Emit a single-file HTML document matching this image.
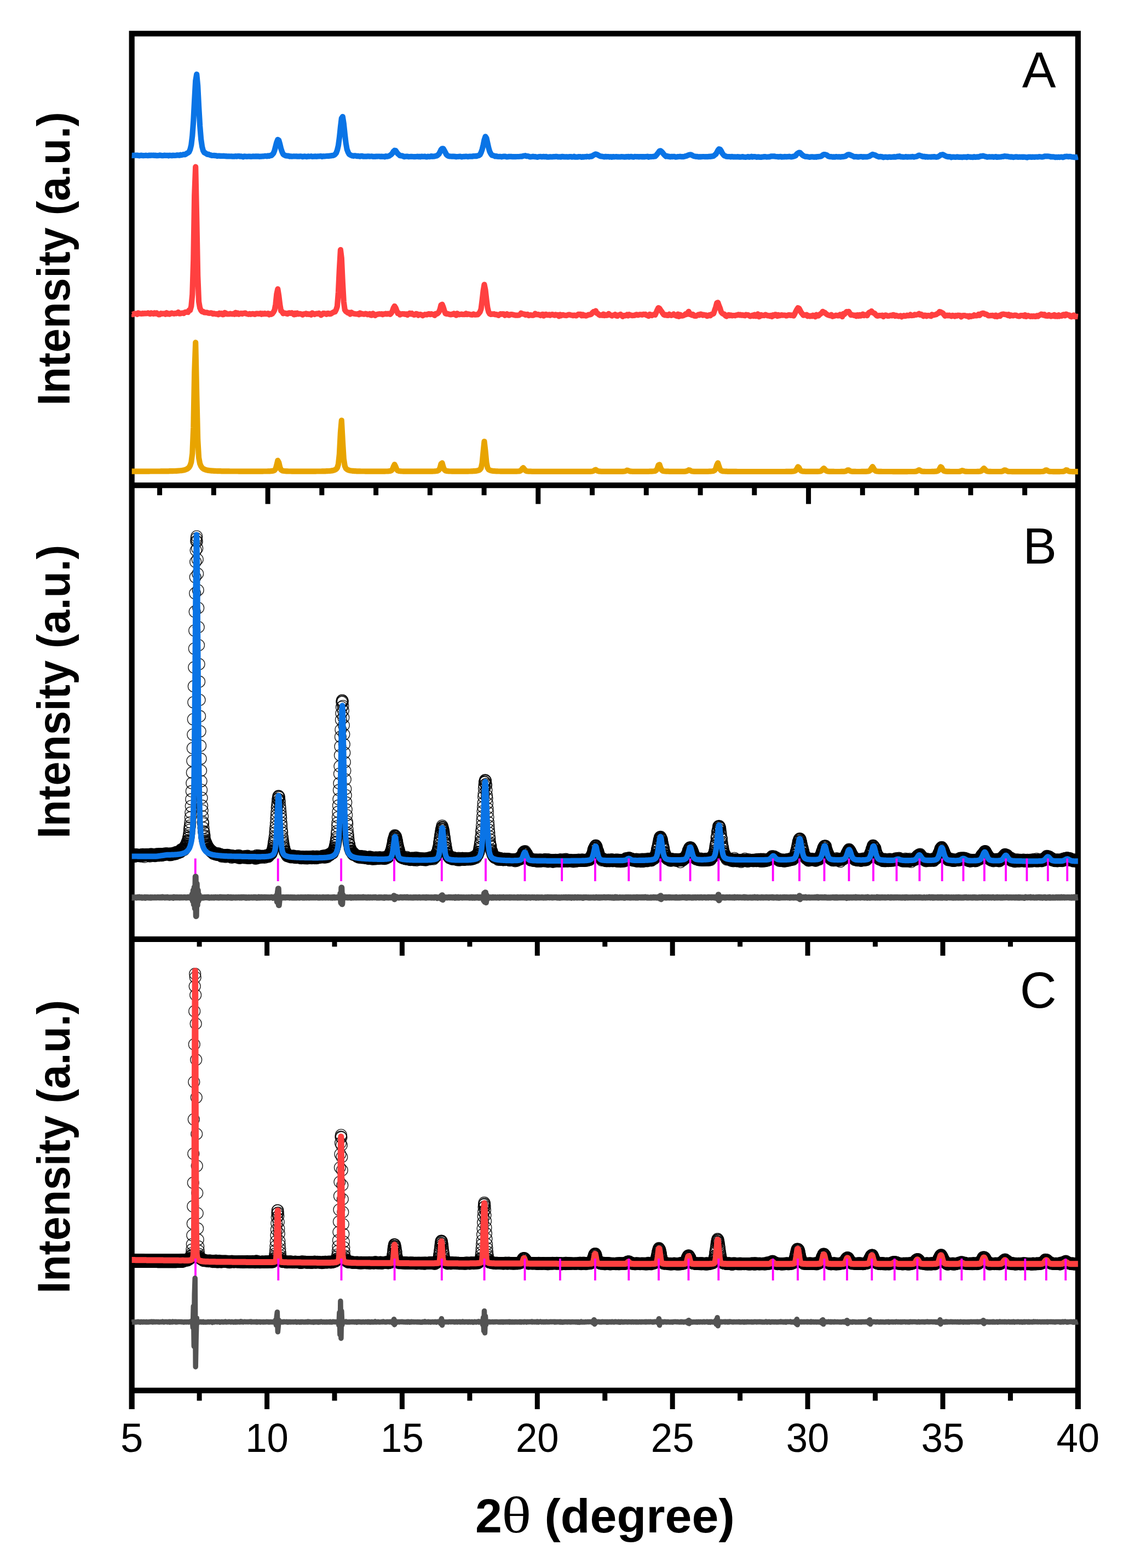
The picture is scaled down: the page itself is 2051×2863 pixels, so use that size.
<!DOCTYPE html>
<html lang="en"><head><meta charset="utf-8"><title>XRD patterns</title>
<style>html,body{margin:0;padding:0;background:#fff;width:2051px;height:2863px;overflow:hidden}svg{display:block}</style></head>
<body>
<svg width="2051" height="2863" viewBox="0 0 2051 2863">
<defs><marker id="mk" viewBox="-14 -14 28 28" markerWidth="28" markerHeight="28" refX="0" refY="0" markerUnits="userSpaceOnUse" overflow="visible"><circle r="10.4" fill="none" stroke="#000" stroke-width="1.4" stroke-opacity="0.85"/></marker>
<clipPath id="cpA"><rect x="240.1" y="61.4" width="1729.3" height="824.7"/></clipPath>
<clipPath id="cpB"><rect x="240.1" y="886.1" width="1729.3" height="828.6999999999999"/></clipPath>
<clipPath id="cpC"><rect x="240.1" y="1714.8" width="1729.3" height="824.0000000000002"/></clipPath>
</defs>
<rect width="2051" height="2863" fill="#fff"/>
<g stroke="#000" stroke-width="10.2" fill="none" stroke-linecap="butt">
<path d="M240.7 56.3V2572.9M1968.8 56.3V2572.9M235.6 61.4H1973.8999999999999M240.7 886.1H1968.8M240.7 1714.8H1968.8M240.7 2538.8H1968.8"/>
</g>
<path d="M291.6 886.1V904.2M390.3 886.1V904.2M489.1 886.1V920.2M587.8 886.1V904.2M686.6 886.1V904.2M785.3 886.1V904.2M884.1 886.1V904.2M982.8 886.1V920.2M1081.6 886.1V904.2M1180.3 886.1V904.2M1279.1 886.1V904.2M1377.8 886.1V904.2M1476.6 886.1V920.2M1575.3 886.1V904.2M1674.1 886.1V904.2M1772.8 886.1V904.2M1871.6 886.1V904.2M364.1 1714.8V1728.3999999999999M487.6 1714.8V1744.8999999999999M611.0 1714.8V1728.3999999999999M734.4 1714.8V1744.8999999999999M857.9 1714.8V1728.3999999999999M981.3 1714.8V1744.8999999999999M1104.8 1714.8V1728.3999999999999M1228.2 1714.8V1744.8999999999999M1351.6 1714.8V1728.3999999999999M1475.1 1714.8V1744.8999999999999M1598.5 1714.8V1728.3999999999999M1721.9 1714.8V1744.8999999999999M1845.4 1714.8V1728.3999999999999M364.1 2538.8V2557.4M487.6 2538.8V2572.9M611.0 2538.8V2557.4M734.4 2538.8V2572.9M857.9 2538.8V2557.4M981.3 2538.8V2572.9M1104.8 2538.8V2557.4M1228.2 2538.8V2572.9M1351.6 2538.8V2557.4M1475.1 2538.8V2572.9M1598.5 2538.8V2557.4M1721.9 2538.8V2572.9M1845.4 2538.8V2557.4" stroke="#000" stroke-width="9" fill="none"/>
<g clip-path="url(#cpA)">
<polyline fill="none" stroke="#0a74e6" stroke-width="10.2" stroke-linejoin="round" stroke-linecap="butt" points="240.7,283.8 242.7,283.9 244.6,283.7 246.6,283.6 248.6,283.7 250.6,283.6 252.5,283.9 254.5,284.3 256.5,283.8 258.5,283.7 260.4,284.1 262.4,284.1 264.4,284.0 266.4,283.7 268.3,284.0 270.3,284.2 272.3,283.6 274.3,283.9 276.2,283.5 278.2,283.7 280.2,283.5 282.2,284.0 284.1,283.7 286.1,284.2 288.1,284.1 290.1,284.0 292.0,283.3 294.0,283.9 296.0,284.1 298.0,284.1 299.9,283.6 301.9,283.9 303.9,283.8 305.9,283.8 307.8,284.3 309.8,283.7 311.8,283.9 313.8,284.2 315.7,283.7 317.7,283.8 319.7,283.8 321.7,283.7 323.6,283.2 325.6,283.4 327.6,283.7 329.6,282.6 331.5,283.1 333.5,282.6 335.5,282.0 337.5,282.3 339.4,281.4 341.4,279.9 343.4,279.1 345.4,277.2 347.3,272.9 349.3,264.6 351.3,247.8 353.3,220.3 355.2,183.4 357.2,147.6 359.2,135.7 361.2,156.9 363.1,194.8 365.1,229.4 367.1,253.9 369.1,267.8 371.0,275.0 373.0,278.4 375.0,279.4 377.0,280.7 378.9,281.9 380.9,281.7 382.9,282.7 384.9,283.2 386.8,283.9 388.8,284.0 390.8,283.9 392.8,284.1 394.7,284.2 396.7,284.9 398.7,284.5 400.7,284.6 402.6,284.9 404.6,284.8 406.6,284.9 408.6,284.7 410.5,285.1 412.5,285.0 414.5,285.5 416.5,285.4 418.4,285.3 420.4,285.5 422.4,285.3 424.4,285.7 426.3,285.5 428.3,285.7 430.3,285.1 432.3,285.7 434.2,285.1 436.2,285.0 438.2,285.6 440.2,285.4 442.1,285.7 444.1,286.4 446.1,285.4 448.1,285.5 450.0,285.8 452.0,285.8 454.0,285.6 456.0,285.6 457.9,285.9 459.9,285.8 461.9,285.4 463.9,285.7 465.8,285.7 467.8,285.3 469.8,285.7 471.8,285.4 473.7,285.9 475.7,285.6 477.7,285.6 479.7,285.3 481.6,285.4 483.6,284.8 485.6,284.9 487.6,285.3 489.5,284.3 491.5,285.0 493.5,283.9 495.5,284.0 497.4,282.2 499.4,279.9 501.4,274.8 503.4,267.1 505.3,259.9 507.3,254.9 509.3,256.3 511.3,263.4 513.2,271.4 515.2,277.3 517.2,281.6 519.2,283.1 521.1,284.1 523.1,284.4 525.1,284.7 527.1,284.7 529.0,285.6 531.0,285.3 533.0,285.7 535.0,285.5 536.9,285.3 538.9,285.5 540.9,285.4 542.9,285.6 544.8,285.6 546.8,285.6 548.8,285.3 550.8,285.5 552.7,286.2 554.7,285.5 556.7,285.4 558.7,285.8 560.6,286.2 562.6,285.3 564.6,285.7 566.6,285.5 568.5,285.2 570.5,285.9 572.5,285.7 574.5,285.7 576.4,285.4 578.4,285.8 580.4,285.4 582.4,285.5 584.3,285.2 586.3,285.1 588.3,285.9 590.3,285.2 592.2,285.4 594.2,285.2 596.2,285.0 598.2,284.9 600.1,285.0 602.1,284.6 604.1,284.4 606.1,284.1 608.0,284.0 610.0,283.2 612.0,281.9 614.0,279.4 615.9,274.3 617.9,265.9 619.9,251.2 621.9,232.1 623.8,216.1 625.8,213.1 627.8,225.9 629.8,244.9 631.7,261.0 633.7,272.6 635.7,277.9 637.7,281.5 639.6,282.8 641.6,283.7 643.6,284.5 645.6,284.8 647.5,284.3 649.5,284.3 651.5,285.2 653.5,284.8 655.4,285.3 657.4,285.6 659.4,284.9 661.4,284.9 663.3,285.6 665.3,285.6 667.3,285.6 669.3,285.7 671.2,285.4 673.2,285.3 675.2,285.7 677.2,285.5 679.1,285.3 681.1,285.9 683.1,285.8 685.1,285.9 687.0,285.5 689.0,285.6 691.0,285.5 693.0,285.5 694.9,285.9 696.9,285.5 698.9,285.9 700.9,285.8 702.8,286.3 704.8,285.2 706.8,285.7 708.8,285.2 710.7,284.8 712.7,283.4 714.7,282.0 716.7,279.7 718.6,276.5 720.6,274.7 722.6,275.1 724.6,278.1 726.5,280.6 728.5,282.3 730.5,284.1 732.5,284.5 734.4,284.4 736.4,285.4 738.4,286.1 740.4,285.8 742.3,285.5 744.3,285.6 746.3,286.2 748.3,286.0 750.2,285.9 752.2,285.9 754.2,286.0 756.2,286.2 758.1,286.1 760.1,286.0 762.1,285.7 764.1,286.1 766.0,285.8 768.0,286.3 770.0,285.6 772.0,285.9 773.9,286.0 775.9,285.5 777.9,286.4 779.9,286.3 781.8,285.7 783.8,286.1 785.8,285.9 787.8,285.0 789.7,285.8 791.7,285.6 793.7,285.4 795.7,284.8 797.6,284.4 799.6,283.1 801.6,281.2 803.6,277.5 805.5,273.5 807.5,271.3 809.5,271.4 811.5,274.9 813.4,278.4 815.4,282.4 817.4,284.1 819.4,285.0 821.3,285.4 823.3,285.5 825.3,285.7 827.3,285.6 829.2,285.7 831.2,285.8 833.2,286.3 835.2,286.0 837.1,285.9 839.1,285.7 841.1,285.7 843.1,286.4 845.0,286.0 847.0,285.9 849.0,285.8 851.0,285.5 852.9,285.8 854.9,286.1 856.9,285.6 858.9,285.6 860.8,285.6 862.8,285.6 864.8,285.0 866.8,285.2 868.7,284.9 870.7,285.1 872.7,284.2 874.7,283.9 876.6,282.5 878.6,278.7 880.6,272.8 882.6,264.6 884.5,255.3 886.5,249.4 888.5,252.4 890.5,261.4 892.4,269.8 894.4,276.8 896.4,280.7 898.4,283.3 900.3,283.9 902.3,284.4 904.3,285.5 906.3,285.0 908.2,285.8 910.2,286.0 912.2,285.8 914.2,285.9 916.1,286.4 918.1,285.8 920.1,285.7 922.1,285.6 924.0,286.0 926.0,286.5 928.0,286.3 930.0,285.8 931.9,285.8 933.9,285.9 935.9,286.2 937.9,286.0 939.8,286.2 941.8,286.2 943.8,286.0 945.8,286.0 947.7,286.0 949.7,285.8 951.7,285.6 953.7,285.6 955.6,284.8 957.6,284.5 959.6,284.2 961.6,285.2 963.5,285.0 965.5,285.4 967.5,286.3 969.5,286.3 971.4,286.1 973.4,285.7 975.4,286.1 977.4,286.0 979.3,286.4 981.3,286.9 983.3,286.3 985.3,286.0 987.2,285.9 989.2,286.3 991.2,286.2 993.2,285.9 995.1,286.3 997.1,285.9 999.1,286.6 1001.1,286.6 1003.0,286.6 1005.0,286.2 1007.0,286.5 1009.0,286.3 1010.9,286.2 1012.9,286.2 1014.9,285.9 1016.9,285.9 1018.8,286.5 1020.8,286.3 1022.8,286.4 1024.8,286.6 1026.7,285.8 1028.7,286.1 1030.7,286.4 1032.7,286.4 1034.6,286.2 1036.6,286.6 1038.6,286.4 1040.6,286.0 1042.5,286.0 1044.5,286.6 1046.5,286.5 1048.5,285.7 1050.4,286.7 1052.4,286.5 1054.4,286.7 1056.4,286.2 1058.3,286.2 1060.3,286.0 1062.3,287.0 1064.3,286.2 1066.2,286.7 1068.2,286.1 1070.2,286.3 1072.2,285.7 1074.1,286.0 1076.1,286.3 1078.1,285.4 1080.1,285.7 1082.0,284.7 1084.0,283.2 1086.0,282.1 1088.0,281.4 1089.9,281.9 1091.9,282.9 1093.9,284.0 1095.9,285.1 1097.8,285.4 1099.8,285.6 1101.8,286.1 1103.8,286.5 1105.7,285.8 1107.7,286.3 1109.7,286.1 1111.7,286.0 1113.6,286.6 1115.6,286.2 1117.6,286.8 1119.6,286.1 1121.5,286.5 1123.5,286.3 1125.5,286.1 1127.5,286.5 1129.4,286.3 1131.4,286.5 1133.4,286.4 1135.4,286.0 1137.3,286.3 1139.3,286.4 1141.3,286.7 1143.3,286.1 1145.2,286.4 1147.2,285.9 1149.2,286.6 1151.2,286.1 1153.1,285.8 1155.1,286.4 1157.1,286.7 1159.1,285.9 1161.0,286.0 1163.0,286.1 1165.0,286.0 1167.0,286.5 1168.9,286.1 1170.9,286.1 1172.9,286.5 1174.9,286.1 1176.8,286.4 1178.8,286.0 1180.8,285.9 1182.8,285.7 1184.7,286.8 1186.7,286.1 1188.7,286.2 1190.7,286.0 1192.6,285.9 1194.6,285.6 1196.6,285.5 1198.6,283.4 1200.5,281.1 1202.5,278.5 1204.5,275.7 1206.5,275.3 1208.4,276.9 1210.4,279.2 1212.4,281.8 1214.4,283.9 1216.3,285.5 1218.3,284.8 1220.3,286.0 1222.3,285.7 1224.2,286.4 1226.2,285.8 1228.2,286.1 1230.2,285.8 1232.1,285.9 1234.1,286.7 1236.1,286.5 1238.1,286.1 1240.0,286.0 1242.0,285.7 1244.0,286.1 1246.0,286.2 1247.9,286.1 1249.9,285.8 1251.9,285.1 1253.9,284.7 1255.8,283.7 1257.8,283.0 1259.8,282.6 1261.8,282.4 1263.7,283.2 1265.7,284.5 1267.7,285.2 1269.7,285.6 1271.6,286.0 1273.6,285.8 1275.6,286.4 1277.6,286.2 1279.5,286.3 1281.5,286.2 1283.5,286.0 1285.5,286.0 1287.4,286.2 1289.4,286.0 1291.4,286.2 1293.4,286.1 1295.3,285.7 1297.3,286.0 1299.3,285.4 1301.3,285.4 1303.2,284.9 1305.2,283.2 1307.2,281.7 1309.2,278.5 1311.1,274.7 1313.1,272.1 1315.1,272.6 1317.1,275.6 1319.0,279.5 1321.0,282.3 1323.0,284.3 1325.0,284.9 1326.9,285.8 1328.9,286.0 1330.9,286.0 1332.9,286.0 1334.8,286.4 1336.8,285.8 1338.8,286.4 1340.8,286.4 1342.7,286.4 1344.7,286.5 1346.7,286.2 1348.7,286.3 1350.6,286.6 1352.6,286.6 1354.6,286.5 1356.6,286.0 1358.5,286.6 1360.5,286.8 1362.5,286.8 1364.5,286.5 1366.4,286.0 1368.4,286.8 1370.4,286.4 1372.4,285.7 1374.3,286.6 1376.3,286.1 1378.3,286.1 1380.3,286.3 1382.2,286.9 1384.2,286.4 1386.2,286.6 1388.2,287.0 1390.1,287.0 1392.1,286.5 1394.1,286.4 1396.1,286.1 1398.0,286.2 1400.0,286.6 1402.0,286.5 1404.0,286.3 1405.9,286.3 1407.9,285.4 1409.9,285.3 1411.9,285.3 1413.8,285.3 1415.8,285.8 1417.8,286.0 1419.8,286.0 1421.7,286.4 1423.7,286.1 1425.7,285.9 1427.7,286.6 1429.6,286.4 1431.6,286.5 1433.6,285.9 1435.6,286.3 1437.5,286.2 1439.5,286.1 1441.5,285.7 1443.5,286.2 1445.4,286.5 1447.4,286.1 1449.4,285.5 1451.4,285.0 1453.3,284.1 1455.3,281.2 1457.3,279.8 1459.3,278.5 1461.2,278.8 1463.2,280.9 1465.2,282.8 1467.2,284.3 1469.1,285.3 1471.1,286.0 1473.1,285.9 1475.1,286.2 1477.0,286.5 1479.0,286.9 1481.0,286.3 1483.0,286.4 1484.9,286.4 1486.9,286.8 1488.9,286.4 1490.9,286.8 1492.8,286.0 1494.8,286.1 1496.8,285.8 1498.8,285.6 1500.7,284.8 1502.7,282.9 1504.7,282.1 1506.7,282.1 1508.6,282.6 1510.6,283.5 1512.6,285.3 1514.6,285.8 1516.5,286.2 1518.5,286.1 1520.5,286.7 1522.5,286.3 1524.4,286.7 1526.4,286.2 1528.4,286.2 1530.4,286.5 1532.3,286.2 1534.3,286.6 1536.3,286.4 1538.3,286.0 1540.2,286.1 1542.2,285.6 1544.2,285.3 1546.2,283.7 1548.1,282.5 1550.1,282.2 1552.1,282.6 1554.1,283.6 1556.0,284.3 1558.0,285.3 1560.0,286.3 1562.0,286.1 1563.9,286.0 1565.9,286.4 1567.9,286.6 1569.9,286.2 1571.8,286.0 1573.8,286.0 1575.8,286.7 1577.8,286.2 1579.7,286.4 1581.7,286.4 1583.7,286.4 1585.7,285.8 1587.6,285.5 1589.6,284.1 1591.6,283.1 1593.6,281.9 1595.5,282.5 1597.5,282.9 1599.5,283.9 1601.5,285.0 1603.4,285.7 1605.4,286.4 1607.4,285.9 1609.4,286.1 1611.3,286.4 1613.3,287.3 1615.3,286.8 1617.3,286.5 1619.2,286.8 1621.2,287.2 1623.2,286.5 1625.2,286.5 1627.1,286.9 1629.1,286.7 1631.1,286.7 1633.1,286.2 1635.0,286.7 1637.0,286.3 1639.0,285.7 1641.0,285.8 1642.9,285.2 1644.9,286.3 1646.9,286.3 1648.9,286.6 1650.8,286.7 1652.8,286.5 1654.8,286.1 1656.8,286.7 1658.7,286.4 1660.7,286.5 1662.7,286.4 1664.7,286.4 1666.6,285.8 1668.6,286.7 1670.6,286.2 1672.6,286.0 1674.5,285.6 1676.5,284.4 1678.5,283.5 1680.5,284.1 1682.4,284.6 1684.4,285.5 1686.4,286.1 1688.4,285.7 1690.3,286.6 1692.3,286.1 1694.3,286.7 1696.3,286.5 1698.2,286.5 1700.2,286.6 1702.2,286.4 1704.2,286.4 1706.1,286.0 1708.1,286.4 1710.1,286.8 1712.1,286.5 1714.0,285.7 1716.0,284.5 1718.0,282.9 1720.0,282.6 1721.9,282.2 1723.9,283.1 1725.9,284.3 1727.9,285.4 1729.8,285.8 1731.8,286.3 1733.8,286.1 1735.8,286.4 1737.7,287.3 1739.7,286.6 1741.7,286.6 1743.7,286.8 1745.6,286.9 1747.6,286.4 1749.6,286.6 1751.6,287.0 1753.5,286.8 1755.5,286.8 1757.5,287.2 1759.5,286.5 1761.4,286.8 1763.4,286.6 1765.4,287.2 1767.4,286.1 1769.3,286.5 1771.3,286.6 1773.3,286.9 1775.3,286.9 1777.2,287.1 1779.2,286.2 1781.2,286.9 1783.2,286.6 1785.1,286.4 1787.1,286.6 1789.1,285.9 1791.1,285.1 1793.0,285.2 1795.0,284.6 1797.0,285.0 1799.0,285.7 1800.9,286.1 1802.9,286.8 1804.9,286.5 1806.9,286.2 1808.8,286.5 1810.8,286.4 1812.8,286.3 1814.8,286.8 1816.7,286.5 1818.7,286.1 1820.7,286.9 1822.7,286.6 1824.6,286.7 1826.6,286.5 1828.6,286.4 1830.6,285.9 1832.5,285.8 1834.5,285.2 1836.5,285.3 1838.5,285.6 1840.4,285.5 1842.4,286.2 1844.4,286.4 1846.4,286.7 1848.3,286.3 1850.3,287.2 1852.3,286.8 1854.3,286.4 1856.2,286.3 1858.2,286.7 1860.2,286.8 1862.2,286.6 1864.1,286.8 1866.1,286.6 1868.1,287.0 1870.1,286.6 1872.0,286.8 1874.0,287.1 1876.0,287.6 1878.0,286.5 1879.9,286.7 1881.9,286.6 1883.9,287.0 1885.9,286.5 1887.8,286.7 1889.8,286.8 1891.8,286.5 1893.8,286.5 1895.7,286.6 1897.7,286.1 1899.7,286.3 1901.7,286.5 1903.6,286.6 1905.6,286.2 1907.6,285.4 1909.6,285.3 1911.5,285.4 1913.5,285.3 1915.5,285.5 1917.5,285.7 1919.4,286.5 1921.4,286.4 1923.4,286.3 1925.4,286.5 1927.3,287.2 1929.3,286.8 1931.3,287.1 1933.3,286.6 1935.2,287.1 1937.2,286.6 1939.2,286.6 1941.2,287.3 1943.1,286.6 1945.1,285.9 1947.1,285.7 1949.1,285.7 1951.0,286.1 1953.0,285.9 1955.0,285.8 1957.0,286.5 1958.9,286.7 1960.9,286.8 1962.9,287.2 1964.9,286.9 1966.8,287.1 1968.8,286.5"/>
<polyline fill="none" stroke="#ff4040" stroke-width="10.2" stroke-linejoin="round" stroke-linecap="butt" points="240.7,573.1 242.7,574.2 244.6,573.0 246.6,572.6 248.6,572.5 250.6,574.0 252.5,571.5 254.5,572.3 256.5,572.8 258.5,573.0 260.4,572.0 262.4,572.7 264.4,572.1 266.4,572.5 268.3,572.3 270.3,571.4 272.3,572.4 274.3,573.2 276.2,571.5 278.2,572.2 280.2,573.0 282.2,571.4 284.1,572.6 286.1,571.4 288.1,573.4 290.1,574.5 292.0,574.2 294.0,572.2 296.0,573.0 298.0,572.5 299.9,572.5 301.9,573.7 303.9,571.2 305.9,573.3 307.8,572.3 309.8,573.6 311.8,572.4 313.8,571.6 315.7,572.5 317.7,572.8 319.7,572.2 321.7,572.5 323.6,571.5 325.6,570.0 327.6,572.7 329.6,572.4 331.5,571.7 333.5,571.5 335.5,572.1 337.5,570.4 339.4,569.8 341.4,569.7 343.4,570.1 345.4,566.4 347.3,566.5 349.3,559.3 351.3,537.8 353.3,473.6 355.2,357.4 357.2,304.7 359.2,398.9 361.2,503.5 363.1,550.6 365.1,562.3 367.1,566.8 369.1,568.9 371.0,568.8 373.0,570.5 375.0,570.7 377.0,570.6 378.9,570.9 380.9,571.7 382.9,571.8 384.9,571.4 386.8,571.7 388.8,573.2 390.8,572.4 392.8,573.1 394.7,573.5 396.7,573.0 398.7,574.5 400.7,571.8 402.6,573.3 404.6,572.3 406.6,574.3 408.6,574.2 410.5,570.9 412.5,571.8 414.5,573.3 416.5,573.4 418.4,573.4 420.4,572.7 422.4,573.2 424.4,573.4 426.3,572.7 428.3,573.7 430.3,570.8 432.3,573.4 434.2,571.9 436.2,573.7 438.2,572.7 440.2,572.1 442.1,573.2 444.1,572.1 446.1,572.1 448.1,571.5 450.0,572.9 452.0,573.4 454.0,573.9 456.0,572.8 457.9,573.9 459.9,573.0 461.9,572.9 463.9,573.5 465.8,573.9 467.8,572.6 469.8,572.7 471.8,572.8 473.7,573.0 475.7,572.1 477.7,573.8 479.7,572.5 481.6,573.3 483.6,572.1 485.6,573.1 487.6,573.1 489.5,572.3 491.5,574.4 493.5,572.8 495.5,573.8 497.4,572.6 499.4,570.0 501.4,566.2 503.4,555.6 505.3,537.0 507.3,527.7 509.3,540.4 511.3,556.6 513.2,567.6 515.2,569.0 517.2,572.3 519.2,571.7 521.1,571.9 523.1,572.5 525.1,573.1 527.1,571.6 529.0,571.4 531.0,572.0 533.0,571.2 535.0,572.2 536.9,574.5 538.9,572.2 540.9,573.7 542.9,571.9 544.8,573.4 546.8,572.9 548.8,573.1 550.8,573.7 552.7,574.8 554.7,573.4 556.7,573.3 558.7,572.4 560.6,573.8 562.6,573.0 564.6,574.0 566.6,573.2 568.5,574.8 570.5,571.5 572.5,573.0 574.5,574.0 576.4,572.9 578.4,572.5 580.4,573.0 582.4,571.9 584.3,573.3 586.3,575.3 588.3,574.1 590.3,572.1 592.2,572.2 594.2,572.6 596.2,573.8 598.2,572.1 600.1,572.1 602.1,573.3 604.1,573.1 606.1,571.7 608.0,570.6 610.0,569.6 612.0,569.3 614.0,565.3 615.9,559.4 617.9,533.8 619.9,491.2 621.9,456.2 623.8,471.5 625.8,515.5 627.8,551.1 629.8,565.8 631.7,568.5 633.7,569.9 635.7,571.4 637.7,570.6 639.6,573.7 641.6,570.4 643.6,571.8 645.6,572.7 647.5,572.9 649.5,573.3 651.5,573.5 653.5,573.1 655.4,574.4 657.4,571.5 659.4,573.4 661.4,572.8 663.3,573.6 665.3,573.7 667.3,572.7 669.3,573.0 671.2,574.3 673.2,573.9 675.2,573.0 677.2,575.5 679.1,575.7 681.1,572.4 683.1,574.0 685.1,576.0 687.0,574.4 689.0,573.9 691.0,573.5 693.0,573.2 694.9,573.5 696.9,573.2 698.9,574.4 700.9,573.3 702.8,573.3 704.8,572.6 706.8,573.5 708.8,572.7 710.7,573.2 712.7,573.8 714.7,571.6 716.7,568.0 718.6,562.4 720.6,559.0 722.6,562.0 724.6,567.3 726.5,572.0 728.5,571.9 730.5,574.6 732.5,573.6 734.4,573.0 736.4,573.3 738.4,573.2 740.4,574.0 742.3,573.3 744.3,575.0 746.3,573.2 748.3,571.9 750.2,573.3 752.2,572.2 754.2,574.0 756.2,575.0 758.1,574.6 760.1,572.8 762.1,573.4 764.1,575.6 766.0,574.3 768.0,574.1 770.0,575.0 772.0,576.3 773.9,575.2 775.9,574.2 777.9,574.4 779.9,574.6 781.8,573.5 783.8,573.1 785.8,574.1 787.8,573.1 789.7,573.9 791.7,574.0 793.7,575.9 795.7,572.9 797.6,573.2 799.6,572.1 801.6,569.7 803.6,564.7 805.5,557.1 807.5,555.8 809.5,560.6 811.5,567.3 813.4,572.3 815.4,573.2 817.4,572.8 819.4,573.5 821.3,574.0 823.3,574.5 825.3,573.6 827.3,573.9 829.2,572.5 831.2,573.2 833.2,575.7 835.2,572.3 837.1,573.9 839.1,574.4 841.1,573.9 843.1,573.5 845.0,574.2 847.0,574.2 849.0,574.2 851.0,572.5 852.9,574.1 854.9,573.4 856.9,573.7 858.9,574.3 860.8,574.7 862.8,574.8 864.8,573.5 866.8,574.6 868.7,574.7 870.7,574.4 872.7,574.3 874.7,572.1 876.6,569.7 878.6,564.1 880.6,548.3 882.6,530.9 884.5,519.6 886.5,529.5 888.5,547.1 890.5,562.1 892.4,569.7 894.4,573.0 896.4,574.0 898.4,573.4 900.3,573.6 902.3,573.2 904.3,574.4 906.3,574.0 908.2,574.8 910.2,575.9 912.2,574.3 914.2,573.1 916.1,573.7 918.1,573.2 920.1,573.4 922.1,575.7 924.0,574.8 926.0,573.2 928.0,575.2 930.0,575.7 931.9,574.3 933.9,574.0 935.9,574.3 937.9,574.9 939.8,575.2 941.8,575.7 943.8,575.7 945.8,575.6 947.7,575.5 949.7,574.4 951.7,571.8 953.7,572.7 955.6,573.4 957.6,573.5 959.6,575.1 961.6,574.3 963.5,573.9 965.5,576.1 967.5,575.4 969.5,575.0 971.4,575.6 973.4,575.8 975.4,575.1 977.4,572.6 979.3,574.2 981.3,574.5 983.3,574.0 985.3,575.1 987.2,576.0 989.2,574.5 991.2,573.9 993.2,576.7 995.1,574.5 997.1,573.8 999.1,575.1 1001.1,575.3 1003.0,574.3 1005.0,575.7 1007.0,574.5 1009.0,574.1 1010.9,575.1 1012.9,575.7 1014.9,574.4 1016.9,575.3 1018.8,574.9 1020.8,577.5 1022.8,574.4 1024.8,576.3 1026.7,575.0 1028.7,574.9 1030.7,575.7 1032.7,575.8 1034.6,576.2 1036.6,575.3 1038.6,574.5 1040.6,574.6 1042.5,575.5 1044.5,575.6 1046.5,576.3 1048.5,575.5 1050.4,576.0 1052.4,576.5 1054.4,575.2 1056.4,573.8 1058.3,574.0 1060.3,573.8 1062.3,576.5 1064.3,574.3 1066.2,576.2 1068.2,575.6 1070.2,576.6 1072.2,575.9 1074.1,574.9 1076.1,574.6 1078.1,574.5 1080.1,573.5 1082.0,571.0 1084.0,569.2 1086.0,569.5 1088.0,567.7 1089.9,571.8 1091.9,572.6 1093.9,574.6 1095.9,575.6 1097.8,575.0 1099.8,575.8 1101.8,573.7 1103.8,576.2 1105.7,574.7 1107.7,575.8 1109.7,575.4 1111.7,572.9 1113.6,574.6 1115.6,575.5 1117.6,576.7 1119.6,575.6 1121.5,575.5 1123.5,574.0 1125.5,576.6 1127.5,577.0 1129.4,575.4 1131.4,575.1 1133.4,573.9 1135.4,576.2 1137.3,577.8 1139.3,576.0 1141.3,576.5 1143.3,575.9 1145.2,574.5 1147.2,576.6 1149.2,574.3 1151.2,575.2 1153.1,575.7 1155.1,576.2 1157.1,575.8 1159.1,575.8 1161.0,574.7 1163.0,574.3 1165.0,575.5 1167.0,574.8 1168.9,574.3 1170.9,574.3 1172.9,575.0 1174.9,573.8 1176.8,574.2 1178.8,573.9 1180.8,575.6 1182.8,575.7 1184.7,577.2 1186.7,574.0 1188.7,574.6 1190.7,576.0 1192.6,574.8 1194.6,574.2 1196.6,574.8 1198.6,570.4 1200.5,565.8 1202.5,562.0 1204.5,563.1 1206.5,566.3 1208.4,568.8 1210.4,572.0 1212.4,574.8 1214.4,575.5 1216.3,574.6 1218.3,575.9 1220.3,575.9 1222.3,573.8 1224.2,575.2 1226.2,575.9 1228.2,575.0 1230.2,573.6 1232.1,575.3 1234.1,576.2 1236.1,577.0 1238.1,573.6 1240.0,577.9 1242.0,574.5 1244.0,576.4 1246.0,576.6 1247.9,576.3 1249.9,575.3 1251.9,573.5 1253.9,574.1 1255.8,571.5 1257.8,568.8 1259.8,573.8 1261.8,573.2 1263.7,575.5 1265.7,574.0 1267.7,576.6 1269.7,576.9 1271.6,576.9 1273.6,575.5 1275.6,574.5 1277.6,575.4 1279.5,573.6 1281.5,574.0 1283.5,575.6 1285.5,574.7 1287.4,575.4 1289.4,575.4 1291.4,577.2 1293.4,576.5 1295.3,575.2 1297.3,576.2 1299.3,574.0 1301.3,573.6 1303.2,572.7 1305.2,566.5 1307.2,560.9 1309.2,553.3 1311.1,552.3 1313.1,558.0 1315.1,562.9 1317.1,569.6 1319.0,572.0 1321.0,573.3 1323.0,573.8 1325.0,576.5 1326.9,577.5 1328.9,575.9 1330.9,574.9 1332.9,576.2 1334.8,575.3 1336.8,576.4 1338.8,576.0 1340.8,576.0 1342.7,576.3 1344.7,575.3 1346.7,575.4 1348.7,574.3 1350.6,575.4 1352.6,574.6 1354.6,575.7 1356.6,575.0 1358.5,576.0 1360.5,576.3 1362.5,574.6 1364.5,575.2 1366.4,575.0 1368.4,576.6 1370.4,577.4 1372.4,576.7 1374.3,575.6 1376.3,577.2 1378.3,574.6 1380.3,577.3 1382.2,575.3 1384.2,573.4 1386.2,578.3 1388.2,577.4 1390.1,575.0 1392.1,576.1 1394.1,575.8 1396.1,576.1 1398.0,574.6 1400.0,575.4 1402.0,576.4 1404.0,576.2 1405.9,577.1 1407.9,576.0 1409.9,578.1 1411.9,575.3 1413.8,576.2 1415.8,574.3 1417.8,574.8 1419.8,577.2 1421.7,575.1 1423.7,576.4 1425.7,575.9 1427.7,575.0 1429.6,575.6 1431.6,575.5 1433.6,575.5 1435.6,576.6 1437.5,576.5 1439.5,575.3 1441.5,575.0 1443.5,575.9 1445.4,575.4 1447.4,576.1 1449.4,576.6 1451.4,573.1 1453.3,569.1 1455.3,565.3 1457.3,562.2 1459.3,563.1 1461.2,566.4 1463.2,570.5 1465.2,573.0 1467.2,575.5 1469.1,575.0 1471.1,575.5 1473.1,574.7 1475.1,577.3 1477.0,576.3 1479.0,577.5 1481.0,576.6 1483.0,577.3 1484.9,575.7 1486.9,576.5 1488.9,578.3 1490.9,574.7 1492.8,576.6 1494.8,576.6 1496.8,574.4 1498.8,573.0 1500.7,571.6 1502.7,568.8 1504.7,570.4 1506.7,571.0 1508.6,572.9 1510.6,574.3 1512.6,575.4 1514.6,575.9 1516.5,576.3 1518.5,574.7 1520.5,577.8 1522.5,577.1 1524.4,576.7 1526.4,575.7 1528.4,575.9 1530.4,576.5 1532.3,576.4 1534.3,574.4 1536.3,576.4 1538.3,578.1 1540.2,572.9 1542.2,574.0 1544.2,571.4 1546.2,569.1 1548.1,569.9 1550.1,568.8 1552.1,572.2 1554.1,575.2 1556.0,574.9 1558.0,575.2 1560.0,576.0 1562.0,575.6 1563.9,577.5 1565.9,575.2 1567.9,576.9 1569.9,574.9 1571.8,576.7 1573.8,576.0 1575.8,573.7 1577.8,576.0 1579.7,574.9 1581.7,575.1 1583.7,576.2 1585.7,572.4 1587.6,570.3 1589.6,570.5 1591.6,568.2 1593.6,570.4 1595.5,571.4 1597.5,572.4 1599.5,574.7 1601.5,576.7 1603.4,576.8 1605.4,576.1 1607.4,576.2 1609.4,576.1 1611.3,575.7 1613.3,578.1 1615.3,576.3 1617.3,575.3 1619.2,575.9 1621.2,577.0 1623.2,576.9 1625.2,576.2 1627.1,575.8 1629.1,576.4 1631.1,574.8 1633.1,575.2 1635.0,577.1 1637.0,576.0 1639.0,576.8 1641.0,577.5 1642.9,577.0 1644.9,576.4 1646.9,578.4 1648.9,577.0 1650.8,576.1 1652.8,577.1 1654.8,576.8 1656.8,575.6 1658.7,576.5 1660.7,576.3 1662.7,574.6 1664.7,576.2 1666.6,576.0 1668.6,575.8 1670.6,574.3 1672.6,575.0 1674.5,574.6 1676.5,574.1 1678.5,572.8 1680.5,574.9 1682.4,573.9 1684.4,575.4 1686.4,577.2 1688.4,575.6 1690.3,575.9 1692.3,577.4 1694.3,576.0 1696.3,576.1 1698.2,576.6 1700.2,577.3 1702.2,574.3 1704.2,575.5 1706.1,575.1 1708.1,574.6 1710.1,574.0 1712.1,572.6 1714.0,571.8 1716.0,569.1 1718.0,569.6 1720.0,571.0 1721.9,571.8 1723.9,574.3 1725.9,576.8 1727.9,576.3 1729.8,575.7 1731.8,576.3 1733.8,575.6 1735.8,576.7 1737.7,577.3 1739.7,575.8 1741.7,576.4 1743.7,577.6 1745.6,576.1 1747.6,576.8 1749.6,575.7 1751.6,575.9 1753.5,576.1 1755.5,578.6 1757.5,576.3 1759.5,576.2 1761.4,576.1 1763.4,576.5 1765.4,577.2 1767.4,576.8 1769.3,578.5 1771.3,576.8 1773.3,577.9 1775.3,576.9 1777.2,577.1 1779.2,575.3 1781.2,576.4 1783.2,576.4 1785.1,576.0 1787.1,573.9 1789.1,575.8 1791.1,573.6 1793.0,572.4 1795.0,571.9 1797.0,572.2 1799.0,573.8 1800.9,573.5 1802.9,574.7 1804.9,576.4 1806.9,576.5 1808.8,576.2 1810.8,576.1 1812.8,575.9 1814.8,576.6 1816.7,577.7 1818.7,575.7 1820.7,578.0 1822.7,577.4 1824.6,576.1 1826.6,577.0 1828.6,574.6 1830.6,573.8 1832.5,573.6 1834.5,574.0 1836.5,574.2 1838.5,574.6 1840.4,575.8 1842.4,574.2 1844.4,576.9 1846.4,575.4 1848.3,576.1 1850.3,576.4 1852.3,575.7 1854.3,575.6 1856.2,575.9 1858.2,576.8 1860.2,577.4 1862.2,577.3 1864.1,576.0 1866.1,576.1 1868.1,576.0 1870.1,577.3 1872.0,575.0 1874.0,578.0 1876.0,576.4 1878.0,576.2 1879.9,577.2 1881.9,577.8 1883.9,577.2 1885.9,577.8 1887.8,577.0 1889.8,577.9 1891.8,577.8 1893.8,576.4 1895.7,577.5 1897.7,575.8 1899.7,575.1 1901.7,573.7 1903.6,574.1 1905.6,575.5 1907.6,574.3 1909.6,576.6 1911.5,576.8 1913.5,576.9 1915.5,574.8 1917.5,576.8 1919.4,577.5 1921.4,576.2 1923.4,577.0 1925.4,574.8 1927.3,577.5 1929.3,576.3 1931.3,577.7 1933.3,575.2 1935.2,577.4 1937.2,576.3 1939.2,576.8 1941.2,574.7 1943.1,574.3 1945.1,576.5 1947.1,573.7 1949.1,574.3 1951.0,575.4 1953.0,575.3 1955.0,577.7 1957.0,578.4 1958.9,576.3 1960.9,575.4 1962.9,578.1 1964.9,578.0 1966.8,577.8 1968.8,578.1"/>
<polyline fill="none" stroke="#e8a400" stroke-width="10.2" stroke-linejoin="round" stroke-linecap="butt" points="240.7,860.6 242.7,860.6 244.6,860.6 246.6,860.6 248.6,860.6 250.6,860.6 252.5,860.6 254.5,860.6 256.5,860.6 258.5,860.6 260.4,860.6 262.4,860.6 264.4,860.6 266.4,860.6 268.3,860.6 270.3,860.6 272.3,860.6 274.3,860.5 276.2,860.5 278.2,860.5 280.2,860.5 282.2,860.5 284.1,860.5 286.1,860.5 288.1,860.5 290.1,860.5 292.0,860.5 294.0,860.4 296.0,860.4 298.0,860.4 299.9,860.4 301.9,860.4 303.9,860.3 305.9,860.3 307.8,860.3 309.8,860.2 311.8,860.2 313.8,860.1 315.7,860.1 317.7,860.0 319.7,860.0 321.7,859.9 323.6,859.8 325.6,859.6 327.6,859.5 329.6,859.3 331.5,859.1 333.5,858.8 335.5,858.4 337.5,858.0 339.4,857.3 341.4,856.4 343.4,855.1 345.4,853.2 347.3,849.9 349.3,843.9 351.3,828.2 353.3,780.7 355.2,681.0 357.2,625.4 359.2,720.4 361.2,803.0 363.1,835.7 365.1,846.5 367.1,851.3 369.1,854.0 371.0,855.7 373.0,856.8 375.0,857.6 377.0,858.2 378.9,858.6 380.9,858.9 382.9,859.2 384.9,859.4 386.8,859.6 388.8,859.7 390.8,859.8 392.8,859.9 394.7,860.0 396.7,860.1 398.7,860.1 400.7,860.2 402.6,860.2 404.6,860.3 406.6,860.3 408.6,860.3 410.5,860.4 412.5,860.4 414.5,860.4 416.5,860.4 418.4,860.4 420.4,860.5 422.4,860.5 424.4,860.5 426.3,860.5 428.3,860.5 430.3,860.5 432.3,860.5 434.2,860.5 436.2,860.6 438.2,860.6 440.2,860.6 442.1,860.6 444.1,860.6 446.1,860.6 448.1,860.6 450.0,860.6 452.0,860.6 454.0,860.6 456.0,860.6 457.9,860.6 459.9,860.6 461.9,860.6 463.9,860.6 465.8,860.6 467.8,860.6 469.8,860.6 471.8,860.6 473.7,860.6 475.7,860.6 477.7,860.6 479.7,860.6 481.6,860.5 483.6,860.5 485.6,860.5 487.6,860.5 489.5,860.4 491.5,860.4 493.5,860.3 495.5,860.1 497.4,859.9 499.4,859.5 501.4,858.7 503.4,856.1 505.3,849.3 507.3,840.8 509.3,844.6 511.3,853.3 513.2,857.7 515.2,859.2 517.2,859.7 519.2,860.0 521.1,860.2 523.1,860.3 525.1,860.4 527.1,860.5 529.0,860.5 531.0,860.5 533.0,860.6 535.0,860.6 536.9,860.6 538.9,860.6 540.9,860.6 542.9,860.6 544.8,860.6 546.8,860.6 548.8,860.6 550.8,860.6 552.7,860.6 554.7,860.6 556.7,860.6 558.7,860.6 560.6,860.6 562.6,860.6 564.6,860.6 566.6,860.6 568.5,860.6 570.5,860.6 572.5,860.6 574.5,860.6 576.4,860.6 578.4,860.5 580.4,860.5 582.4,860.5 584.3,860.5 586.3,860.5 588.3,860.4 590.3,860.4 592.2,860.3 594.2,860.3 596.2,860.2 598.2,860.1 600.1,860.0 602.1,859.9 604.1,859.7 606.1,859.4 608.0,859.1 610.0,858.6 612.0,857.8 614.0,856.5 615.9,854.1 617.9,847.9 619.9,829.1 621.9,789.7 623.8,767.7 625.8,805.3 627.8,837.9 629.8,850.9 631.7,855.2 633.7,857.0 635.7,858.1 637.7,858.8 639.6,859.2 641.6,859.5 643.6,859.8 645.6,859.9 647.5,860.1 649.5,860.2 651.5,860.3 653.5,860.3 655.4,860.4 657.4,860.4 659.4,860.5 661.4,860.5 663.3,860.5 665.3,860.5 667.3,860.6 669.3,860.6 671.2,860.6 673.2,860.6 675.2,860.6 677.2,860.6 679.1,860.6 681.1,860.6 683.1,860.6 685.1,860.6 687.0,860.7 689.0,860.7 691.0,860.6 693.0,860.6 694.9,860.6 696.9,860.6 698.9,860.6 700.9,860.6 702.8,860.6 704.8,860.5 706.8,860.5 708.8,860.4 710.7,860.2 712.7,859.9 714.7,859.2 716.7,857.1 718.6,852.3 720.6,848.1 722.6,852.3 724.6,857.1 726.5,859.3 728.5,860.0 730.5,860.2 732.5,860.4 734.4,860.5 736.4,860.6 738.4,860.6 740.4,860.6 742.3,860.7 744.3,860.7 746.3,860.7 748.3,860.7 750.2,860.7 752.2,860.7 754.2,860.7 756.2,860.7 758.1,860.7 760.1,860.7 762.1,860.7 764.1,860.7 766.0,860.7 768.0,860.7 770.0,860.7 772.0,860.7 773.9,860.7 775.9,860.7 777.9,860.7 779.9,860.7 781.8,860.7 783.8,860.7 785.8,860.6 787.8,860.6 789.7,860.6 791.7,860.5 793.7,860.4 795.7,860.2 797.6,860.0 799.6,859.5 801.6,858.2 803.6,854.2 805.5,847.0 807.5,845.4 809.5,852.6 811.5,857.5 813.4,859.3 815.4,859.9 817.4,860.2 819.4,860.3 821.3,860.5 823.3,860.5 825.3,860.6 827.3,860.6 829.2,860.6 831.2,860.6 833.2,860.7 835.2,860.7 837.1,860.7 839.1,860.7 841.1,860.7 843.1,860.7 845.0,860.6 847.0,860.6 849.0,860.6 851.0,860.6 852.9,860.6 854.9,860.6 856.9,860.5 858.9,860.5 860.8,860.4 862.8,860.3 864.8,860.2 866.8,860.1 868.7,859.9 870.7,859.6 872.7,859.2 874.7,858.6 876.6,857.4 878.6,854.5 880.6,845.6 882.6,824.8 884.5,806.0 886.5,823.5 888.5,844.9 890.5,854.2 892.4,857.3 894.4,858.5 896.4,859.2 898.4,859.6 900.3,859.9 902.3,860.1 904.3,860.2 906.3,860.4 908.2,860.4 910.2,860.5 912.2,860.5 914.2,860.6 916.1,860.6 918.1,860.6 920.1,860.7 922.1,860.7 924.0,860.7 926.0,860.7 928.0,860.7 930.0,860.7 931.9,860.7 933.9,860.7 935.9,860.7 937.9,860.7 939.8,860.7 941.8,860.7 943.8,860.6 945.8,860.5 947.7,860.4 949.7,860.0 951.7,858.7 953.7,855.9 955.6,854.2 957.6,856.7 959.6,859.1 961.6,860.1 963.5,860.4 965.5,860.6 967.5,860.7 969.5,860.7 971.4,860.8 973.4,860.8 975.4,860.8 977.4,860.8 979.3,860.8 981.3,860.8 983.3,860.8 985.3,860.8 987.2,860.8 989.2,860.9 991.2,860.9 993.2,860.9 995.1,860.9 997.1,860.9 999.1,860.9 1001.1,860.9 1003.0,860.9 1005.0,860.9 1007.0,860.9 1009.0,860.9 1010.9,860.9 1012.9,860.9 1014.9,860.9 1016.9,860.9 1018.8,860.9 1020.8,860.9 1022.8,860.9 1024.8,860.9 1026.7,860.9 1028.7,860.9 1030.7,860.9 1032.7,860.9 1034.6,860.9 1036.6,860.9 1038.6,860.9 1040.6,860.9 1042.5,860.9 1044.5,860.9 1046.5,860.9 1048.5,860.9 1050.4,860.9 1052.4,860.9 1054.4,860.9 1056.4,860.9 1058.3,860.9 1060.3,860.9 1062.3,860.9 1064.3,860.9 1066.2,860.9 1068.2,860.9 1070.2,860.9 1072.2,860.9 1074.1,860.8 1076.1,860.8 1078.1,860.8 1080.1,860.7 1082.0,860.5 1084.0,859.8 1086.0,858.5 1088.0,857.6 1089.9,858.9 1091.9,860.1 1093.9,860.6 1095.9,860.7 1097.8,860.8 1099.8,860.8 1101.8,860.9 1103.8,860.9 1105.7,860.9 1107.7,860.9 1109.7,860.9 1111.7,860.9 1113.6,860.9 1115.6,860.9 1117.6,860.9 1119.6,860.9 1121.5,860.9 1123.5,860.9 1125.5,860.9 1127.5,860.9 1129.4,860.9 1131.4,860.9 1133.4,860.9 1135.4,860.8 1137.3,860.8 1139.3,860.7 1141.3,860.5 1143.3,859.8 1145.2,858.7 1147.2,859.0 1149.2,860.0 1151.2,860.6 1153.1,860.7 1155.1,860.8 1157.1,860.8 1159.1,860.9 1161.0,860.9 1163.0,860.9 1165.0,860.9 1167.0,860.9 1168.9,860.9 1170.9,860.9 1172.9,860.9 1174.9,860.9 1176.8,860.9 1178.8,860.8 1180.8,860.8 1182.8,860.8 1184.7,860.8 1186.7,860.7 1188.7,860.7 1190.7,860.6 1192.6,860.5 1194.6,860.3 1196.6,859.9 1198.6,858.7 1200.5,855.4 1202.5,849.4 1204.5,848.4 1206.5,854.3 1208.4,858.3 1210.4,859.7 1212.4,860.2 1214.4,860.5 1216.3,860.6 1218.3,860.7 1220.3,860.7 1222.3,860.8 1224.2,860.8 1226.2,860.8 1228.2,860.9 1230.2,860.9 1232.1,860.9 1234.1,860.9 1236.1,860.9 1238.1,860.9 1240.0,860.9 1242.0,860.9 1244.0,860.9 1246.0,860.9 1247.9,860.8 1249.9,860.8 1251.9,860.7 1253.9,860.3 1255.8,859.5 1257.8,858.2 1259.8,858.5 1261.8,859.8 1263.7,860.5 1265.7,860.7 1267.7,860.8 1269.7,860.8 1271.6,860.9 1273.6,860.9 1275.6,860.9 1277.6,860.9 1279.5,860.9 1281.5,860.9 1283.5,860.9 1285.5,860.9 1287.4,860.8 1289.4,860.8 1291.4,860.8 1293.4,860.8 1295.3,860.7 1297.3,860.6 1299.3,860.5 1301.3,860.3 1303.2,859.9 1305.2,858.8 1307.2,855.7 1309.2,849.0 1311.1,845.3 1313.1,851.6 1315.1,857.1 1317.1,859.3 1319.0,860.1 1321.0,860.4 1323.0,860.5 1325.0,860.7 1326.9,860.7 1328.9,860.8 1330.9,860.8 1332.9,860.9 1334.8,860.9 1336.8,860.9 1338.8,860.9 1340.8,860.9 1342.7,860.9 1344.7,860.9 1346.7,861.0 1348.7,861.0 1350.6,861.0 1352.6,861.0 1354.6,861.0 1356.6,861.0 1358.5,861.0 1360.5,861.0 1362.5,861.0 1364.5,861.0 1366.4,861.0 1368.4,861.0 1370.4,861.0 1372.4,861.0 1374.3,861.0 1376.3,861.0 1378.3,861.0 1380.3,861.0 1382.2,861.0 1384.2,861.0 1386.2,861.0 1388.2,861.0 1390.1,861.0 1392.1,861.0 1394.1,861.0 1396.1,861.0 1398.0,861.0 1400.0,861.0 1402.0,861.0 1404.0,861.0 1405.9,861.0 1407.9,861.0 1409.9,861.0 1411.9,861.0 1413.8,861.0 1415.8,861.0 1417.8,861.0 1419.8,861.0 1421.7,861.0 1423.7,861.0 1425.7,861.0 1427.7,861.0 1429.6,861.0 1431.6,861.0 1433.6,861.0 1435.6,860.9 1437.5,860.9 1439.5,860.9 1441.5,860.9 1443.5,860.8 1445.4,860.8 1447.4,860.7 1449.4,860.5 1451.4,860.1 1453.3,859.0 1455.3,856.1 1457.3,852.3 1459.3,854.0 1461.2,857.8 1463.2,859.7 1465.2,860.4 1467.2,860.6 1469.1,860.7 1471.1,860.8 1473.1,860.9 1475.1,860.9 1477.0,860.9 1479.0,860.9 1481.0,860.9 1483.0,860.9 1484.9,860.9 1486.9,860.9 1488.9,860.9 1490.9,860.9 1492.8,860.8 1494.8,860.8 1496.8,860.6 1498.8,860.3 1500.7,859.2 1502.7,856.9 1504.7,855.1 1506.7,857.2 1508.6,859.4 1510.6,860.3 1512.6,860.7 1514.6,860.8 1516.5,860.9 1518.5,860.9 1520.5,860.9 1522.5,860.9 1524.4,861.0 1526.4,861.0 1528.4,861.0 1530.4,861.0 1532.3,861.0 1534.3,861.0 1536.3,860.9 1538.3,860.9 1540.2,860.9 1542.2,860.8 1544.2,860.5 1546.2,859.6 1548.1,858.3 1550.1,858.4 1552.1,859.8 1554.1,860.5 1556.0,860.8 1558.0,860.9 1560.0,860.9 1562.0,860.9 1563.9,861.0 1565.9,861.0 1567.9,861.0 1569.9,861.0 1571.8,861.0 1573.8,860.9 1575.8,860.9 1577.8,860.9 1579.7,860.9 1581.7,860.8 1583.7,860.7 1585.7,860.5 1587.6,860.0 1589.6,858.4 1591.6,854.9 1593.6,852.1 1595.5,855.2 1597.5,858.6 1599.5,860.0 1601.5,860.5 1603.4,860.7 1605.4,860.8 1607.4,860.9 1609.4,860.9 1611.3,861.0 1613.3,861.0 1615.3,861.0 1617.3,861.0 1619.2,861.0 1621.2,861.0 1623.2,861.0 1625.2,861.0 1627.1,861.0 1629.1,861.0 1631.1,861.1 1633.1,861.1 1635.0,861.1 1637.0,861.1 1639.0,861.1 1641.0,861.1 1642.9,861.1 1644.9,861.1 1646.9,861.1 1648.9,861.1 1650.8,861.1 1652.8,861.1 1654.8,861.1 1656.8,861.1 1658.7,861.0 1660.7,861.0 1662.7,861.0 1664.7,861.0 1666.6,861.0 1668.6,861.0 1670.6,860.9 1672.6,860.7 1674.5,860.2 1676.5,859.1 1678.5,858.1 1680.5,859.1 1682.4,860.2 1684.4,860.7 1686.4,860.9 1688.4,860.9 1690.3,861.0 1692.3,861.0 1694.3,861.0 1696.3,861.0 1698.2,861.0 1700.2,861.0 1702.2,860.9 1704.2,860.9 1706.1,860.8 1708.1,860.7 1710.1,860.6 1712.1,860.2 1714.0,859.1 1716.0,856.2 1718.0,852.4 1720.0,853.9 1721.9,857.8 1723.9,859.8 1725.9,860.4 1727.9,860.7 1729.8,860.8 1731.8,860.9 1733.8,860.9 1735.8,861.0 1737.7,861.0 1739.7,861.0 1741.7,861.0 1743.7,861.0 1745.6,861.0 1747.6,861.0 1749.6,861.0 1751.6,860.9 1753.5,860.6 1755.5,859.9 1757.5,859.1 1759.5,859.6 1761.4,860.4 1763.4,860.8 1765.4,860.9 1767.4,861.0 1769.3,861.0 1771.3,861.0 1773.3,861.0 1775.3,861.0 1777.2,861.0 1779.2,861.0 1781.2,861.0 1783.2,861.0 1785.1,860.9 1787.1,860.9 1789.1,860.7 1791.1,860.4 1793.0,859.4 1795.0,857.1 1797.0,855.1 1799.0,857.1 1800.9,859.4 1802.9,860.4 1804.9,860.7 1806.9,860.9 1808.8,860.9 1810.8,861.0 1812.8,861.0 1814.8,861.0 1816.7,861.0 1818.7,861.0 1820.7,861.0 1822.7,861.0 1824.6,861.0 1826.6,861.0 1828.6,860.9 1830.6,860.5 1832.5,859.7 1834.5,858.3 1836.5,858.5 1838.5,859.8 1840.4,860.6 1842.4,860.9 1844.4,861.0 1846.4,861.0 1848.3,861.1 1850.3,861.1 1852.3,861.1 1854.3,861.1 1856.2,861.1 1858.2,861.1 1860.2,861.1 1862.2,861.1 1864.1,861.1 1866.1,861.1 1868.1,861.1 1870.1,861.1 1872.0,861.1 1874.0,861.1 1876.0,861.1 1878.0,861.1 1879.9,861.1 1881.9,861.1 1883.9,861.1 1885.9,861.1 1887.8,861.1 1889.8,861.1 1891.8,861.1 1893.8,861.1 1895.7,861.1 1897.7,861.1 1899.7,861.1 1901.7,861.0 1903.6,860.9 1905.6,860.7 1907.6,859.9 1909.6,858.6 1911.5,858.3 1913.5,859.6 1915.5,860.5 1917.5,860.9 1919.4,861.0 1921.4,861.0 1923.4,861.1 1925.4,861.1 1927.3,861.1 1929.3,861.1 1931.3,861.1 1933.3,861.1 1935.2,861.1 1937.2,861.0 1939.2,861.0 1941.2,860.9 1943.1,860.5 1945.1,859.6 1947.1,858.2 1949.1,858.6 1951.0,860.0 1953.0,860.7 1955.0,860.9 1957.0,861.0 1958.9,861.1 1960.9,861.1 1962.9,861.1 1964.9,861.1 1966.8,861.2 1968.8,861.2"/>
</g>
<g clip-path="url(#cpB)">
<polyline fill="none" stroke="none" marker-start="url(#mk)" marker-mid="url(#mk)" marker-end="url(#mk)" points="240.7,1560.4 241.2,1560.1 241.7,1561.8 242.2,1562.0 242.7,1563.7 243.2,1562.2 243.7,1560.7 244.2,1562.4 244.6,1560.7 245.1,1560.1 245.6,1564.2 246.1,1561.9 246.6,1562.3 247.1,1562.1 247.6,1563.4 248.1,1561.8 248.6,1562.8 249.1,1560.5 249.6,1560.1 250.1,1563.0 250.6,1563.0 251.1,1562.0 251.6,1561.8 252.1,1561.7 252.5,1560.8 253.0,1563.1 253.5,1562.2 254.0,1562.0 254.5,1561.9 255.0,1562.6 255.5,1562.0 256.0,1562.3 256.5,1560.3 257.0,1562.0 257.5,1563.7 258.0,1561.0 258.5,1561.4 259.0,1562.4 259.5,1562.4 260.0,1562.1 260.4,1559.9 260.9,1562.0 261.4,1560.3 261.9,1560.6 262.4,1562.0 262.9,1561.2 263.4,1562.3 263.9,1564.6 264.4,1562.2 264.9,1562.2 265.4,1560.5 265.9,1560.8 266.4,1560.4 266.9,1560.9 267.4,1560.3 267.9,1560.7 268.3,1561.2 268.8,1560.4 269.3,1560.0 269.8,1560.0 270.3,1561.8 270.8,1561.4 271.3,1562.4 271.8,1562.4 272.3,1561.0 272.8,1562.0 273.3,1559.9 273.8,1563.6 274.3,1562.5 274.8,1561.1 275.3,1560.1 275.8,1561.7 276.2,1559.4 276.7,1560.5 277.2,1562.0 277.7,1561.3 278.2,1560.7 278.7,1562.2 279.2,1560.2 279.7,1561.5 280.2,1560.7 280.7,1560.3 281.2,1561.6 281.7,1560.2 282.2,1563.0 282.7,1560.5 283.2,1563.1 283.7,1560.0 284.1,1561.7 284.6,1559.9 285.1,1559.7 285.6,1561.2 286.1,1561.7 286.6,1559.7 287.1,1562.2 287.6,1560.2 288.1,1561.1 288.6,1561.3 289.1,1561.5 289.6,1559.1 290.1,1562.5 290.6,1561.4 291.1,1560.4 291.6,1559.8 292.0,1559.1 292.5,1559.4 293.0,1561.3 293.5,1560.4 294.0,1559.6 294.5,1560.2 295.0,1562.2 295.5,1560.3 296.0,1560.0 296.5,1561.9 297.0,1561.0 297.5,1560.6 298.0,1559.9 298.5,1558.9 299.0,1559.3 299.5,1559.9 299.9,1560.1 300.4,1560.7 300.9,1560.8 301.4,1560.5 301.9,1560.4 302.4,1559.2 302.9,1558.0 303.4,1559.6 303.9,1559.1 304.4,1559.4 304.9,1559.7 305.4,1558.7 305.9,1558.8 306.4,1559.8 306.9,1559.9 307.4,1559.1 307.8,1560.2 308.3,1559.5 308.8,1558.6 309.3,1559.6 309.8,1561.4 310.3,1558.8 310.8,1560.6 311.3,1560.8 311.8,1560.8 312.3,1558.4 312.8,1561.2 313.3,1559.2 313.8,1558.8 314.3,1558.8 314.8,1559.5 315.3,1558.9 315.7,1558.6 316.2,1560.0 316.7,1557.9 317.2,1557.5 317.7,1559.2 318.2,1559.0 318.7,1559.3 319.2,1557.0 319.7,1559.1 320.2,1558.4 320.7,1559.5 321.2,1556.4 321.7,1557.7 322.2,1557.1 322.7,1555.6 323.2,1556.4 323.6,1558.0 324.1,1556.3 324.6,1555.9 325.1,1557.3 325.6,1557.2 326.1,1557.0 326.6,1555.0 327.1,1555.6 327.6,1556.4 328.1,1554.5 328.6,1554.2 329.1,1555.5 329.6,1555.9 330.1,1552.9 330.6,1551.2 331.1,1552.0 331.5,1552.1 332.0,1552.7 332.5,1553.0 333.0,1551.9 333.5,1550.9 334.0,1551.3 334.5,1549.7 335.0,1550.2 335.5,1549.0 336.0,1551.8 336.5,1549.4 337.0,1547.1 337.5,1546.2 338.0,1546.1 338.5,1544.1 339.0,1544.2 339.4,1543.3 339.9,1543.9 340.4,1541.6 340.9,1540.1 341.4,1538.3 341.9,1537.0 342.4,1536.6 342.9,1534.7 343.4,1534.0 343.9,1530.0 344.4,1529.1 344.9,1525.3 345.4,1521.5 345.9,1515.4 346.4,1511.2 346.9,1507.5 347.3,1501.5 347.8,1492.4 348.3,1483.7 348.8,1471.8 349.3,1459.4 349.8,1444.7 350.3,1429.9 350.8,1410.7 351.3,1389.3 351.8,1366.0 352.3,1341.3 352.8,1313.3 353.3,1282.3 353.8,1253.2 354.3,1218.6 354.8,1184.3 355.2,1151.3 355.7,1116.9 356.2,1083.3 356.7,1053.8 357.2,1025.9 357.7,1004.9 358.2,988.0 358.7,983.2 359.2,979.3 359.7,988.7 360.2,1001.2 360.7,1021.4 361.2,1047.6 361.7,1077.5 362.2,1110.0 362.7,1145.0 363.1,1178.0 363.6,1212.7 364.1,1244.7 364.6,1278.0 365.1,1307.7 365.6,1335.3 366.1,1361.7 366.6,1385.4 367.1,1407.0 367.6,1426.3 368.1,1442.3 368.6,1456.8 369.1,1471.2 369.6,1479.8 370.1,1490.5 370.6,1500.8 371.0,1503.5 371.5,1511.5 372.0,1517.9 372.5,1519.8 373.0,1527.7 373.5,1525.7 374.0,1532.4 374.5,1534.9 375.0,1536.3 375.5,1537.0 376.0,1539.2 376.5,1539.4 377.0,1542.4 377.5,1541.7 378.0,1543.6 378.5,1545.9 378.9,1544.7 379.4,1546.4 379.9,1547.7 380.4,1547.0 380.9,1550.2 381.4,1550.0 381.9,1548.8 382.4,1550.8 382.9,1550.7 383.4,1551.3 383.9,1552.5 384.4,1552.2 384.9,1554.4 385.4,1553.1 385.9,1555.2 386.4,1554.6 386.8,1555.8 387.3,1554.8 387.8,1555.1 388.3,1554.8 388.8,1556.8 389.3,1557.5 389.8,1558.9 390.3,1558.4 390.8,1557.6 391.3,1557.4 391.8,1558.2 392.3,1558.0 392.8,1559.7 393.3,1559.4 393.8,1557.8 394.3,1558.2 394.7,1560.4 395.2,1559.5 395.7,1559.2 396.2,1560.7 396.7,1559.3 397.2,1559.6 397.7,1559.5 398.2,1558.2 398.7,1561.2 399.2,1559.2 399.7,1560.0 400.2,1559.9 400.7,1561.5 401.2,1560.8 401.7,1561.0 402.2,1559.5 402.6,1561.2 403.1,1559.9 403.6,1561.8 404.1,1561.9 404.6,1561.6 405.1,1563.8 405.6,1562.4 406.1,1562.5 406.6,1562.2 407.1,1561.9 407.6,1563.1 408.1,1563.4 408.6,1561.0 409.1,1563.5 409.6,1563.0 410.1,1563.5 410.5,1563.1 411.0,1561.4 411.5,1561.6 412.0,1564.6 412.5,1563.1 413.0,1561.5 413.5,1563.4 414.0,1562.7 414.5,1561.3 415.0,1560.9 415.5,1561.6 416.0,1563.5 416.5,1563.3 417.0,1563.1 417.5,1563.7 418.0,1564.0 418.4,1561.4 418.9,1563.2 419.4,1562.7 419.9,1562.3 420.4,1563.1 420.9,1563.5 421.4,1563.4 421.9,1562.3 422.4,1563.3 422.9,1565.8 423.4,1562.8 423.9,1562.2 424.4,1564.2 424.9,1564.5 425.4,1564.4 425.9,1562.9 426.3,1565.0 426.8,1563.2 427.3,1562.9 427.8,1563.5 428.3,1564.0 428.8,1564.8 429.3,1564.8 429.8,1564.2 430.3,1565.1 430.8,1564.3 431.3,1565.1 431.8,1562.9 432.3,1562.7 432.8,1565.1 433.3,1562.9 433.8,1564.1 434.2,1564.3 434.7,1563.9 435.2,1564.0 435.7,1565.8 436.2,1561.9 436.7,1565.3 437.2,1566.8 437.7,1564.5 438.2,1564.5 438.7,1565.3 439.2,1566.4 439.7,1563.4 440.2,1564.7 440.7,1564.4 441.2,1565.2 441.7,1564.8 442.1,1565.3 442.6,1564.2 443.1,1564.7 443.6,1564.0 444.1,1564.0 444.6,1564.6 445.1,1564.6 445.6,1563.5 446.1,1566.3 446.6,1564.6 447.1,1563.4 447.6,1565.9 448.1,1564.0 448.6,1565.3 449.1,1564.8 449.6,1565.0 450.0,1565.0 450.5,1564.2 451.0,1564.8 451.5,1566.8 452.0,1562.6 452.5,1564.9 453.0,1565.3 453.5,1563.8 454.0,1563.5 454.5,1567.0 455.0,1564.5 455.5,1566.9 456.0,1565.4 456.5,1564.9 457.0,1565.3 457.5,1565.5 457.9,1566.0 458.4,1565.3 458.9,1565.0 459.4,1565.0 459.9,1566.2 460.4,1565.7 460.9,1563.9 461.4,1564.2 461.9,1565.2 462.4,1564.2 462.9,1564.5 463.4,1563.9 463.9,1564.6 464.4,1565.3 464.9,1565.8 465.4,1564.8 465.8,1566.9 466.3,1564.7 466.8,1568.0 467.3,1565.8 467.8,1565.3 468.3,1564.3 468.8,1561.9 469.3,1564.6 469.8,1564.9 470.3,1566.6 470.8,1563.3 471.3,1566.6 471.8,1564.4 472.3,1565.4 472.8,1562.1 473.3,1564.7 473.7,1564.2 474.2,1565.2 474.7,1564.6 475.2,1563.3 475.7,1565.4 476.2,1565.1 476.7,1565.0 477.2,1565.4 477.7,1565.4 478.2,1564.2 478.7,1562.9 479.2,1562.8 479.7,1565.5 480.2,1564.8 480.7,1564.1 481.2,1563.5 481.6,1563.9 482.1,1563.9 482.6,1563.4 483.1,1563.0 483.6,1565.8 484.1,1563.8 484.6,1562.8 485.1,1562.1 485.6,1562.5 486.1,1563.9 486.6,1563.8 487.1,1562.7 487.6,1562.8 488.1,1562.3 488.6,1561.4 489.1,1563.6 489.5,1562.5 490.0,1564.4 490.5,1561.0 491.0,1561.4 491.5,1562.1 492.0,1560.7 492.5,1559.3 493.0,1559.4 493.5,1560.0 494.0,1559.8 494.5,1558.8 495.0,1559.2 495.5,1558.5 496.0,1556.9 496.5,1555.6 497.0,1554.1 497.4,1553.5 497.9,1552.2 498.4,1549.4 498.9,1547.5 499.4,1544.1 499.9,1540.0 500.4,1537.0 500.9,1534.9 501.4,1530.3 501.9,1526.7 502.4,1520.0 502.9,1515.2 503.4,1509.7 503.9,1503.1 504.4,1494.9 504.9,1488.7 505.3,1482.4 505.8,1474.9 506.3,1470.3 506.8,1465.5 507.3,1459.5 507.8,1458.5 508.3,1454.0 508.8,1453.4 509.3,1454.1 509.8,1455.8 510.3,1460.4 510.8,1464.5 511.3,1471.6 511.8,1476.6 512.3,1482.9 512.8,1488.8 513.2,1494.2 513.7,1502.1 514.2,1507.6 514.7,1515.4 515.2,1520.0 515.7,1526.9 516.2,1530.8 516.7,1535.2 517.2,1538.4 517.7,1541.8 518.2,1545.3 518.7,1548.2 519.2,1548.8 519.7,1552.0 520.2,1555.8 520.7,1554.5 521.1,1555.6 521.6,1556.2 522.1,1556.3 522.6,1559.7 523.1,1559.2 523.6,1560.0 524.1,1562.0 524.6,1563.1 525.1,1560.1 525.6,1562.4 526.1,1562.2 526.6,1562.3 527.1,1562.6 527.6,1562.3 528.1,1564.1 528.6,1563.3 529.0,1563.2 529.5,1564.3 530.0,1564.1 530.5,1563.8 531.0,1563.8 531.5,1565.3 532.0,1564.2 532.5,1563.7 533.0,1563.1 533.5,1563.7 534.0,1563.1 534.5,1564.3 535.0,1564.5 535.5,1562.3 536.0,1564.4 536.5,1565.1 536.9,1564.7 537.4,1563.7 537.9,1566.0 538.4,1564.0 538.9,1563.6 539.4,1563.8 539.9,1564.9 540.4,1565.9 540.9,1566.2 541.4,1565.2 541.9,1563.9 542.4,1564.5 542.9,1564.3 543.4,1565.0 543.9,1563.4 544.4,1565.4 544.8,1565.9 545.3,1565.2 545.8,1565.8 546.3,1564.4 546.8,1563.9 547.3,1564.8 547.8,1566.6 548.3,1566.5 548.8,1565.0 549.3,1566.7 549.8,1565.2 550.3,1567.1 550.8,1566.0 551.3,1565.1 551.8,1566.4 552.3,1564.8 552.7,1564.7 553.2,1564.2 553.7,1565.9 554.2,1565.6 554.7,1565.6 555.2,1565.3 555.7,1567.1 556.2,1565.3 556.7,1565.0 557.2,1567.0 557.7,1567.1 558.2,1566.1 558.7,1564.0 559.2,1565.1 559.7,1566.3 560.2,1565.8 560.6,1567.3 561.1,1564.4 561.6,1566.4 562.1,1565.1 562.6,1567.1 563.1,1565.7 563.6,1566.8 564.1,1565.1 564.6,1564.3 565.1,1564.6 565.6,1565.1 566.1,1564.7 566.6,1566.9 567.1,1567.0 567.6,1566.0 568.1,1564.7 568.5,1565.6 569.0,1565.0 569.5,1567.1 570.0,1566.0 570.5,1566.1 571.0,1565.2 571.5,1563.6 572.0,1564.8 572.5,1564.5 573.0,1565.9 573.5,1565.7 574.0,1564.7 574.5,1565.1 575.0,1567.1 575.5,1564.5 576.0,1564.5 576.4,1565.2 576.9,1564.7 577.4,1565.0 577.9,1565.9 578.4,1567.1 578.9,1563.5 579.4,1565.3 579.9,1565.3 580.4,1565.1 580.9,1565.0 581.4,1564.8 581.9,1566.1 582.4,1564.6 582.9,1564.9 583.4,1565.0 583.9,1565.1 584.3,1564.7 584.8,1565.9 585.3,1564.8 585.8,1564.9 586.3,1564.6 586.8,1563.6 587.3,1563.7 587.8,1563.5 588.3,1564.6 588.8,1563.7 589.3,1563.2 589.8,1564.5 590.3,1564.7 590.8,1562.3 591.3,1565.7 591.8,1563.9 592.2,1563.7 592.7,1564.8 593.2,1563.7 593.7,1562.9 594.2,1565.6 594.7,1562.2 595.2,1563.0 595.7,1563.8 596.2,1561.8 596.7,1562.6 597.2,1562.9 597.7,1564.8 598.2,1561.3 598.7,1562.0 599.2,1562.5 599.7,1561.7 600.1,1560.2 600.6,1561.6 601.1,1561.0 601.6,1561.1 602.1,1561.5 602.6,1561.1 603.1,1560.2 603.6,1559.8 604.1,1558.0 604.6,1558.6 605.1,1558.5 605.6,1557.5 606.1,1557.5 606.6,1556.1 607.1,1557.9 607.6,1557.9 608.0,1554.6 608.5,1554.7 609.0,1553.2 609.5,1553.7 610.0,1551.8 610.5,1550.1 611.0,1548.3 611.5,1547.0 612.0,1543.8 612.5,1543.1 613.0,1539.0 613.5,1536.9 614.0,1532.7 614.5,1529.1 615.0,1522.7 615.5,1517.7 615.9,1508.7 616.4,1502.2 616.9,1492.3 617.4,1482.4 617.9,1470.9 618.4,1459.2 618.9,1442.6 619.4,1430.2 619.9,1412.8 620.4,1399.1 620.9,1379.0 621.4,1362.9 621.9,1345.4 622.4,1332.4 622.9,1314.4 623.4,1302.5 623.8,1291.0 624.3,1281.8 624.8,1278.8 625.3,1279.1 625.8,1281.2 626.3,1289.0 626.8,1297.4 627.3,1310.2 627.8,1324.3 628.3,1340.8 628.8,1359.1 629.3,1374.6 629.8,1391.5 630.3,1407.3 630.8,1423.1 631.3,1440.5 631.7,1452.0 632.2,1465.2 632.7,1477.9 633.2,1488.3 633.7,1500.2 634.2,1504.4 634.7,1514.5 635.2,1521.4 635.7,1525.1 636.2,1530.4 636.7,1535.6 637.2,1540.3 637.7,1540.8 638.2,1542.6 638.7,1547.4 639.2,1549.8 639.6,1549.5 640.1,1549.0 640.6,1553.8 641.1,1553.2 641.6,1555.4 642.1,1555.1 642.6,1555.5 643.1,1556.0 643.6,1558.6 644.1,1559.1 644.6,1556.0 645.1,1557.7 645.6,1560.8 646.1,1559.1 646.6,1558.5 647.1,1560.2 647.5,1560.4 648.0,1560.7 648.5,1560.6 649.0,1561.1 649.5,1561.2 650.0,1562.2 650.5,1561.3 651.0,1562.0 651.5,1562.4 652.0,1564.1 652.5,1563.3 653.0,1563.0 653.5,1563.8 654.0,1563.9 654.5,1564.7 655.0,1564.3 655.4,1565.7 655.9,1565.4 656.4,1564.1 656.9,1563.9 657.4,1565.3 657.9,1565.0 658.4,1564.5 658.9,1563.2 659.4,1563.0 659.9,1565.3 660.4,1565.8 660.9,1565.9 661.4,1563.9 661.9,1566.3 662.4,1564.8 662.9,1565.8 663.3,1565.9 663.8,1564.7 664.3,1565.0 664.8,1563.6 665.3,1564.8 665.8,1564.0 666.3,1566.3 666.8,1566.0 667.3,1566.9 667.8,1566.4 668.3,1565.4 668.8,1566.5 669.3,1565.8 669.8,1566.8 670.3,1566.6 670.8,1565.3 671.2,1566.3 671.7,1566.4 672.2,1566.1 672.7,1567.4 673.2,1568.2 673.7,1566.2 674.2,1566.2 674.7,1564.3 675.2,1566.5 675.7,1566.2 676.2,1564.5 676.7,1567.0 677.2,1567.3 677.7,1566.0 678.2,1566.4 678.6,1565.8 679.1,1567.6 679.6,1565.3 680.1,1566.6 680.6,1568.9 681.1,1567.0 681.6,1567.4 682.1,1566.8 682.6,1565.8 683.1,1567.0 683.6,1567.4 684.1,1566.0 684.6,1567.4 685.1,1568.3 685.6,1568.1 686.1,1565.5 686.5,1566.1 687.0,1565.5 687.5,1568.2 688.0,1567.7 688.5,1567.8 689.0,1566.2 689.5,1565.9 690.0,1567.2 690.5,1567.2 691.0,1566.3 691.5,1567.3 692.0,1567.8 692.5,1567.3 693.0,1566.1 693.5,1565.0 694.0,1566.8 694.4,1567.2 694.9,1566.8 695.4,1566.6 695.9,1566.3 696.4,1567.7 696.9,1566.9 697.4,1567.1 697.9,1566.0 698.4,1566.3 698.9,1567.1 699.4,1565.9 699.9,1565.6 700.4,1566.5 700.9,1568.0 701.4,1566.9 701.9,1568.1 702.3,1566.5 702.8,1566.2 703.3,1565.1 703.8,1565.8 704.3,1567.7 704.8,1566.5 705.3,1566.8 705.8,1566.7 706.3,1565.8 706.8,1565.4 707.3,1565.6 707.8,1565.9 708.3,1565.4 708.8,1565.1 709.3,1564.4 709.8,1563.0 710.2,1562.9 710.7,1561.6 711.2,1562.8 711.7,1558.9 712.2,1559.7 712.7,1561.2 713.2,1557.2 713.7,1554.9 714.2,1554.4 714.7,1553.9 715.2,1550.5 715.7,1549.1 716.2,1546.4 716.7,1543.5 717.2,1544.6 717.7,1539.1 718.1,1536.0 718.6,1533.7 719.1,1532.3 719.6,1530.4 720.1,1529.2 720.6,1527.3 721.1,1525.1 721.6,1526.9 722.1,1526.4 722.6,1527.4 723.1,1527.6 723.6,1530.2 724.1,1532.2 724.6,1535.2 725.1,1536.2 725.6,1540.2 726.0,1542.7 726.5,1543.9 727.0,1546.8 727.5,1548.7 728.0,1552.6 728.5,1551.1 729.0,1555.0 729.5,1555.3 730.0,1557.9 730.5,1560.4 731.0,1560.1 731.5,1561.8 732.0,1561.6 732.5,1565.1 733.0,1564.7 733.5,1565.5 733.9,1563.5 734.4,1564.1 734.9,1566.6 735.4,1565.6 735.9,1565.8 736.4,1566.5 736.9,1565.1 737.4,1567.3 737.9,1566.7 738.4,1567.3 738.9,1566.3 739.4,1567.5 739.9,1566.4 740.4,1568.2 740.9,1568.4 741.4,1568.3 741.8,1567.9 742.3,1568.1 742.8,1564.8 743.3,1568.4 743.8,1567.4 744.3,1567.8 744.8,1567.5 745.3,1566.4 745.8,1567.3 746.3,1568.5 746.8,1569.3 747.3,1567.3 747.8,1567.1 748.3,1569.5 748.8,1567.1 749.3,1570.1 749.7,1568.1 750.2,1567.2 750.7,1569.1 751.2,1569.9 751.7,1566.7 752.2,1569.8 752.7,1567.9 753.2,1569.7 753.7,1567.9 754.2,1566.7 754.7,1568.8 755.2,1569.2 755.7,1570.4 756.2,1570.1 756.7,1569.0 757.2,1568.1 757.6,1567.9 758.1,1568.1 758.6,1567.6 759.1,1568.1 759.6,1565.9 760.1,1568.6 760.6,1568.4 761.1,1571.0 761.6,1569.2 762.1,1568.0 762.6,1569.0 763.1,1567.2 763.6,1567.9 764.1,1566.6 764.6,1569.9 765.1,1569.1 765.5,1567.3 766.0,1568.4 766.5,1569.4 767.0,1569.0 767.5,1568.9 768.0,1567.6 768.5,1567.8 769.0,1568.6 769.5,1569.4 770.0,1567.6 770.5,1567.3 771.0,1569.6 771.5,1567.5 772.0,1569.5 772.5,1568.7 773.0,1569.3 773.4,1570.2 773.9,1569.1 774.4,1569.2 774.9,1567.5 775.4,1567.7 775.9,1569.0 776.4,1569.9 776.9,1569.7 777.4,1570.6 777.9,1568.6 778.4,1568.5 778.9,1569.2 779.4,1568.2 779.9,1568.1 780.4,1567.1 780.9,1569.1 781.3,1567.0 781.8,1568.6 782.3,1566.6 782.8,1569.1 783.3,1566.9 783.8,1568.7 784.3,1566.3 784.8,1567.4 785.3,1568.9 785.8,1566.9 786.3,1567.7 786.8,1567.1 787.3,1565.2 787.8,1567.7 788.3,1567.7 788.8,1566.1 789.2,1567.7 789.7,1566.2 790.2,1565.9 790.7,1566.7 791.2,1565.9 791.7,1568.7 792.2,1564.6 792.7,1566.7 793.2,1566.7 793.7,1563.4 794.2,1563.3 794.7,1565.1 795.2,1563.6 795.7,1563.9 796.2,1563.9 796.7,1561.6 797.1,1559.9 797.6,1557.1 798.1,1558.8 798.6,1556.2 799.1,1555.7 799.6,1553.7 800.1,1549.9 800.6,1550.6 801.1,1547.3 801.6,1544.2 802.1,1539.1 802.6,1536.7 803.1,1533.2 803.6,1529.8 804.1,1525.6 804.6,1523.8 805.0,1520.3 805.5,1517.4 806.0,1514.0 806.5,1513.7 807.0,1511.2 807.5,1507.6 808.0,1509.8 808.5,1511.2 809.0,1513.8 809.5,1514.7 810.0,1517.4 810.5,1520.1 811.0,1524.7 811.5,1527.0 812.0,1530.4 812.5,1533.7 812.9,1538.4 813.4,1540.5 813.9,1542.4 814.4,1547.5 814.9,1548.8 815.4,1552.2 815.9,1554.3 816.4,1557.0 816.9,1558.5 817.4,1558.4 817.9,1560.0 818.4,1560.0 818.9,1563.9 819.4,1563.5 819.9,1565.1 820.4,1564.0 820.8,1562.8 821.3,1566.8 821.8,1565.7 822.3,1566.0 822.8,1566.2 823.3,1567.0 823.8,1567.1 824.3,1565.2 824.8,1568.0 825.3,1566.5 825.8,1566.7 826.3,1569.0 826.8,1568.3 827.3,1567.2 827.8,1565.7 828.3,1567.8 828.7,1568.3 829.2,1567.7 829.7,1566.6 830.2,1567.1 830.7,1566.7 831.2,1568.3 831.7,1568.9 832.2,1569.2 832.7,1567.5 833.2,1568.5 833.7,1568.8 834.2,1567.8 834.7,1568.2 835.2,1570.5 835.7,1568.6 836.2,1569.3 836.6,1568.0 837.1,1568.5 837.6,1566.7 838.1,1568.5 838.6,1569.7 839.1,1570.6 839.6,1569.7 840.1,1569.2 840.6,1568.6 841.1,1567.9 841.6,1568.4 842.1,1569.2 842.6,1567.8 843.1,1569.5 843.6,1567.6 844.1,1566.8 844.5,1567.5 845.0,1566.9 845.5,1567.2 846.0,1569.6 846.5,1568.3 847.0,1568.7 847.5,1569.6 848.0,1569.7 848.5,1567.9 849.0,1569.8 849.5,1568.8 850.0,1568.4 850.5,1568.8 851.0,1566.9 851.5,1567.5 852.0,1568.2 852.4,1568.8 852.9,1567.8 853.4,1568.0 853.9,1569.1 854.4,1569.5 854.9,1568.8 855.4,1569.2 855.9,1567.5 856.4,1567.6 856.9,1568.1 857.4,1567.4 857.9,1567.2 858.4,1569.3 858.9,1567.3 859.4,1566.5 859.9,1567.8 860.3,1569.1 860.8,1567.2 861.3,1568.3 861.8,1566.5 862.3,1566.3 862.8,1566.0 863.3,1566.4 863.8,1568.3 864.3,1565.1 864.8,1567.7 865.3,1564.9 865.8,1565.5 866.3,1566.4 866.8,1565.9 867.3,1565.4 867.8,1563.2 868.2,1564.9 868.7,1563.2 869.2,1566.4 869.7,1563.2 870.2,1563.2 870.7,1561.4 871.2,1561.5 871.7,1560.0 872.2,1561.5 872.7,1559.3 873.2,1559.1 873.7,1556.6 874.2,1555.3 874.7,1555.3 875.2,1551.0 875.7,1547.8 876.1,1547.3 876.6,1542.5 877.1,1539.5 877.6,1536.6 878.1,1530.1 878.6,1526.5 879.1,1519.0 879.6,1514.7 880.1,1507.4 880.6,1498.0 881.1,1490.3 881.6,1481.3 882.1,1473.7 882.6,1466.1 883.1,1455.0 883.6,1449.3 884.0,1439.7 884.5,1433.8 885.0,1427.8 885.5,1428.2 886.0,1424.4 886.5,1424.8 887.0,1426.0 887.5,1431.6 888.0,1433.8 888.5,1442.5 889.0,1452.2 889.5,1457.8 890.0,1466.8 890.5,1476.1 891.0,1483.1 891.5,1492.3 891.9,1501.2 892.4,1507.9 892.9,1515.1 893.4,1520.8 893.9,1527.2 894.4,1532.2 894.9,1538.3 895.4,1541.7 895.9,1544.3 896.4,1545.3 896.9,1551.1 897.4,1553.5 897.9,1553.8 898.4,1554.4 898.9,1556.7 899.4,1560.0 899.8,1559.1 900.3,1560.6 900.8,1562.0 901.3,1563.7 901.8,1563.0 902.3,1563.4 902.8,1563.4 903.3,1566.0 903.8,1565.8 904.3,1565.0 904.8,1564.0 905.3,1564.9 905.8,1566.5 906.3,1565.4 906.8,1567.2 907.3,1566.9 907.7,1567.0 908.2,1567.6 908.7,1567.6 909.2,1566.4 909.7,1567.1 910.2,1569.9 910.7,1566.4 911.2,1567.3 911.7,1569.0 912.2,1567.8 912.7,1567.3 913.2,1566.9 913.7,1568.8 914.2,1569.4 914.7,1569.9 915.2,1568.6 915.6,1569.7 916.1,1567.7 916.6,1569.0 917.1,1568.2 917.6,1569.1 918.1,1569.7 918.6,1570.1 919.1,1568.1 919.6,1570.4 920.1,1568.7 920.6,1568.2 921.1,1569.1 921.6,1567.9 922.1,1569.4 922.6,1569.7 923.1,1569.3 923.5,1570.1 924.0,1569.2 924.5,1569.6 925.0,1568.2 925.5,1569.7 926.0,1568.8 926.5,1569.3 927.0,1569.7 927.5,1570.0 928.0,1568.2 928.5,1568.3 929.0,1569.6 929.5,1570.3 930.0,1570.3 930.5,1570.8 931.0,1571.2 931.4,1570.4 931.9,1569.9 932.4,1568.9 932.9,1569.0 933.4,1569.5 933.9,1570.3 934.4,1570.2 934.9,1570.0 935.4,1569.9 935.9,1570.7 936.4,1570.2 936.9,1570.3 937.4,1570.3 937.9,1569.5 938.4,1569.0 938.9,1570.5 939.3,1570.4 939.8,1569.8 940.3,1569.6 940.8,1572.3 941.3,1569.2 941.8,1569.7 942.3,1570.2 942.8,1568.7 943.3,1569.9 943.8,1571.6 944.3,1570.6 944.8,1570.2 945.3,1570.1 945.8,1569.5 946.3,1570.2 946.8,1569.0 947.2,1568.5 947.7,1568.8 948.2,1569.3 948.7,1568.5 949.2,1568.4 949.7,1565.3 950.2,1568.1 950.7,1568.7 951.2,1567.1 951.7,1564.8 952.2,1563.5 952.7,1563.9 953.2,1561.8 953.7,1562.7 954.2,1560.5 954.7,1561.1 955.1,1560.6 955.6,1556.4 956.1,1557.9 956.6,1556.2 957.1,1554.9 957.6,1555.2 958.1,1555.4 958.6,1556.6 959.1,1554.2 959.6,1557.1 960.1,1558.6 960.6,1557.8 961.1,1558.5 961.6,1558.8 962.1,1558.6 962.6,1561.2 963.0,1561.9 963.5,1563.2 964.0,1565.9 964.5,1564.9 965.0,1565.3 965.5,1567.2 966.0,1564.9 966.5,1565.7 967.0,1567.0 967.5,1567.2 968.0,1568.9 968.5,1568.3 969.0,1570.7 969.5,1570.7 970.0,1570.2 970.5,1569.2 970.9,1570.4 971.4,1570.7 971.9,1569.0 972.4,1570.5 972.9,1570.9 973.4,1570.5 973.9,1572.0 974.4,1571.7 974.9,1569.7 975.4,1570.7 975.9,1569.8 976.4,1571.2 976.9,1569.8 977.4,1571.6 977.9,1571.1 978.4,1571.7 978.8,1570.7 979.3,1569.4 979.8,1572.6 980.3,1570.7 980.8,1572.3 981.3,1571.4 981.8,1571.6 982.3,1572.8 982.8,1571.3 983.3,1572.4 983.8,1569.5 984.3,1571.9 984.8,1570.8 985.3,1570.9 985.8,1571.1 986.3,1571.4 986.7,1572.8 987.2,1569.3 987.7,1571.2 988.2,1570.4 988.7,1572.3 989.2,1570.7 989.7,1571.6 990.2,1570.8 990.7,1571.9 991.2,1572.2 991.7,1570.8 992.2,1571.3 992.7,1569.8 993.2,1571.6 993.7,1572.1 994.2,1570.7 994.6,1572.4 995.1,1569.2 995.6,1569.4 996.1,1569.9 996.6,1570.8 997.1,1571.3 997.6,1571.2 998.1,1571.3 998.6,1572.1 999.1,1570.9 999.6,1570.1 1000.1,1570.1 1000.6,1573.5 1001.1,1569.0 1001.6,1571.2 1002.1,1572.8 1002.5,1571.9 1003.0,1570.6 1003.5,1571.4 1004.0,1572.3 1004.5,1572.6 1005.0,1570.5 1005.5,1572.2 1006.0,1571.7 1006.5,1572.5 1007.0,1572.8 1007.5,1571.1 1008.0,1570.0 1008.5,1571.9 1009.0,1573.2 1009.5,1572.2 1010.0,1571.7 1010.4,1573.9 1010.9,1570.4 1011.4,1572.4 1011.9,1570.9 1012.4,1571.6 1012.9,1571.6 1013.4,1573.0 1013.9,1570.6 1014.4,1571.0 1014.9,1569.9 1015.4,1572.0 1015.9,1571.1 1016.4,1572.0 1016.9,1570.5 1017.4,1571.2 1017.9,1572.6 1018.3,1571.4 1018.8,1572.2 1019.3,1572.1 1019.8,1571.2 1020.3,1570.0 1020.8,1572.6 1021.3,1571.7 1021.8,1572.6 1022.3,1569.6 1022.8,1569.9 1023.3,1569.4 1023.8,1570.7 1024.3,1572.6 1024.8,1572.2 1025.3,1571.6 1025.8,1571.7 1026.2,1572.4 1026.7,1571.3 1027.2,1572.0 1027.7,1571.8 1028.2,1569.4 1028.7,1571.2 1029.2,1573.0 1029.7,1571.2 1030.2,1571.5 1030.7,1571.0 1031.2,1571.1 1031.7,1572.7 1032.2,1571.4 1032.7,1570.6 1033.2,1568.5 1033.7,1571.0 1034.1,1569.7 1034.6,1569.8 1035.1,1572.4 1035.6,1572.3 1036.1,1569.7 1036.6,1572.5 1037.1,1572.1 1037.6,1570.8 1038.1,1572.3 1038.6,1570.0 1039.1,1570.4 1039.6,1570.2 1040.1,1570.5 1040.6,1572.5 1041.1,1570.2 1041.6,1570.4 1042.0,1570.6 1042.5,1571.8 1043.0,1571.2 1043.5,1572.4 1044.0,1570.8 1044.5,1570.3 1045.0,1571.0 1045.5,1571.6 1046.0,1570.6 1046.5,1571.8 1047.0,1573.3 1047.5,1570.9 1048.0,1571.6 1048.5,1572.9 1049.0,1570.9 1049.5,1570.6 1049.9,1570.4 1050.4,1571.9 1050.9,1572.0 1051.4,1571.3 1051.9,1571.5 1052.4,1572.7 1052.9,1572.3 1053.4,1570.0 1053.9,1571.4 1054.4,1571.5 1054.9,1572.1 1055.4,1571.2 1055.9,1570.7 1056.4,1570.9 1056.9,1569.6 1057.4,1571.3 1057.8,1570.7 1058.3,1571.8 1058.8,1570.3 1059.3,1570.8 1059.8,1570.3 1060.3,1570.2 1060.8,1571.9 1061.3,1570.7 1061.8,1571.6 1062.3,1570.0 1062.8,1571.2 1063.3,1569.4 1063.8,1570.6 1064.3,1570.6 1064.8,1571.6 1065.3,1571.2 1065.7,1570.8 1066.2,1571.8 1066.7,1571.1 1067.2,1571.4 1067.7,1571.6 1068.2,1570.7 1068.7,1570.5 1069.2,1571.0 1069.7,1570.2 1070.2,1571.0 1070.7,1571.6 1071.2,1571.3 1071.7,1570.0 1072.2,1569.0 1072.7,1570.1 1073.2,1569.9 1073.6,1571.0 1074.1,1569.4 1074.6,1569.3 1075.1,1570.1 1075.6,1568.6 1076.1,1568.6 1076.6,1570.1 1077.1,1569.4 1077.6,1568.1 1078.1,1567.1 1078.6,1565.2 1079.1,1566.0 1079.6,1564.6 1080.1,1563.8 1080.6,1562.0 1081.1,1561.4 1081.5,1559.9 1082.0,1559.0 1082.5,1558.7 1083.0,1556.1 1083.5,1552.5 1084.0,1551.7 1084.5,1549.5 1085.0,1548.8 1085.5,1548.8 1086.0,1547.5 1086.5,1545.5 1087.0,1545.7 1087.5,1544.3 1088.0,1543.7 1088.5,1544.0 1089.0,1545.2 1089.4,1548.5 1089.9,1546.9 1090.4,1550.8 1090.9,1552.4 1091.4,1552.4 1091.9,1554.1 1092.4,1555.1 1092.9,1557.2 1093.4,1559.4 1093.9,1560.1 1094.4,1562.3 1094.9,1563.7 1095.4,1563.9 1095.9,1564.9 1096.4,1565.3 1096.9,1566.5 1097.3,1565.7 1097.8,1567.8 1098.3,1568.1 1098.8,1567.5 1099.3,1570.8 1099.8,1568.0 1100.3,1568.4 1100.8,1569.8 1101.3,1567.8 1101.8,1569.1 1102.3,1568.5 1102.8,1569.1 1103.3,1570.1 1103.8,1570.6 1104.3,1571.5 1104.7,1571.3 1105.2,1571.7 1105.7,1571.2 1106.2,1570.2 1106.7,1571.8 1107.2,1570.2 1107.7,1570.1 1108.2,1572.3 1108.7,1571.6 1109.2,1571.1 1109.7,1571.6 1110.2,1571.8 1110.7,1569.6 1111.2,1570.9 1111.7,1569.8 1112.2,1571.1 1112.6,1570.4 1113.1,1572.4 1113.6,1571.6 1114.1,1570.3 1114.6,1571.1 1115.1,1569.9 1115.6,1571.2 1116.1,1571.7 1116.6,1571.4 1117.1,1569.2 1117.6,1570.8 1118.1,1571.7 1118.6,1571.5 1119.1,1572.4 1119.6,1569.9 1120.1,1571.7 1120.5,1570.6 1121.0,1571.4 1121.5,1571.6 1122.0,1571.9 1122.5,1570.7 1123.0,1571.4 1123.5,1570.1 1124.0,1569.8 1124.5,1571.8 1125.0,1571.2 1125.5,1569.6 1126.0,1570.4 1126.5,1571.3 1127.0,1572.8 1127.5,1572.3 1128.0,1572.0 1128.4,1569.5 1128.9,1571.1 1129.4,1571.7 1129.9,1571.6 1130.4,1571.6 1130.9,1571.0 1131.4,1573.0 1131.9,1572.7 1132.4,1571.1 1132.9,1570.2 1133.4,1573.2 1133.9,1570.6 1134.4,1572.3 1134.9,1573.0 1135.4,1570.1 1135.9,1571.3 1136.3,1570.7 1136.8,1571.5 1137.3,1571.2 1137.8,1572.8 1138.3,1571.4 1138.8,1570.7 1139.3,1571.7 1139.8,1570.2 1140.3,1570.0 1140.8,1572.5 1141.3,1569.3 1141.8,1569.4 1142.3,1569.8 1142.8,1568.5 1143.3,1567.2 1143.8,1570.2 1144.2,1568.1 1144.7,1568.1 1145.2,1568.1 1145.7,1567.3 1146.2,1567.0 1146.7,1568.1 1147.2,1570.2 1147.7,1568.5 1148.2,1568.4 1148.7,1566.2 1149.2,1567.7 1149.7,1566.7 1150.2,1568.8 1150.7,1568.0 1151.2,1568.4 1151.7,1568.5 1152.1,1568.2 1152.6,1567.5 1153.1,1569.8 1153.6,1568.0 1154.1,1568.4 1154.6,1569.5 1155.1,1569.3 1155.6,1570.4 1156.1,1571.3 1156.6,1570.6 1157.1,1570.7 1157.6,1570.6 1158.1,1571.5 1158.6,1568.9 1159.1,1571.2 1159.6,1569.9 1160.0,1569.7 1160.5,1570.9 1161.0,1570.6 1161.5,1571.6 1162.0,1572.1 1162.5,1568.7 1163.0,1570.9 1163.5,1573.0 1164.0,1571.9 1164.5,1572.5 1165.0,1571.1 1165.5,1569.6 1166.0,1569.9 1166.5,1571.8 1167.0,1572.0 1167.5,1570.3 1167.9,1570.8 1168.4,1571.3 1168.9,1569.3 1169.4,1570.7 1169.9,1572.6 1170.4,1573.2 1170.9,1570.9 1171.4,1572.8 1171.9,1570.4 1172.4,1570.1 1172.9,1568.7 1173.4,1571.9 1173.9,1570.5 1174.4,1573.2 1174.9,1571.2 1175.4,1571.1 1175.8,1569.0 1176.3,1572.3 1176.8,1570.5 1177.3,1570.6 1177.8,1568.6 1178.3,1571.7 1178.8,1571.7 1179.3,1570.1 1179.8,1570.8 1180.3,1571.0 1180.8,1571.6 1181.3,1570.7 1181.8,1572.3 1182.3,1570.3 1182.8,1569.9 1183.3,1569.9 1183.7,1567.8 1184.2,1569.5 1184.7,1571.3 1185.2,1570.5 1185.7,1569.3 1186.2,1570.4 1186.7,1568.0 1187.2,1569.7 1187.7,1570.4 1188.2,1570.5 1188.7,1568.9 1189.2,1570.5 1189.7,1571.3 1190.2,1568.9 1190.7,1569.9 1191.2,1567.5 1191.6,1566.8 1192.1,1569.2 1192.6,1568.4 1193.1,1568.2 1193.6,1567.0 1194.1,1566.9 1194.6,1567.5 1195.1,1567.8 1195.6,1565.2 1196.1,1562.9 1196.6,1564.9 1197.1,1563.2 1197.6,1562.0 1198.1,1560.1 1198.6,1560.7 1199.1,1556.7 1199.5,1555.2 1200.0,1550.8 1200.5,1549.8 1201.0,1547.3 1201.5,1545.5 1202.0,1543.4 1202.5,1539.7 1203.0,1539.7 1203.5,1534.5 1204.0,1532.9 1204.5,1531.6 1205.0,1528.6 1205.5,1529.3 1206.0,1528.8 1206.5,1527.9 1207.0,1530.7 1207.4,1529.9 1207.9,1531.7 1208.4,1532.3 1208.9,1533.8 1209.4,1537.3 1209.9,1540.1 1210.4,1542.5 1210.9,1546.3 1211.4,1545.6 1211.9,1549.2 1212.4,1550.7 1212.9,1556.0 1213.4,1556.0 1213.9,1557.8 1214.4,1558.7 1214.9,1562.1 1215.3,1562.0 1215.8,1563.8 1216.3,1562.4 1216.8,1566.4 1217.3,1566.4 1217.8,1567.1 1218.3,1568.3 1218.8,1567.3 1219.3,1567.7 1219.8,1568.9 1220.3,1568.8 1220.8,1568.4 1221.3,1568.9 1221.8,1568.5 1222.3,1569.9 1222.8,1570.2 1223.2,1569.4 1223.7,1571.4 1224.2,1568.0 1224.7,1569.4 1225.2,1571.4 1225.7,1569.4 1226.2,1568.2 1226.7,1571.3 1227.2,1570.5 1227.7,1568.8 1228.2,1570.8 1228.7,1569.0 1229.2,1568.7 1229.7,1570.0 1230.2,1569.7 1230.7,1569.1 1231.1,1569.8 1231.6,1569.2 1232.1,1570.3 1232.6,1570.2 1233.1,1571.0 1233.6,1569.8 1234.1,1568.9 1234.6,1569.0 1235.1,1570.0 1235.6,1571.8 1236.1,1571.1 1236.6,1569.6 1237.1,1571.2 1237.6,1569.1 1238.1,1571.3 1238.6,1569.9 1239.0,1571.0 1239.5,1570.8 1240.0,1569.9 1240.5,1570.5 1241.0,1569.1 1241.5,1570.1 1242.0,1571.2 1242.5,1574.2 1243.0,1570.7 1243.5,1570.1 1244.0,1568.9 1244.5,1570.9 1245.0,1568.1 1245.5,1568.9 1246.0,1569.9 1246.5,1568.3 1246.9,1570.9 1247.4,1570.3 1247.9,1568.4 1248.4,1568.2 1248.9,1567.2 1249.4,1566.8 1249.9,1568.3 1250.4,1568.0 1250.9,1567.2 1251.4,1566.6 1251.9,1565.1 1252.4,1565.3 1252.9,1562.6 1253.4,1563.1 1253.9,1563.6 1254.4,1562.3 1254.8,1559.3 1255.3,1558.2 1255.8,1558.5 1256.3,1557.6 1256.8,1552.9 1257.3,1552.5 1257.8,1551.9 1258.3,1551.6 1258.8,1548.5 1259.3,1549.0 1259.8,1547.4 1260.3,1549.8 1260.8,1547.7 1261.3,1547.4 1261.8,1547.8 1262.3,1550.0 1262.7,1550.6 1263.2,1550.0 1263.7,1552.6 1264.2,1552.4 1264.7,1554.4 1265.2,1555.2 1265.7,1556.6 1266.2,1558.5 1266.7,1559.5 1267.2,1562.1 1267.7,1563.4 1268.2,1563.4 1268.7,1563.4 1269.2,1566.1 1269.7,1563.9 1270.2,1564.6 1270.6,1567.8 1271.1,1568.2 1271.6,1568.9 1272.1,1568.0 1272.6,1567.2 1273.1,1568.2 1273.6,1569.5 1274.1,1568.3 1274.6,1568.5 1275.1,1568.0 1275.6,1568.3 1276.1,1570.4 1276.6,1570.1 1277.1,1568.5 1277.6,1568.6 1278.1,1569.2 1278.5,1570.3 1279.0,1568.6 1279.5,1569.7 1280.0,1567.7 1280.5,1568.6 1281.0,1570.3 1281.5,1570.8 1282.0,1568.7 1282.5,1569.1 1283.0,1570.7 1283.5,1569.5 1284.0,1569.3 1284.5,1570.4 1285.0,1570.1 1285.5,1571.0 1286.0,1570.6 1286.4,1569.2 1286.9,1569.7 1287.4,1569.7 1287.9,1568.4 1288.4,1568.7 1288.9,1570.6 1289.4,1568.0 1289.9,1570.6 1290.4,1569.8 1290.9,1569.3 1291.4,1569.9 1291.9,1569.8 1292.4,1570.5 1292.9,1568.8 1293.4,1568.9 1293.9,1568.7 1294.3,1570.8 1294.8,1569.7 1295.3,1567.7 1295.8,1568.2 1296.3,1567.6 1296.8,1568.2 1297.3,1568.2 1297.8,1570.1 1298.3,1565.7 1298.8,1568.2 1299.3,1567.3 1299.8,1565.7 1300.3,1565.8 1300.8,1564.9 1301.3,1564.8 1301.8,1565.0 1302.2,1561.5 1302.7,1563.3 1303.2,1560.3 1303.7,1560.8 1304.2,1558.0 1304.7,1557.0 1305.2,1554.2 1305.7,1552.3 1306.2,1548.6 1306.7,1544.8 1307.2,1543.2 1307.7,1539.9 1308.2,1537.7 1308.7,1529.9 1309.2,1528.0 1309.7,1525.5 1310.1,1519.5 1310.6,1517.1 1311.1,1516.3 1311.6,1512.9 1312.1,1508.5 1312.6,1509.4 1313.1,1508.6 1313.6,1508.4 1314.1,1509.1 1314.6,1510.8 1315.1,1512.2 1315.6,1515.5 1316.1,1520.1 1316.6,1523.1 1317.1,1528.6 1317.6,1530.2 1318.0,1531.8 1318.5,1537.5 1319.0,1541.5 1319.5,1544.9 1320.0,1547.6 1320.5,1549.4 1321.0,1554.2 1321.5,1554.3 1322.0,1557.7 1322.5,1558.4 1323.0,1559.1 1323.5,1563.0 1324.0,1560.2 1324.5,1562.9 1325.0,1565.0 1325.5,1564.9 1325.9,1566.6 1326.4,1566.3 1326.9,1566.4 1327.4,1569.4 1327.9,1567.3 1328.4,1567.7 1328.9,1567.0 1329.4,1567.5 1329.9,1569.1 1330.4,1569.2 1330.9,1568.8 1331.4,1568.2 1331.9,1569.7 1332.4,1567.5 1332.9,1568.9 1333.4,1569.1 1333.8,1568.6 1334.3,1569.7 1334.8,1569.0 1335.3,1568.9 1335.8,1571.6 1336.3,1570.6 1336.8,1571.1 1337.3,1570.0 1337.8,1571.0 1338.3,1570.8 1338.8,1571.3 1339.3,1572.5 1339.8,1570.0 1340.3,1570.5 1340.8,1570.2 1341.3,1566.8 1341.7,1569.0 1342.2,1570.4 1342.7,1571.1 1343.2,1569.9 1343.7,1571.6 1344.2,1571.8 1344.7,1570.1 1345.2,1572.0 1345.7,1572.4 1346.2,1571.1 1346.7,1569.7 1347.2,1572.1 1347.7,1570.5 1348.2,1570.3 1348.7,1570.8 1349.2,1570.2 1349.6,1571.8 1350.1,1571.6 1350.6,1572.0 1351.1,1571.4 1351.6,1570.0 1352.1,1570.7 1352.6,1571.7 1353.1,1570.5 1353.6,1573.8 1354.1,1570.6 1354.6,1570.3 1355.1,1572.1 1355.6,1571.7 1356.1,1570.9 1356.6,1570.7 1357.1,1571.4 1357.5,1571.8 1358.0,1571.7 1358.5,1570.7 1359.0,1571.4 1359.5,1571.8 1360.0,1571.8 1360.5,1567.9 1361.0,1570.1 1361.5,1570.2 1362.0,1570.8 1362.5,1571.2 1363.0,1572.0 1363.5,1571.7 1364.0,1570.9 1364.5,1571.1 1365.0,1572.8 1365.4,1570.4 1365.9,1571.4 1366.4,1572.6 1366.9,1571.4 1367.4,1569.0 1367.9,1571.4 1368.4,1570.7 1368.9,1571.0 1369.4,1572.1 1369.9,1571.6 1370.4,1570.8 1370.9,1572.0 1371.4,1571.5 1371.9,1571.2 1372.4,1571.4 1372.9,1571.3 1373.3,1570.8 1373.8,1570.6 1374.3,1571.1 1374.8,1570.1 1375.3,1569.8 1375.8,1572.4 1376.3,1570.9 1376.8,1571.1 1377.3,1571.0 1377.8,1571.1 1378.3,1571.1 1378.8,1571.2 1379.3,1570.3 1379.8,1572.0 1380.3,1570.4 1380.8,1572.1 1381.2,1569.2 1381.7,1570.0 1382.2,1572.1 1382.7,1570.9 1383.2,1570.4 1383.7,1571.5 1384.2,1570.0 1384.7,1571.2 1385.2,1568.9 1385.7,1570.6 1386.2,1570.4 1386.7,1571.6 1387.2,1571.9 1387.7,1570.2 1388.2,1572.7 1388.7,1570.5 1389.1,1569.0 1389.6,1568.6 1390.1,1572.6 1390.6,1570.9 1391.1,1570.4 1391.6,1570.2 1392.1,1569.9 1392.6,1572.3 1393.1,1570.9 1393.6,1572.7 1394.1,1570.7 1394.6,1568.6 1395.1,1571.7 1395.6,1570.5 1396.1,1570.6 1396.6,1572.4 1397.0,1570.5 1397.5,1571.9 1398.0,1570.7 1398.5,1569.9 1399.0,1571.2 1399.5,1570.0 1400.0,1571.7 1400.5,1571.4 1401.0,1570.4 1401.5,1570.8 1402.0,1570.7 1402.5,1569.7 1403.0,1570.7 1403.5,1569.3 1404.0,1570.0 1404.5,1568.1 1404.9,1568.9 1405.4,1568.9 1405.9,1567.4 1406.4,1567.4 1406.9,1566.9 1407.4,1567.7 1407.9,1565.8 1408.4,1566.6 1408.9,1567.2 1409.4,1565.6 1409.9,1563.3 1410.4,1564.7 1410.9,1565.3 1411.4,1563.7 1411.9,1565.0 1412.4,1564.5 1412.8,1564.3 1413.3,1563.8 1413.8,1563.8 1414.3,1564.3 1414.8,1565.0 1415.3,1565.8 1415.8,1566.1 1416.3,1565.8 1416.8,1566.6 1417.3,1567.4 1417.8,1565.8 1418.3,1567.0 1418.8,1567.3 1419.3,1568.2 1419.8,1568.5 1420.3,1568.8 1420.7,1568.4 1421.2,1570.1 1421.7,1569.9 1422.2,1568.2 1422.7,1570.0 1423.2,1568.9 1423.7,1571.9 1424.2,1569.8 1424.7,1569.9 1425.2,1570.4 1425.7,1570.2 1426.2,1570.4 1426.7,1572.0 1427.2,1570.7 1427.7,1571.3 1428.2,1571.6 1428.6,1569.6 1429.1,1572.2 1429.6,1571.2 1430.1,1571.5 1430.6,1569.7 1431.1,1571.3 1431.6,1570.9 1432.1,1570.0 1432.6,1572.8 1433.1,1571.0 1433.6,1570.2 1434.1,1570.6 1434.6,1571.3 1435.1,1571.5 1435.6,1571.0 1436.1,1571.6 1436.5,1571.8 1437.0,1569.1 1437.5,1569.8 1438.0,1569.3 1438.5,1570.3 1439.0,1571.6 1439.5,1570.8 1440.0,1569.0 1440.5,1569.7 1441.0,1571.0 1441.5,1569.3 1442.0,1569.7 1442.5,1570.0 1443.0,1567.8 1443.5,1570.3 1444.0,1569.8 1444.4,1569.9 1444.9,1568.2 1445.4,1568.3 1445.9,1568.3 1446.4,1568.9 1446.9,1568.5 1447.4,1568.3 1447.9,1569.7 1448.4,1568.8 1448.9,1566.3 1449.4,1565.9 1449.9,1567.6 1450.4,1564.9 1450.9,1565.7 1451.4,1565.0 1451.9,1561.8 1452.3,1560.8 1452.8,1559.8 1453.3,1557.3 1453.8,1555.4 1454.3,1554.2 1454.8,1553.4 1455.3,1550.0 1455.8,1548.0 1456.3,1545.5 1456.8,1542.2 1457.3,1542.8 1457.8,1536.8 1458.3,1536.4 1458.8,1535.8 1459.3,1532.4 1459.8,1533.3 1460.2,1533.3 1460.7,1531.1 1461.2,1532.6 1461.7,1532.2 1462.2,1535.1 1462.7,1536.4 1463.2,1538.4 1463.7,1541.7 1464.2,1543.1 1464.7,1546.3 1465.2,1547.9 1465.7,1548.3 1466.2,1551.9 1466.7,1554.2 1467.2,1554.2 1467.7,1558.7 1468.1,1559.0 1468.6,1560.8 1469.1,1560.8 1469.6,1562.9 1470.1,1564.2 1470.6,1564.4 1471.1,1565.6 1471.6,1564.0 1472.1,1568.0 1472.6,1566.0 1473.1,1565.4 1473.6,1566.9 1474.1,1567.3 1474.6,1568.9 1475.1,1567.7 1475.6,1569.1 1476.0,1568.0 1476.5,1571.3 1477.0,1569.7 1477.5,1571.2 1478.0,1568.3 1478.5,1570.1 1479.0,1568.5 1479.5,1570.1 1480.0,1570.3 1480.5,1568.0 1481.0,1568.5 1481.5,1568.5 1482.0,1568.2 1482.5,1569.0 1483.0,1568.8 1483.5,1568.3 1483.9,1569.9 1484.4,1570.3 1484.9,1568.5 1485.4,1569.2 1485.9,1569.8 1486.4,1569.5 1486.9,1569.1 1487.4,1570.5 1487.9,1570.6 1488.4,1570.4 1488.9,1569.4 1489.4,1571.6 1489.9,1571.3 1490.4,1569.1 1490.9,1569.3 1491.4,1570.5 1491.8,1568.4 1492.3,1569.4 1492.8,1568.9 1493.3,1568.0 1493.8,1568.2 1494.3,1566.6 1494.8,1567.3 1495.3,1565.5 1495.8,1569.4 1496.3,1568.1 1496.8,1567.2 1497.3,1565.6 1497.8,1565.5 1498.3,1564.9 1498.8,1563.7 1499.3,1562.5 1499.7,1559.4 1500.2,1559.5 1500.7,1557.1 1501.2,1555.0 1501.7,1553.6 1502.2,1553.6 1502.7,1552.7 1503.2,1548.7 1503.7,1550.4 1504.2,1548.9 1504.7,1546.0 1505.2,1545.1 1505.7,1544.9 1506.2,1545.8 1506.7,1544.5 1507.2,1544.3 1507.6,1546.5 1508.1,1545.1 1508.6,1548.6 1509.1,1551.0 1509.6,1551.6 1510.1,1553.7 1510.6,1554.9 1511.1,1556.7 1511.6,1557.6 1512.1,1558.0 1512.6,1559.9 1513.1,1561.3 1513.6,1563.7 1514.1,1565.1 1514.6,1564.8 1515.1,1564.5 1515.5,1565.2 1516.0,1566.4 1516.5,1568.5 1517.0,1567.9 1517.5,1567.9 1518.0,1567.5 1518.5,1569.4 1519.0,1569.1 1519.5,1568.9 1520.0,1569.3 1520.5,1571.0 1521.0,1569.3 1521.5,1571.2 1522.0,1570.9 1522.5,1569.8 1523.0,1570.7 1523.4,1569.7 1523.9,1569.1 1524.4,1569.7 1524.9,1569.1 1525.4,1570.5 1525.9,1570.0 1526.4,1570.6 1526.9,1570.9 1527.4,1567.0 1527.9,1570.4 1528.4,1568.3 1528.9,1570.3 1529.4,1569.2 1529.9,1570.2 1530.4,1571.5 1530.9,1568.4 1531.3,1570.3 1531.8,1570.0 1532.3,1568.2 1532.8,1570.7 1533.3,1570.1 1533.8,1569.5 1534.3,1569.2 1534.8,1573.1 1535.3,1569.5 1535.8,1568.0 1536.3,1568.8 1536.8,1569.3 1537.3,1569.1 1537.8,1569.3 1538.3,1568.2 1538.7,1569.6 1539.2,1568.3 1539.7,1567.2 1540.2,1567.4 1540.7,1567.5 1541.2,1568.3 1541.7,1567.5 1542.2,1566.1 1542.7,1565.8 1543.2,1565.3 1543.7,1566.3 1544.2,1562.8 1544.7,1563.0 1545.2,1562.2 1545.7,1559.5 1546.2,1559.5 1546.6,1558.4 1547.1,1556.6 1547.6,1556.5 1548.1,1555.9 1548.6,1555.0 1549.1,1552.9 1549.6,1552.6 1550.1,1554.3 1550.6,1550.6 1551.1,1551.9 1551.6,1552.9 1552.1,1552.6 1552.6,1553.9 1553.1,1554.3 1553.6,1555.8 1554.1,1557.5 1554.5,1557.1 1555.0,1558.6 1555.5,1559.5 1556.0,1560.3 1556.5,1561.7 1557.0,1561.6 1557.5,1564.4 1558.0,1566.2 1558.5,1567.0 1559.0,1567.2 1559.5,1565.6 1560.0,1568.6 1560.5,1566.9 1561.0,1567.9 1561.5,1570.2 1562.0,1567.6 1562.4,1569.7 1562.9,1569.4 1563.4,1569.1 1563.9,1568.6 1564.4,1570.0 1564.9,1569.2 1565.4,1570.8 1565.9,1571.1 1566.4,1568.5 1566.9,1569.5 1567.4,1569.7 1567.9,1568.9 1568.4,1569.0 1568.9,1570.2 1569.4,1569.9 1569.9,1568.5 1570.3,1569.6 1570.8,1570.7 1571.3,1569.0 1571.8,1569.3 1572.3,1571.8 1572.8,1571.5 1573.3,1568.6 1573.8,1568.8 1574.3,1570.5 1574.8,1568.9 1575.3,1569.9 1575.8,1569.6 1576.3,1570.6 1576.8,1567.5 1577.3,1567.8 1577.8,1568.7 1578.2,1570.9 1578.7,1569.7 1579.2,1568.1 1579.7,1570.2 1580.2,1570.3 1580.7,1569.3 1581.2,1569.1 1581.7,1569.7 1582.2,1570.3 1582.7,1569.0 1583.2,1569.1 1583.7,1568.3 1584.2,1567.6 1584.7,1566.7 1585.2,1567.4 1585.7,1566.3 1586.1,1565.7 1586.6,1566.1 1587.1,1564.9 1587.6,1564.3 1588.1,1560.8 1588.6,1561.8 1589.1,1559.5 1589.6,1557.9 1590.1,1556.4 1590.6,1557.0 1591.1,1555.1 1591.6,1552.0 1592.1,1550.1 1592.6,1549.7 1593.1,1547.9 1593.6,1548.8 1594.0,1544.7 1594.5,1543.6 1595.0,1544.8 1595.5,1545.0 1596.0,1545.4 1596.5,1546.6 1597.0,1548.8 1597.5,1547.5 1598.0,1548.7 1598.5,1548.9 1599.0,1552.4 1599.5,1554.6 1600.0,1555.0 1600.5,1558.0 1601.0,1558.3 1601.5,1561.1 1601.9,1561.2 1602.4,1561.0 1602.9,1562.5 1603.4,1562.6 1603.9,1563.2 1604.4,1566.0 1604.9,1567.3 1605.4,1569.0 1605.9,1567.5 1606.4,1567.7 1606.9,1567.2 1607.4,1569.6 1607.9,1569.3 1608.4,1568.6 1608.9,1570.0 1609.4,1570.1 1609.8,1567.8 1610.3,1570.5 1610.8,1570.0 1611.3,1569.6 1611.8,1569.7 1612.3,1571.9 1612.8,1571.7 1613.3,1572.1 1613.8,1569.2 1614.3,1569.7 1614.8,1571.3 1615.3,1569.2 1615.8,1569.8 1616.3,1568.7 1616.8,1572.4 1617.3,1571.6 1617.7,1571.1 1618.2,1570.9 1618.7,1570.2 1619.2,1570.3 1619.7,1571.3 1620.2,1570.0 1620.7,1572.0 1621.2,1570.3 1621.7,1569.9 1622.2,1572.1 1622.7,1570.6 1623.2,1571.4 1623.7,1570.4 1624.2,1568.6 1624.7,1571.4 1625.2,1569.5 1625.6,1571.9 1626.1,1569.3 1626.6,1568.9 1627.1,1571.1 1627.6,1571.2 1628.1,1570.9 1628.6,1569.5 1629.1,1571.6 1629.6,1569.2 1630.1,1570.2 1630.6,1569.8 1631.1,1570.1 1631.6,1571.3 1632.1,1569.7 1632.6,1570.8 1633.1,1570.9 1633.5,1568.3 1634.0,1568.8 1634.5,1569.4 1635.0,1569.1 1635.5,1569.8 1636.0,1567.4 1636.5,1569.9 1637.0,1569.8 1637.5,1568.7 1638.0,1567.4 1638.5,1568.7 1639.0,1568.1 1639.5,1569.1 1640.0,1568.4 1640.5,1569.3 1641.0,1568.2 1641.4,1570.1 1641.9,1566.5 1642.4,1567.9 1642.9,1569.5 1643.4,1567.7 1643.9,1570.1 1644.4,1568.3 1644.9,1569.7 1645.4,1568.9 1645.9,1569.5 1646.4,1570.2 1646.9,1570.1 1647.4,1569.9 1647.9,1572.5 1648.4,1570.5 1648.9,1569.6 1649.3,1571.6 1649.8,1571.5 1650.3,1572.0 1650.8,1572.6 1651.3,1569.9 1651.8,1571.9 1652.3,1572.0 1652.8,1570.9 1653.3,1571.1 1653.8,1567.9 1654.3,1570.3 1654.8,1572.7 1655.3,1569.1 1655.8,1570.4 1656.3,1571.2 1656.8,1571.5 1657.2,1572.5 1657.7,1569.1 1658.2,1570.9 1658.7,1571.8 1659.2,1569.6 1659.7,1570.8 1660.2,1572.7 1660.7,1572.2 1661.2,1571.4 1661.7,1568.2 1662.2,1570.6 1662.7,1571.1 1663.2,1570.4 1663.7,1570.6 1664.2,1573.7 1664.7,1570.4 1665.1,1569.6 1665.6,1570.7 1666.1,1570.1 1666.6,1570.0 1667.1,1570.1 1667.6,1570.8 1668.1,1570.2 1668.6,1568.5 1669.1,1569.4 1669.6,1569.8 1670.1,1568.6 1670.6,1569.9 1671.1,1569.1 1671.6,1567.0 1672.1,1567.9 1672.6,1569.1 1673.0,1568.1 1673.5,1566.0 1674.0,1566.3 1674.5,1564.2 1675.0,1562.8 1675.5,1564.2 1676.0,1563.3 1676.5,1563.0 1677.0,1562.0 1677.5,1561.9 1678.0,1560.7 1678.5,1561.5 1679.0,1561.8 1679.5,1560.9 1680.0,1562.0 1680.5,1559.7 1680.9,1561.1 1681.4,1563.8 1681.9,1564.6 1682.4,1563.7 1682.9,1564.0 1683.4,1563.4 1683.9,1565.6 1684.4,1566.6 1684.9,1564.9 1685.4,1567.4 1685.9,1567.8 1686.4,1568.2 1686.9,1567.0 1687.4,1569.1 1687.9,1567.3 1688.4,1570.6 1688.8,1569.5 1689.3,1568.4 1689.8,1571.1 1690.3,1571.0 1690.8,1569.3 1691.3,1572.3 1691.8,1569.2 1692.3,1570.5 1692.8,1571.5 1693.3,1568.1 1693.8,1571.4 1694.3,1570.3 1694.8,1570.4 1695.3,1569.3 1695.8,1570.8 1696.3,1569.3 1696.7,1569.5 1697.2,1570.0 1697.7,1569.2 1698.2,1572.0 1698.7,1569.1 1699.2,1569.6 1699.7,1570.1 1700.2,1570.4 1700.7,1571.1 1701.2,1571.1 1701.7,1570.0 1702.2,1569.8 1702.7,1570.2 1703.2,1571.0 1703.7,1570.8 1704.2,1569.5 1704.6,1567.9 1705.1,1572.0 1705.6,1570.7 1706.1,1569.9 1706.6,1569.8 1707.1,1568.7 1707.6,1568.0 1708.1,1568.5 1708.6,1568.3 1709.1,1567.5 1709.6,1566.3 1710.1,1567.0 1710.6,1567.3 1711.1,1565.6 1711.6,1565.4 1712.1,1562.5 1712.5,1563.4 1713.0,1562.5 1713.5,1560.3 1714.0,1558.6 1714.5,1559.5 1715.0,1556.9 1715.5,1556.8 1716.0,1554.5 1716.5,1554.1 1717.0,1551.8 1717.5,1549.3 1718.0,1549.6 1718.5,1548.4 1719.0,1548.6 1719.5,1547.0 1720.0,1546.9 1720.4,1548.2 1720.9,1549.0 1721.4,1549.3 1721.9,1550.5 1722.4,1551.1 1722.9,1552.7 1723.4,1554.1 1723.9,1555.1 1724.4,1556.2 1724.9,1557.6 1725.4,1561.2 1725.9,1560.1 1726.4,1561.1 1726.9,1562.1 1727.4,1563.4 1727.9,1564.7 1728.3,1564.1 1728.8,1564.0 1729.3,1566.9 1729.8,1565.6 1730.3,1568.0 1730.8,1568.3 1731.3,1569.6 1731.8,1570.5 1732.3,1569.4 1732.8,1568.7 1733.3,1568.3 1733.8,1568.8 1734.3,1569.8 1734.8,1567.8 1735.3,1570.1 1735.8,1570.1 1736.2,1570.8 1736.7,1569.9 1737.2,1570.4 1737.7,1569.6 1738.2,1569.9 1738.7,1568.6 1739.2,1570.6 1739.7,1572.0 1740.2,1570.7 1740.7,1570.9 1741.2,1569.6 1741.7,1572.0 1742.2,1569.8 1742.7,1571.4 1743.2,1570.7 1743.7,1569.7 1744.1,1571.7 1744.6,1570.6 1745.1,1570.8 1745.6,1571.1 1746.1,1570.6 1746.6,1570.2 1747.1,1571.0 1747.6,1570.1 1748.1,1570.6 1748.6,1569.8 1749.1,1568.9 1749.6,1569.6 1750.1,1569.7 1750.6,1570.1 1751.1,1571.2 1751.6,1568.2 1752.0,1569.8 1752.5,1567.3 1753.0,1568.3 1753.5,1568.6 1754.0,1566.7 1754.5,1566.8 1755.0,1568.6 1755.5,1568.3 1756.0,1567.8 1756.5,1566.9 1757.0,1569.6 1757.5,1567.1 1758.0,1566.3 1758.5,1568.7 1759.0,1567.6 1759.5,1566.5 1759.9,1568.1 1760.4,1567.2 1760.9,1567.8 1761.4,1567.6 1761.9,1566.5 1762.4,1568.8 1762.9,1568.2 1763.4,1567.3 1763.9,1567.8 1764.4,1569.7 1764.9,1568.6 1765.4,1569.3 1765.9,1570.1 1766.4,1569.7 1766.9,1568.3 1767.4,1570.6 1767.8,1571.0 1768.3,1571.1 1768.8,1571.9 1769.3,1570.8 1769.8,1571.2 1770.3,1572.1 1770.8,1570.3 1771.3,1572.4 1771.8,1572.4 1772.3,1571.5 1772.8,1572.6 1773.3,1571.6 1773.8,1569.9 1774.3,1571.9 1774.8,1571.1 1775.3,1571.2 1775.7,1570.9 1776.2,1572.1 1776.7,1571.3 1777.2,1570.1 1777.7,1571.2 1778.2,1571.5 1778.7,1570.0 1779.2,1570.3 1779.7,1570.3 1780.2,1570.0 1780.7,1571.0 1781.2,1571.6 1781.7,1572.4 1782.2,1571.7 1782.7,1571.5 1783.2,1571.5 1783.6,1571.7 1784.1,1569.9 1784.6,1570.9 1785.1,1570.4 1785.6,1569.8 1786.1,1569.4 1786.6,1569.1 1787.1,1569.2 1787.6,1568.0 1788.1,1569.4 1788.6,1568.6 1789.1,1568.3 1789.6,1568.1 1790.1,1568.0 1790.6,1566.2 1791.1,1566.0 1791.5,1563.9 1792.0,1562.5 1792.5,1562.0 1793.0,1564.6 1793.5,1560.3 1794.0,1561.7 1794.5,1561.7 1795.0,1558.8 1795.5,1560.0 1796.0,1559.3 1796.5,1557.6 1797.0,1558.4 1797.5,1556.1 1798.0,1554.5 1798.5,1555.6 1799.0,1554.7 1799.4,1554.1 1799.9,1554.6 1800.4,1558.9 1800.9,1556.8 1801.4,1558.2 1801.9,1558.4 1802.4,1560.2 1802.9,1560.8 1803.4,1561.6 1803.9,1561.7 1804.4,1562.3 1804.9,1563.8 1805.4,1565.6 1805.9,1568.1 1806.4,1567.7 1806.9,1569.0 1807.3,1568.2 1807.8,1568.0 1808.3,1567.2 1808.8,1568.8 1809.3,1567.0 1809.8,1569.1 1810.3,1571.2 1810.8,1570.1 1811.3,1571.0 1811.8,1569.6 1812.3,1568.7 1812.8,1569.7 1813.3,1569.9 1813.8,1571.5 1814.3,1572.4 1814.8,1569.7 1815.2,1570.1 1815.7,1570.4 1816.2,1570.2 1816.7,1569.3 1817.2,1570.7 1817.7,1570.9 1818.2,1571.0 1818.7,1569.4 1819.2,1570.5 1819.7,1568.9 1820.2,1571.5 1820.7,1569.6 1821.2,1570.3 1821.7,1570.1 1822.2,1569.9 1822.7,1569.4 1823.1,1568.7 1823.6,1572.1 1824.1,1570.6 1824.6,1570.5 1825.1,1572.3 1825.6,1569.9 1826.1,1570.4 1826.6,1569.7 1827.1,1570.7 1827.6,1569.8 1828.1,1569.4 1828.6,1568.5 1829.1,1568.7 1829.6,1569.2 1830.1,1565.5 1830.6,1567.0 1831.0,1566.2 1831.5,1565.8 1832.0,1563.6 1832.5,1565.7 1833.0,1563.5 1833.5,1563.5 1834.0,1562.7 1834.5,1560.9 1835.0,1561.7 1835.5,1559.8 1836.0,1560.4 1836.5,1560.8 1837.0,1561.1 1837.5,1561.2 1838.0,1561.2 1838.5,1563.8 1838.9,1562.5 1839.4,1561.3 1839.9,1562.5 1840.4,1563.0 1840.9,1564.1 1841.4,1564.3 1841.9,1564.6 1842.4,1567.7 1842.9,1566.7 1843.4,1566.8 1843.9,1567.4 1844.4,1567.9 1844.9,1569.9 1845.4,1569.3 1845.9,1570.3 1846.4,1566.3 1846.8,1570.0 1847.3,1570.9 1847.8,1572.0 1848.3,1570.3 1848.8,1568.6 1849.3,1571.1 1849.8,1570.0 1850.3,1568.9 1850.8,1570.1 1851.3,1571.8 1851.8,1572.0 1852.3,1571.6 1852.8,1569.9 1853.3,1573.5 1853.8,1569.8 1854.3,1570.9 1854.7,1569.6 1855.2,1572.4 1855.7,1571.5 1856.2,1572.0 1856.7,1571.2 1857.2,1571.1 1857.7,1571.3 1858.2,1569.3 1858.7,1572.2 1859.2,1572.1 1859.7,1570.8 1860.2,1571.2 1860.7,1571.5 1861.2,1572.8 1861.7,1571.7 1862.2,1571.3 1862.6,1570.8 1863.1,1569.8 1863.6,1570.7 1864.1,1571.4 1864.6,1571.0 1865.1,1571.4 1865.6,1572.1 1866.1,1571.8 1866.6,1571.6 1867.1,1572.0 1867.6,1571.5 1868.1,1571.3 1868.6,1571.8 1869.1,1569.6 1869.6,1572.6 1870.1,1570.1 1870.5,1572.2 1871.0,1571.4 1871.5,1572.5 1872.0,1571.4 1872.5,1570.4 1873.0,1572.4 1873.5,1571.6 1874.0,1571.5 1874.5,1571.5 1875.0,1572.4 1875.5,1572.2 1876.0,1571.6 1876.5,1569.8 1877.0,1571.0 1877.5,1571.5 1878.0,1573.2 1878.4,1571.8 1878.9,1571.3 1879.4,1572.6 1879.9,1571.3 1880.4,1571.4 1880.9,1571.5 1881.4,1569.9 1881.9,1572.3 1882.4,1571.8 1882.9,1571.1 1883.4,1570.2 1883.9,1571.6 1884.4,1572.8 1884.9,1570.7 1885.4,1570.3 1885.9,1571.8 1886.3,1569.8 1886.8,1569.1 1887.3,1570.9 1887.8,1570.7 1888.3,1571.1 1888.8,1570.8 1889.3,1571.7 1889.8,1571.1 1890.3,1570.7 1890.8,1570.9 1891.3,1571.9 1891.8,1572.3 1892.3,1572.2 1892.8,1572.0 1893.3,1568.0 1893.8,1570.3 1894.2,1570.9 1894.7,1571.4 1895.2,1569.6 1895.7,1572.6 1896.2,1571.5 1896.7,1570.6 1897.2,1571.3 1897.7,1570.8 1898.2,1570.3 1898.7,1571.6 1899.2,1570.6 1899.7,1569.6 1900.2,1570.3 1900.7,1570.8 1901.2,1569.7 1901.7,1572.0 1902.1,1569.6 1902.6,1572.3 1903.1,1571.3 1903.6,1569.3 1904.1,1570.2 1904.6,1571.1 1905.1,1569.5 1905.6,1568.2 1906.1,1569.2 1906.6,1570.8 1907.1,1567.0 1907.6,1568.6 1908.1,1567.7 1908.6,1567.1 1909.1,1566.4 1909.6,1566.0 1910.0,1566.8 1910.5,1565.9 1911.0,1563.9 1911.5,1566.0 1912.0,1562.8 1912.5,1564.5 1913.0,1563.8 1913.5,1564.7 1914.0,1563.8 1914.5,1564.6 1915.0,1563.7 1915.5,1565.0 1916.0,1564.7 1916.5,1566.9 1917.0,1564.5 1917.5,1566.9 1917.9,1566.6 1918.4,1566.8 1918.9,1566.5 1919.4,1568.0 1919.9,1566.5 1920.4,1567.0 1920.9,1569.4 1921.4,1567.5 1921.9,1570.8 1922.4,1569.3 1922.9,1570.1 1923.4,1570.1 1923.9,1570.6 1924.4,1570.1 1924.9,1570.1 1925.4,1570.5 1925.8,1571.7 1926.3,1571.9 1926.8,1572.1 1927.3,1571.3 1927.8,1570.7 1928.3,1569.3 1928.8,1571.7 1929.3,1571.9 1929.8,1570.7 1930.3,1571.9 1930.8,1572.4 1931.3,1571.2 1931.8,1572.2 1932.3,1571.4 1932.8,1569.4 1933.3,1570.7 1933.7,1570.7 1934.2,1571.6 1934.7,1570.2 1935.2,1570.7 1935.7,1570.1 1936.2,1571.0 1936.7,1571.1 1937.2,1572.0 1937.7,1571.7 1938.2,1571.1 1938.7,1571.1 1939.2,1570.9 1939.7,1570.8 1940.2,1572.1 1940.7,1568.0 1941.2,1570.1 1941.6,1570.5 1942.1,1571.1 1942.6,1568.7 1943.1,1570.0 1943.6,1570.3 1944.1,1568.7 1944.6,1567.0 1945.1,1568.3 1945.6,1567.2 1946.1,1568.9 1946.6,1567.1 1947.1,1569.5 1947.6,1567.7 1948.1,1566.6 1948.6,1566.9 1949.1,1566.2 1949.5,1567.7 1950.0,1568.9 1950.5,1567.3 1951.0,1568.6 1951.5,1566.9 1952.0,1568.4 1952.5,1570.6 1953.0,1567.2 1953.5,1570.1 1954.0,1570.3 1954.5,1567.4 1955.0,1568.1 1955.5,1568.8 1956.0,1570.9 1956.5,1569.7 1957.0,1570.2 1957.4,1571.2 1957.9,1570.7 1958.4,1570.9 1958.9,1570.5 1959.4,1572.0 1959.9,1570.2 1960.4,1572.7 1960.9,1570.8 1961.4,1570.4 1961.9,1571.9 1962.4,1571.7 1962.9,1569.3 1963.4,1571.5 1963.9,1570.0 1964.4,1570.5 1964.9,1572.1 1965.3,1570.5 1965.8,1571.7 1966.3,1571.0 1966.8,1573.3 1967.3,1571.3 1967.8,1570.3 1968.3,1570.3 1968.8,1570.5"/>
<polyline fill="none" stroke="#0a74e6" stroke-width="10.2" stroke-linejoin="round" points="240.7,1563.5 241.7,1563.5 242.7,1563.5 243.7,1563.5 244.6,1563.5 245.6,1563.5 246.6,1563.5 247.6,1563.5 248.6,1563.5 249.6,1563.5 250.6,1563.5 251.6,1563.6 252.5,1563.6 253.5,1563.6 254.5,1563.6 255.5,1563.6 256.5,1563.6 257.5,1563.6 258.5,1563.6 259.5,1563.6 260.4,1563.6 261.4,1563.6 262.4,1563.6 263.4,1563.6 264.4,1563.6 265.4,1563.6 266.4,1563.6 267.4,1563.6 268.3,1563.6 269.3,1563.6 270.3,1563.6 271.3,1563.6 272.3,1563.6 273.3,1563.6 274.3,1563.6 275.3,1563.6 276.2,1563.6 277.2,1563.6 278.2,1563.6 279.2,1563.6 280.2,1563.6 281.2,1563.6 282.2,1563.6 283.2,1563.6 284.1,1563.6 285.1,1563.6 286.1,1563.5 287.1,1563.4 288.1,1563.2 289.1,1563.1 290.1,1563.0 291.1,1562.8 292.0,1562.7 293.0,1562.6 294.0,1562.4 295.0,1562.3 296.0,1562.2 297.0,1562.0 298.0,1561.9 299.0,1561.7 299.9,1561.6 300.9,1561.5 301.9,1561.3 302.9,1561.2 303.9,1561.0 304.9,1560.9 305.9,1560.9 306.9,1560.9 307.8,1560.8 308.8,1560.8 309.8,1560.8 310.8,1560.8 311.8,1560.8 312.8,1560.7 313.8,1560.7 314.8,1560.7 315.7,1560.6 316.7,1560.6 317.7,1560.5 318.7,1560.5 319.7,1560.4 320.7,1560.4 321.7,1560.3 322.7,1560.2 323.6,1560.1 324.6,1560.0 325.6,1559.9 326.6,1559.8 327.6,1559.7 328.6,1559.5 329.6,1559.4 330.6,1559.2 331.5,1559.0 332.5,1558.7 333.5,1558.5 334.5,1558.2 335.5,1557.8 336.5,1557.4 337.5,1557.0 338.5,1556.5 339.4,1555.9 340.4,1555.2 341.4,1554.4 342.4,1553.5 343.4,1552.4 344.4,1551.0 345.4,1549.4 346.4,1547.4 347.3,1544.8 348.3,1541.6 349.3,1537.4 350.3,1531.4 351.3,1522.2 352.3,1506.6 353.3,1478.8 354.3,1430.5 355.2,1353.5 356.2,1245.5 357.2,1118.5 357.5,1081.5 358.2,1009.8 358.3,1005.9 358.6,984.0 359.0,976.3 359.2,978.5 359.4,984.0 359.7,1006.0 360.2,1047.5 360.5,1081.5 361.2,1170.0 362.2,1292.2 363.1,1388.3 364.1,1453.0 365.1,1492.1 366.1,1514.2 367.1,1526.8 368.1,1534.5 369.1,1539.7 370.1,1543.5 371.0,1546.4 372.0,1548.8 373.0,1550.7 374.0,1552.2 375.0,1553.5 376.0,1554.6 377.0,1555.5 378.0,1556.3 378.9,1557.0 379.9,1557.6 380.9,1558.1 381.9,1558.6 382.9,1559.0 383.9,1559.4 384.9,1559.7 385.9,1560.0 386.8,1560.2 387.8,1560.5 388.8,1560.7 389.8,1560.9 390.8,1561.1 391.8,1561.3 392.8,1561.4 393.8,1561.6 394.7,1561.7 395.7,1561.8 396.7,1561.9 397.7,1562.0 398.7,1562.1 399.7,1562.2 400.7,1562.3 401.7,1562.4 402.6,1562.5 403.6,1562.6 404.6,1562.7 405.6,1562.7 406.6,1562.8 407.6,1562.9 408.6,1562.9 409.6,1563.0 410.5,1563.1 411.5,1563.1 412.5,1563.2 413.5,1563.2 414.5,1563.2 415.5,1563.3 416.5,1563.3 417.5,1563.3 418.4,1563.4 419.4,1563.4 420.4,1563.4 421.4,1563.4 422.4,1563.4 423.4,1563.5 424.4,1563.5 425.4,1563.5 426.3,1563.5 427.3,1563.5 428.3,1563.6 429.3,1563.6 430.3,1563.6 431.3,1563.6 432.3,1563.6 433.3,1563.6 434.2,1563.6 435.2,1563.7 436.2,1563.7 437.2,1563.7 438.2,1563.7 439.2,1563.7 440.2,1563.7 441.2,1563.8 442.1,1563.8 443.1,1563.8 444.1,1563.8 445.1,1563.9 446.1,1563.9 447.1,1563.9 448.1,1563.9 449.1,1563.9 450.0,1564.0 451.0,1564.0 452.0,1564.0 453.0,1564.0 454.0,1564.1 455.0,1564.1 456.0,1564.1 457.0,1564.1 457.9,1564.1 458.9,1564.1 459.9,1564.2 460.9,1564.2 461.9,1564.2 462.9,1564.2 463.9,1564.2 464.9,1564.2 465.8,1564.2 466.8,1564.2 467.8,1564.3 468.8,1564.3 469.8,1564.3 470.8,1564.3 471.8,1564.3 472.8,1564.3 473.7,1564.3 474.7,1564.3 475.7,1564.3 476.7,1564.3 477.7,1564.2 478.7,1564.2 479.7,1564.2 480.7,1564.2 481.6,1564.2 482.6,1564.1 483.6,1564.1 484.6,1564.0 485.6,1564.0 486.6,1563.9 487.6,1563.8 488.6,1563.7 489.5,1563.6 490.5,1563.5 491.5,1563.3 492.5,1563.1 493.5,1562.9 494.5,1562.6 495.5,1562.3 496.5,1561.8 497.4,1561.3 498.4,1560.6 499.4,1559.6 500.4,1558.1 501.4,1555.7 502.4,1551.6 503.4,1544.6 504.4,1533.1 505.3,1516.1 506.3,1494.4 507.3,1471.3 508.1,1457.9 508.3,1455.1 508.4,1454.1 508.8,1452.8 509.2,1454.1 509.3,1455.1 509.5,1458.0 510.3,1471.4 511.3,1494.5 512.3,1516.3 513.2,1533.3 514.2,1544.8 515.2,1551.9 516.2,1556.0 517.2,1558.4 518.2,1560.0 519.2,1561.0 520.2,1561.7 521.1,1562.3 522.1,1562.8 523.1,1563.2 524.1,1563.5 525.1,1563.8 526.1,1564.0 527.1,1564.2 528.1,1564.4 529.0,1564.6 530.0,1564.7 531.0,1564.8 532.0,1564.9 533.0,1565.0 534.0,1565.1 535.0,1565.2 536.0,1565.2 536.9,1565.3 537.9,1565.4 538.9,1565.4 539.9,1565.5 540.9,1565.5 541.9,1565.6 542.9,1565.6 543.9,1565.7 544.8,1565.7 545.8,1565.7 546.8,1565.8 547.8,1565.8 548.8,1565.8 549.8,1565.9 550.8,1565.9 551.8,1565.9 552.7,1566.0 553.7,1566.0 554.7,1566.0 555.7,1566.0 556.7,1566.1 557.7,1566.1 558.7,1566.1 559.7,1566.1 560.6,1566.1 561.6,1566.1 562.6,1566.2 563.6,1566.2 564.6,1566.2 565.6,1566.2 566.6,1566.2 567.6,1566.2 568.5,1566.2 569.5,1566.2 570.5,1566.3 571.5,1566.3 572.5,1566.3 573.5,1566.3 574.5,1566.3 575.5,1566.3 576.4,1566.3 577.4,1566.3 578.4,1566.3 579.4,1566.3 580.4,1566.3 581.4,1566.3 582.4,1566.2 583.4,1566.2 584.3,1566.2 585.3,1566.2 586.3,1566.2 587.3,1566.1 588.3,1566.1 589.3,1566.1 590.3,1566.0 591.3,1566.0 592.2,1565.9 593.2,1565.9 594.2,1565.8 595.2,1565.7 596.2,1565.6 597.2,1565.5 598.2,1565.4 599.2,1565.3 600.1,1565.1 601.1,1565.0 602.1,1564.8 603.1,1564.6 604.1,1564.3 605.1,1564.0 606.1,1563.7 607.1,1563.3 608.0,1562.8 609.0,1562.2 610.0,1561.6 611.0,1560.8 612.0,1559.8 613.0,1558.5 614.0,1557.0 615.0,1554.9 615.9,1552.0 616.9,1547.7 617.9,1540.5 618.9,1528.2 619.9,1507.9 620.9,1476.3 621.9,1432.1 622.9,1377.9 623.7,1331.6 623.8,1324.2 624.4,1300.3 624.8,1291.4 624.8,1291.0 625.2,1288.4 625.5,1291.4 625.8,1297.5 625.9,1300.4 626.7,1331.6 626.8,1339.3 627.8,1394.9 628.8,1446.8 629.8,1487.3 630.8,1515.3 631.7,1532.9 632.7,1543.4 633.7,1549.6 634.7,1553.4 635.7,1556.0 636.7,1558.0 637.7,1559.5 638.7,1560.7 639.6,1561.6 640.6,1562.4 641.6,1563.1 642.6,1563.7 643.6,1564.2 644.6,1564.6 645.6,1565.0 646.6,1565.3 647.5,1565.6 648.5,1565.8 649.5,1566.1 650.5,1566.3 651.5,1566.4 652.5,1566.6 653.5,1566.8 654.5,1566.9 655.4,1567.0 656.4,1567.1 657.4,1567.2 658.4,1567.3 659.4,1567.4 660.4,1567.5 661.4,1567.6 662.4,1567.7 663.3,1567.7 664.3,1567.8 665.3,1567.9 666.3,1567.9 667.3,1568.0 668.3,1568.1 669.3,1568.1 670.3,1568.2 671.2,1568.2 672.2,1568.2 673.2,1568.3 674.2,1568.3 675.2,1568.4 676.2,1568.4 677.2,1568.4 678.2,1568.5 679.1,1568.5 680.1,1568.5 681.1,1568.6 682.1,1568.6 683.1,1568.6 684.1,1568.7 685.1,1568.7 686.1,1568.7 687.0,1568.7 688.0,1568.7 689.0,1568.8 690.0,1568.8 691.0,1568.8 692.0,1568.8 693.0,1568.8 694.0,1568.8 694.9,1568.8 695.9,1568.8 696.9,1568.8 697.9,1568.8 698.9,1568.8 699.9,1568.8 700.9,1568.8 701.9,1568.8 702.8,1568.7 703.8,1568.7 704.8,1568.6 705.8,1568.6 706.8,1568.5 707.8,1568.3 708.8,1568.2 709.8,1568.0 710.7,1567.7 711.7,1567.4 712.7,1566.8 713.7,1565.9 714.7,1564.5 715.7,1562.0 716.7,1558.1 717.7,1552.4 718.6,1545.1 719.6,1536.9 720.0,1533.8 720.6,1530.1 720.8,1529.4 721.1,1528.1 721.5,1527.7 721.6,1527.7 721.9,1528.1 722.2,1529.4 722.6,1531.2 723.0,1533.9 723.6,1538.6 724.6,1546.8 725.6,1553.9 726.5,1559.2 727.5,1562.9 728.5,1565.2 729.5,1566.5 730.5,1567.4 731.5,1567.9 732.5,1568.3 733.5,1568.6 734.4,1568.8 735.4,1569.0 736.4,1569.2 737.4,1569.3 738.4,1569.4 739.4,1569.5 740.4,1569.6 741.4,1569.7 742.3,1569.8 743.3,1569.8 744.3,1569.9 745.3,1569.9 746.3,1570.0 747.3,1570.0 748.3,1570.1 749.3,1570.1 750.2,1570.2 751.2,1570.2 752.2,1570.2 753.2,1570.3 754.2,1570.3 755.2,1570.3 756.2,1570.3 757.2,1570.4 758.1,1570.4 759.1,1570.4 760.1,1570.4 761.1,1570.4 762.1,1570.4 763.1,1570.4 764.1,1570.5 765.1,1570.5 766.0,1570.5 767.0,1570.5 768.0,1570.5 769.0,1570.5 770.0,1570.5 771.0,1570.4 772.0,1570.4 773.0,1570.4 773.9,1570.4 774.9,1570.4 775.9,1570.4 776.9,1570.4 777.9,1570.4 778.9,1570.4 779.9,1570.3 780.9,1570.3 781.8,1570.3 782.8,1570.2 783.8,1570.2 784.8,1570.2 785.8,1570.1 786.8,1570.1 787.8,1570.0 788.8,1569.9 789.7,1569.8 790.7,1569.7 791.7,1569.6 792.7,1569.4 793.7,1569.2 794.7,1569.0 795.7,1568.7 796.7,1568.3 797.6,1567.8 798.6,1567.0 799.6,1565.8 800.6,1563.9 801.6,1560.7 802.6,1555.7 803.6,1548.3 804.6,1538.6 805.5,1527.5 806.2,1520.0 806.5,1517.3 807.0,1514.0 807.3,1512.3 807.5,1511.9 807.7,1511.7 808.1,1512.3 808.5,1514.0 808.5,1514.3 809.2,1520.0 809.5,1523.1 810.5,1534.3 811.5,1544.7 812.5,1553.0 813.4,1559.0 814.4,1562.8 815.4,1565.2 816.4,1566.7 817.4,1567.6 818.4,1568.2 819.4,1568.6 820.4,1568.9 821.3,1569.2 822.3,1569.4 823.3,1569.6 824.3,1569.7 825.3,1569.9 826.3,1570.0 827.3,1570.1 828.3,1570.1 829.2,1570.2 830.2,1570.3 831.2,1570.3 832.2,1570.4 833.2,1570.4 834.2,1570.4 835.2,1570.5 836.2,1570.5 837.1,1570.5 838.1,1570.5 839.1,1570.5 840.1,1570.5 841.1,1570.5 842.1,1570.5 843.1,1570.5 844.1,1570.5 845.0,1570.5 846.0,1570.5 847.0,1570.5 848.0,1570.5 849.0,1570.5 850.0,1570.5 851.0,1570.5 852.0,1570.4 852.9,1570.4 853.9,1570.4 854.9,1570.3 855.9,1570.3 856.9,1570.2 857.9,1570.2 858.9,1570.1 859.9,1570.0 860.8,1569.9 861.8,1569.8 862.8,1569.7 863.8,1569.6 864.8,1569.4 865.8,1569.3 866.8,1569.1 867.8,1568.8 868.7,1568.6 869.7,1568.3 870.7,1567.9 871.7,1567.4 872.7,1566.9 873.7,1566.2 874.7,1565.3 875.7,1564.2 876.6,1562.6 877.6,1560.1 878.6,1556.2 879.6,1549.7 880.6,1539.5 881.6,1524.1 882.6,1503.2 883.6,1477.7 884.5,1451.3 884.7,1446.6 885.5,1432.4 885.5,1431.8 885.8,1428.5 886.2,1427.1 886.5,1428.0 886.6,1428.5 887.0,1432.4 887.5,1442.2 887.7,1446.6 888.5,1466.9 889.5,1493.4 890.5,1516.5 891.5,1534.1 892.4,1546.2 893.4,1554.0 894.4,1558.9 895.4,1561.8 896.4,1563.7 897.4,1565.1 898.4,1566.0 899.4,1566.8 900.3,1567.4 901.3,1567.9 902.3,1568.3 903.3,1568.7 904.3,1569.0 905.3,1569.3 906.3,1569.5 907.3,1569.7 908.2,1569.8 909.2,1570.0 910.2,1570.1 911.2,1570.2 912.2,1570.3 913.2,1570.4 914.2,1570.5 915.2,1570.6 916.1,1570.7 917.1,1570.7 918.1,1570.8 919.1,1570.9 920.1,1570.9 921.1,1570.9 922.1,1571.0 923.1,1571.0 924.0,1571.1 925.0,1571.1 926.0,1571.1 927.0,1571.1 928.0,1571.2 929.0,1571.2 930.0,1571.2 931.0,1571.2 931.9,1571.2 932.9,1571.3 933.9,1571.3 934.9,1571.3 935.9,1571.3 936.9,1571.3 937.9,1571.3 938.9,1571.2 939.8,1571.2 940.8,1571.2 941.8,1571.2 942.8,1571.2 943.8,1571.1 944.8,1571.1 945.8,1571.0 946.8,1570.9 947.7,1570.8 948.7,1570.7 949.7,1570.4 950.7,1570.0 951.7,1569.3 952.7,1568.3 953.7,1566.8 954.7,1564.6 955.6,1562.0 956.6,1559.2 957.0,1558.2 957.6,1557.0 957.8,1556.8 958.1,1556.3 958.5,1556.2 958.6,1556.2 958.9,1556.4 959.2,1556.8 959.6,1557.4 960.0,1558.2 960.6,1559.8 961.6,1562.6 962.6,1565.2 963.5,1567.2 964.5,1568.6 965.5,1569.6 966.5,1570.2 967.5,1570.6 968.5,1570.8 969.5,1571.0 970.5,1571.1 971.4,1571.2 972.4,1571.3 973.4,1571.3 974.4,1571.4 975.4,1571.4 976.4,1571.5 977.4,1571.5 978.4,1571.5 979.3,1571.5 980.3,1571.6 981.3,1571.6 982.3,1571.6 983.3,1571.6 984.3,1571.6 985.3,1571.6 986.3,1571.7 987.2,1571.7 988.2,1571.7 989.2,1571.7 990.2,1571.7 991.2,1571.7 992.2,1571.7 993.2,1571.7 994.2,1571.7 995.1,1571.7 996.1,1571.7 997.1,1571.7 998.1,1571.8 999.1,1571.8 1000.1,1571.8 1001.1,1571.8 1002.1,1571.8 1003.0,1571.8 1004.0,1571.8 1005.0,1571.8 1006.0,1571.8 1007.0,1571.8 1008.0,1571.8 1009.0,1571.8 1010.0,1571.8 1010.9,1571.8 1011.9,1571.8 1012.9,1571.8 1013.9,1571.8 1014.9,1571.8 1015.9,1571.8 1016.9,1571.8 1017.9,1571.8 1018.8,1571.8 1019.8,1571.8 1020.8,1571.8 1021.8,1571.8 1022.8,1571.8 1023.8,1571.8 1024.8,1571.8 1025.8,1571.8 1026.7,1571.8 1027.7,1571.8 1028.7,1571.8 1029.7,1571.8 1030.7,1571.8 1031.7,1571.8 1032.7,1571.8 1033.7,1571.8 1034.6,1571.8 1035.6,1571.8 1036.6,1571.8 1037.6,1571.8 1038.6,1571.8 1039.6,1571.8 1040.6,1571.8 1041.6,1571.8 1042.5,1571.7 1043.5,1571.7 1044.5,1571.7 1045.5,1571.7 1046.5,1571.7 1047.5,1571.7 1048.5,1571.7 1049.5,1571.7 1050.4,1571.7 1051.4,1571.7 1052.4,1571.6 1053.4,1571.6 1054.4,1571.6 1055.4,1571.6 1056.4,1571.6 1057.4,1571.6 1058.3,1571.6 1059.3,1571.5 1060.3,1571.5 1061.3,1571.5 1062.3,1571.5 1063.3,1571.4 1064.3,1571.4 1065.3,1571.4 1066.2,1571.3 1067.2,1571.3 1068.2,1571.3 1069.2,1571.2 1070.2,1571.1 1071.2,1571.1 1072.2,1571.0 1073.2,1570.9 1074.1,1570.8 1075.1,1570.6 1076.1,1570.4 1077.1,1570.2 1078.1,1569.8 1079.1,1569.3 1080.1,1568.5 1081.1,1567.1 1082.0,1565.1 1083.0,1562.2 1084.0,1558.4 1085.0,1553.8 1086.0,1549.3 1086.2,1548.2 1087.0,1545.9 1087.3,1545.2 1087.7,1545.0 1088.0,1545.1 1088.1,1545.2 1088.5,1545.9 1089.0,1547.3 1089.2,1548.2 1089.9,1551.5 1090.9,1556.1 1091.9,1560.3 1092.9,1563.7 1093.9,1566.2 1094.9,1567.8 1095.9,1568.8 1096.9,1569.5 1097.8,1569.9 1098.8,1570.2 1099.8,1570.4 1100.8,1570.6 1101.8,1570.7 1102.8,1570.8 1103.8,1570.9 1104.8,1570.9 1105.7,1571.0 1106.7,1571.0 1107.7,1571.1 1108.7,1571.1 1109.7,1571.1 1110.7,1571.2 1111.7,1571.2 1112.6,1571.2 1113.6,1571.2 1114.6,1571.2 1115.6,1571.2 1116.6,1571.2 1117.6,1571.2 1118.6,1571.2 1119.6,1571.2 1120.5,1571.2 1121.5,1571.2 1122.5,1571.2 1123.5,1571.2 1124.5,1571.2 1125.5,1571.2 1126.5,1571.2 1127.5,1571.2 1128.4,1571.2 1129.4,1571.2 1130.4,1571.2 1131.4,1571.2 1132.4,1571.2 1133.4,1571.2 1134.4,1571.2 1135.4,1571.1 1136.3,1571.1 1137.3,1571.1 1138.3,1571.0 1139.3,1570.9 1140.3,1570.8 1141.3,1570.7 1142.3,1570.4 1143.3,1570.1 1144.2,1569.6 1145.2,1569.0 1146.2,1568.3 1146.8,1568.0 1147.2,1567.8 1147.6,1567.6 1147.9,1567.6 1148.2,1567.5 1148.3,1567.5 1148.7,1567.6 1149.0,1567.6 1149.2,1567.7 1149.8,1568.0 1150.2,1568.2 1151.2,1568.8 1152.1,1569.4 1153.1,1569.9 1154.1,1570.3 1155.1,1570.5 1156.1,1570.7 1157.1,1570.8 1158.1,1570.9 1159.1,1570.9 1160.0,1570.9 1161.0,1570.9 1162.0,1571.0 1163.0,1571.0 1164.0,1571.0 1165.0,1571.0 1166.0,1571.0 1167.0,1570.9 1167.9,1570.9 1168.9,1570.9 1169.9,1570.9 1170.9,1570.9 1171.9,1570.9 1172.9,1570.9 1173.9,1570.8 1174.9,1570.8 1175.8,1570.8 1176.8,1570.8 1177.8,1570.8 1178.8,1570.7 1179.8,1570.7 1180.8,1570.6 1181.8,1570.6 1182.8,1570.6 1183.7,1570.5 1184.7,1570.4 1185.7,1570.4 1186.7,1570.3 1187.7,1570.2 1188.7,1570.1 1189.7,1570.0 1190.7,1569.8 1191.6,1569.7 1192.6,1569.5 1193.6,1569.2 1194.6,1568.9 1195.6,1568.5 1196.6,1567.8 1197.6,1566.9 1198.6,1565.4 1199.5,1563.1 1200.5,1559.6 1201.5,1554.8 1202.5,1548.6 1203.5,1541.4 1204.5,1534.3 1204.7,1532.7 1205.5,1529.0 1205.8,1528.0 1206.2,1527.7 1206.5,1527.8 1206.6,1528.0 1207.0,1529.0 1207.4,1531.2 1207.7,1532.7 1208.4,1537.7 1209.4,1545.0 1210.4,1551.8 1211.4,1557.3 1212.4,1561.4 1213.4,1564.3 1214.4,1566.1 1215.3,1567.3 1216.3,1568.0 1217.3,1568.5 1218.3,1568.9 1219.3,1569.2 1220.3,1569.4 1221.3,1569.5 1222.3,1569.7 1223.2,1569.8 1224.2,1569.9 1225.2,1570.0 1226.2,1570.0 1227.2,1570.1 1228.2,1570.1 1229.2,1570.1 1230.2,1570.2 1231.1,1570.2 1232.1,1570.2 1233.1,1570.2 1234.1,1570.2 1235.1,1570.2 1236.1,1570.2 1237.1,1570.2 1238.1,1570.2 1239.0,1570.2 1240.0,1570.2 1241.0,1570.1 1242.0,1570.1 1243.0,1570.0 1244.0,1570.0 1245.0,1569.9 1246.0,1569.8 1246.9,1569.7 1247.9,1569.6 1248.9,1569.4 1249.9,1569.2 1250.9,1568.8 1251.9,1568.3 1252.9,1567.5 1253.9,1566.2 1254.8,1564.4 1255.8,1561.8 1256.8,1558.4 1257.8,1554.6 1258.8,1550.7 1259.1,1549.5 1259.8,1547.7 1259.9,1547.5 1260.3,1547.0 1260.6,1546.8 1260.8,1546.8 1261.0,1546.9 1261.4,1547.5 1261.8,1548.4 1262.1,1549.4 1262.7,1551.7 1263.7,1555.7 1264.7,1559.5 1265.7,1562.6 1266.7,1564.9 1267.7,1566.5 1268.7,1567.6 1269.7,1568.3 1270.6,1568.8 1271.6,1569.1 1272.6,1569.3 1273.6,1569.4 1274.6,1569.5 1275.6,1569.6 1276.6,1569.7 1277.6,1569.7 1278.5,1569.7 1279.5,1569.8 1280.5,1569.8 1281.5,1569.8 1282.5,1569.8 1283.5,1569.8 1284.5,1569.8 1285.5,1569.7 1286.4,1569.7 1287.4,1569.7 1288.4,1569.6 1289.4,1569.6 1290.4,1569.5 1291.4,1569.4 1292.4,1569.4 1293.4,1569.3 1294.3,1569.1 1295.3,1569.0 1296.3,1568.8 1297.3,1568.6 1298.3,1568.4 1299.3,1568.1 1300.3,1567.8 1301.3,1567.3 1302.2,1566.7 1303.2,1565.8 1304.2,1564.5 1305.2,1562.5 1306.2,1559.4 1307.2,1554.7 1308.2,1548.2 1309.2,1539.7 1310.1,1529.7 1311.1,1519.1 1311.7,1513.5 1312.1,1510.4 1312.5,1508.4 1312.8,1507.0 1313.1,1506.5 1313.2,1506.5 1313.6,1507.0 1313.9,1508.4 1314.1,1509.2 1314.7,1513.5 1315.1,1517.2 1316.1,1527.5 1317.1,1537.8 1318.0,1546.7 1319.0,1553.6 1320.0,1558.6 1321.0,1561.9 1322.0,1564.2 1323.0,1565.6 1324.0,1566.5 1325.0,1567.2 1325.9,1567.6 1326.9,1568.0 1327.9,1568.3 1328.9,1568.5 1329.9,1568.7 1330.9,1568.9 1331.9,1569.0 1332.9,1569.2 1333.8,1569.3 1334.8,1569.4 1335.8,1569.4 1336.8,1569.5 1337.8,1569.6 1338.8,1569.6 1339.8,1569.7 1340.8,1569.7 1341.7,1569.8 1342.7,1569.8 1343.7,1569.8 1344.7,1569.9 1345.7,1569.9 1346.7,1569.9 1347.7,1569.9 1348.7,1569.9 1349.6,1569.9 1350.6,1570.0 1351.6,1570.0 1352.6,1570.0 1353.6,1570.0 1354.6,1570.0 1355.6,1570.0 1356.6,1570.0 1357.5,1570.0 1358.5,1570.0 1359.5,1570.0 1360.5,1570.0 1361.5,1570.0 1362.5,1570.0 1363.5,1570.0 1364.5,1570.0 1365.4,1570.0 1366.4,1570.0 1367.4,1570.0 1368.4,1570.0 1369.4,1570.0 1370.4,1570.0 1371.4,1570.0 1372.4,1570.0 1373.3,1570.0 1374.3,1570.0 1375.3,1570.0 1376.3,1570.0 1377.3,1570.0 1378.3,1570.0 1379.3,1570.0 1380.3,1570.0 1381.2,1570.0 1382.2,1570.0 1383.2,1570.0 1384.2,1570.0 1385.2,1570.0 1386.2,1570.0 1387.2,1570.0 1388.2,1570.0 1389.1,1570.0 1390.1,1570.0 1391.1,1570.0 1392.1,1570.0 1393.1,1570.0 1394.1,1570.0 1395.1,1570.0 1396.1,1570.0 1397.0,1569.9 1398.0,1569.9 1399.0,1569.9 1400.0,1569.8 1401.0,1569.8 1402.0,1569.7 1403.0,1569.5 1404.0,1569.3 1404.9,1569.0 1405.9,1568.5 1406.9,1567.8 1407.9,1566.9 1408.9,1565.9 1409.9,1564.7 1410.8,1563.7 1410.9,1563.6 1411.6,1563.1 1411.9,1563.0 1411.9,1562.9 1412.3,1562.9 1412.7,1562.9 1412.8,1563.0 1413.0,1563.1 1413.8,1563.7 1413.8,1563.7 1414.8,1564.8 1415.8,1566.0 1416.8,1567.0 1417.8,1567.9 1418.8,1568.6 1419.8,1569.0 1420.7,1569.3 1421.7,1569.5 1422.7,1569.6 1423.7,1569.7 1424.7,1569.8 1425.7,1569.8 1426.7,1569.9 1427.7,1569.9 1428.6,1569.9 1429.6,1569.9 1430.6,1569.9 1431.6,1569.9 1432.6,1569.9 1433.6,1569.9 1434.6,1569.8 1435.6,1569.8 1436.5,1569.8 1437.5,1569.8 1438.5,1569.7 1439.5,1569.7 1440.5,1569.6 1441.5,1569.5 1442.5,1569.4 1443.5,1569.3 1444.4,1569.2 1445.4,1569.1 1446.4,1568.9 1447.4,1568.7 1448.4,1568.4 1449.4,1568.0 1450.4,1567.5 1451.4,1566.7 1452.3,1565.5 1453.3,1563.6 1454.3,1560.8 1455.3,1557.0 1456.3,1552.1 1457.3,1546.2 1458.3,1539.9 1459.1,1535.2 1459.3,1534.5 1459.8,1532.2 1460.2,1531.4 1460.2,1531.4 1460.6,1531.2 1461.0,1531.4 1461.2,1532.0 1461.3,1532.2 1462.1,1535.2 1462.2,1535.9 1463.2,1541.8 1464.2,1548.1 1465.2,1553.7 1466.2,1558.3 1467.2,1561.8 1468.1,1564.2 1469.1,1565.9 1470.1,1567.0 1471.1,1567.7 1472.1,1568.2 1473.1,1568.5 1474.1,1568.8 1475.1,1569.0 1476.0,1569.1 1477.0,1569.2 1478.0,1569.3 1479.0,1569.4 1480.0,1569.5 1481.0,1569.6 1482.0,1569.6 1483.0,1569.6 1483.9,1569.6 1484.9,1569.7 1485.9,1569.7 1486.9,1569.6 1487.9,1569.6 1488.9,1569.6 1489.9,1569.5 1490.9,1569.5 1491.8,1569.4 1492.8,1569.2 1493.8,1569.1 1494.8,1568.8 1495.8,1568.5 1496.8,1568.0 1497.8,1567.2 1498.8,1566.1 1499.7,1564.3 1500.7,1561.9 1501.7,1558.8 1502.7,1555.0 1503.7,1550.8 1504.7,1547.0 1504.7,1546.9 1505.5,1545.0 1505.7,1544.6 1505.8,1544.4 1506.2,1544.3 1506.6,1544.4 1506.7,1544.5 1507.0,1545.0 1507.6,1546.7 1507.7,1546.9 1508.6,1550.5 1509.6,1554.6 1510.6,1558.5 1511.6,1561.7 1512.6,1564.2 1513.6,1566.0 1514.6,1567.3 1515.5,1568.1 1516.5,1568.6 1517.5,1569.0 1518.5,1569.2 1519.5,1569.4 1520.5,1569.6 1521.5,1569.7 1522.5,1569.8 1523.4,1569.8 1524.4,1569.9 1525.4,1570.0 1526.4,1570.0 1527.4,1570.0 1528.4,1570.0 1529.4,1570.0 1530.4,1570.1 1531.3,1570.0 1532.3,1570.0 1533.3,1570.0 1534.3,1570.0 1535.3,1569.9 1536.3,1569.9 1537.3,1569.8 1538.3,1569.6 1539.2,1569.5 1540.2,1569.2 1541.2,1568.9 1542.2,1568.3 1543.2,1567.5 1544.2,1566.3 1545.2,1564.6 1546.2,1562.3 1547.1,1559.6 1548.1,1556.6 1549.1,1553.7 1549.3,1553.2 1550.1,1551.8 1550.1,1551.8 1550.4,1551.5 1550.8,1551.3 1551.1,1551.4 1551.2,1551.5 1551.5,1551.8 1552.1,1552.8 1552.3,1553.3 1553.1,1555.4 1554.1,1558.4 1555.0,1561.3 1556.0,1563.8 1557.0,1565.7 1558.0,1567.1 1559.0,1568.1 1560.0,1568.8 1561.0,1569.2 1562.0,1569.5 1562.9,1569.7 1563.9,1569.9 1564.9,1570.0 1565.9,1570.0 1566.9,1570.1 1567.9,1570.2 1568.9,1570.2 1569.9,1570.2 1570.8,1570.2 1571.8,1570.3 1572.8,1570.3 1573.8,1570.3 1574.8,1570.2 1575.8,1570.2 1576.8,1570.2 1577.8,1570.1 1578.7,1570.1 1579.7,1570.0 1580.7,1569.9 1581.7,1569.8 1582.7,1569.6 1583.7,1569.4 1584.7,1569.1 1585.7,1568.6 1586.6,1567.9 1587.6,1566.8 1588.6,1565.2 1589.6,1562.9 1590.6,1560.0 1591.6,1556.3 1592.6,1552.3 1593.6,1548.5 1593.9,1547.3 1594.5,1545.6 1594.6,1545.4 1595.0,1544.9 1595.4,1544.8 1595.5,1544.8 1595.8,1544.9 1596.1,1545.4 1596.5,1546.3 1596.9,1547.3 1597.5,1549.6 1598.5,1553.6 1599.5,1557.6 1600.5,1561.0 1601.5,1563.8 1602.4,1565.8 1603.4,1567.3 1604.4,1568.3 1605.4,1568.9 1606.4,1569.4 1607.4,1569.7 1608.4,1569.9 1609.4,1570.1 1610.3,1570.2 1611.3,1570.3 1612.3,1570.4 1613.3,1570.5 1614.3,1570.5 1615.3,1570.6 1616.3,1570.7 1617.3,1570.7 1618.2,1570.7 1619.2,1570.8 1620.2,1570.8 1621.2,1570.8 1622.2,1570.9 1623.2,1570.9 1624.2,1570.9 1625.2,1570.9 1626.1,1570.9 1627.1,1570.9 1628.1,1570.9 1629.1,1570.9 1630.1,1570.8 1631.1,1570.8 1632.1,1570.7 1633.1,1570.6 1634.0,1570.4 1635.0,1570.1 1636.0,1569.7 1637.0,1569.4 1638.0,1569.0 1638.5,1568.8 1639.0,1568.7 1639.3,1568.6 1639.6,1568.6 1640.0,1568.6 1640.0,1568.6 1640.4,1568.6 1640.8,1568.6 1641.0,1568.7 1641.5,1568.8 1641.9,1569.0 1642.9,1569.4 1643.9,1569.8 1644.9,1570.1 1645.9,1570.4 1646.9,1570.6 1647.9,1570.8 1648.9,1570.9 1649.8,1571.0 1650.8,1571.0 1651.8,1571.0 1652.8,1571.1 1653.8,1571.1 1654.8,1571.1 1655.8,1571.1 1656.8,1571.1 1657.7,1571.1 1658.7,1571.1 1659.7,1571.1 1660.7,1571.0 1661.7,1571.0 1662.7,1571.0 1663.7,1571.0 1664.7,1570.9 1665.6,1570.9 1666.6,1570.8 1667.6,1570.7 1668.6,1570.5 1669.6,1570.3 1670.6,1570.0 1671.6,1569.5 1672.6,1568.7 1673.5,1567.8 1674.5,1566.5 1675.5,1565.1 1676.5,1563.5 1677.5,1562.1 1677.5,1562.0 1678.3,1561.3 1678.5,1561.2 1678.7,1561.2 1679.0,1561.1 1679.4,1561.2 1679.5,1561.2 1679.8,1561.3 1680.5,1562.0 1680.5,1562.0 1681.4,1563.4 1682.4,1564.9 1683.4,1566.4 1684.4,1567.7 1685.4,1568.7 1686.4,1569.4 1687.4,1569.9 1688.4,1570.3 1689.3,1570.5 1690.3,1570.6 1691.3,1570.7 1692.3,1570.8 1693.3,1570.9 1694.3,1570.9 1695.3,1570.9 1696.3,1570.9 1697.2,1570.9 1698.2,1570.9 1699.2,1570.9 1700.2,1570.9 1701.2,1570.8 1702.2,1570.8 1703.2,1570.7 1704.2,1570.7 1705.1,1570.6 1706.1,1570.5 1707.1,1570.3 1708.1,1570.1 1709.1,1569.8 1710.1,1569.3 1711.1,1568.7 1712.1,1567.7 1713.0,1566.2 1714.0,1564.3 1715.0,1561.6 1716.0,1558.5 1717.0,1554.9 1718.0,1551.4 1718.5,1549.7 1719.0,1548.7 1719.3,1548.1 1719.6,1547.7 1720.0,1547.6 1720.0,1547.6 1720.4,1547.7 1720.7,1548.1 1720.9,1548.5 1721.5,1549.8 1721.9,1551.1 1722.9,1554.6 1723.9,1558.2 1724.9,1561.4 1725.9,1564.1 1726.9,1566.2 1727.9,1567.6 1728.8,1568.7 1729.8,1569.4 1730.8,1569.9 1731.8,1570.2 1732.8,1570.4 1733.8,1570.6 1734.8,1570.7 1735.8,1570.8 1736.7,1570.9 1737.7,1571.0 1738.7,1571.1 1739.7,1571.1 1740.7,1571.2 1741.7,1571.2 1742.7,1571.2 1743.7,1571.3 1744.6,1571.3 1745.6,1571.3 1746.6,1571.3 1747.6,1571.2 1748.6,1571.2 1749.6,1571.1 1750.6,1571.0 1751.6,1570.9 1752.5,1570.6 1753.5,1570.3 1754.5,1569.8 1755.5,1569.3 1756.5,1568.6 1757.5,1568.1 1757.9,1567.8 1758.5,1567.6 1758.7,1567.6 1759.0,1567.5 1759.4,1567.5 1759.5,1567.5 1759.8,1567.5 1760.1,1567.6 1760.4,1567.7 1760.9,1567.8 1761.4,1568.1 1762.4,1568.7 1763.4,1569.4 1764.4,1569.9 1765.4,1570.4 1766.4,1570.7 1767.4,1571.0 1768.3,1571.2 1769.3,1571.3 1770.3,1571.4 1771.3,1571.4 1772.3,1571.5 1773.3,1571.5 1774.3,1571.5 1775.3,1571.5 1776.2,1571.5 1777.2,1571.5 1778.2,1571.5 1779.2,1571.4 1780.2,1571.4 1781.2,1571.4 1782.2,1571.3 1783.2,1571.3 1784.1,1571.2 1785.1,1571.1 1786.1,1571.0 1787.1,1570.8 1788.1,1570.5 1789.1,1570.2 1790.1,1569.6 1791.1,1568.7 1792.0,1567.6 1793.0,1566.0 1794.0,1564.0 1795.0,1561.7 1796.0,1559.3 1797.0,1557.2 1797.0,1557.1 1797.8,1556.1 1798.0,1555.9 1798.1,1555.8 1798.5,1555.7 1798.9,1555.8 1799.0,1555.8 1799.2,1556.1 1799.9,1557.1 1800.0,1557.1 1800.9,1559.1 1801.9,1561.5 1802.9,1563.8 1803.9,1565.8 1804.9,1567.5 1805.9,1568.7 1806.9,1569.6 1807.8,1570.2 1808.8,1570.6 1809.8,1570.8 1810.8,1571.0 1811.8,1571.2 1812.8,1571.3 1813.8,1571.3 1814.8,1571.4 1815.7,1571.5 1816.7,1571.5 1817.7,1571.5 1818.7,1571.5 1819.7,1571.5 1820.7,1571.5 1821.7,1571.5 1822.7,1571.5 1823.6,1571.4 1824.6,1571.4 1825.6,1571.3 1826.6,1571.1 1827.6,1570.9 1828.6,1570.5 1829.6,1570.0 1830.6,1569.3 1831.5,1568.3 1832.5,1567.0 1833.5,1565.6 1834.5,1564.1 1835.5,1562.8 1835.5,1562.8 1836.3,1562.1 1836.5,1562.0 1836.6,1561.9 1837.0,1561.9 1837.4,1561.9 1837.5,1562.0 1837.8,1562.1 1838.5,1562.7 1838.5,1562.8 1839.4,1564.0 1840.4,1565.5 1841.4,1567.0 1842.4,1568.3 1843.4,1569.3 1844.4,1570.1 1845.4,1570.7 1846.4,1571.1 1847.3,1571.3 1848.3,1571.5 1849.3,1571.7 1850.3,1571.7 1851.3,1571.8 1852.3,1571.9 1853.3,1571.9 1854.3,1572.0 1855.2,1572.0 1856.2,1572.1 1857.2,1572.1 1858.2,1572.1 1859.2,1572.1 1860.2,1572.2 1861.2,1572.2 1862.2,1572.2 1863.1,1572.2 1864.1,1572.2 1865.1,1572.2 1866.1,1572.2 1867.1,1572.3 1868.1,1572.3 1869.1,1572.3 1870.1,1572.3 1871.0,1572.3 1872.0,1572.3 1873.0,1572.3 1874.0,1572.3 1875.0,1572.3 1876.0,1572.3 1877.0,1572.3 1878.0,1572.3 1878.9,1572.3 1879.9,1572.3 1880.9,1572.3 1881.9,1572.4 1882.9,1572.4 1883.9,1572.4 1884.9,1572.4 1885.9,1572.4 1886.8,1572.4 1887.8,1572.4 1888.8,1572.3 1889.8,1572.3 1890.8,1572.3 1891.8,1572.3 1892.8,1572.3 1893.8,1572.3 1894.7,1572.3 1895.7,1572.3 1896.7,1572.2 1897.7,1572.2 1898.7,1572.2 1899.7,1572.1 1900.7,1572.1 1901.7,1572.0 1902.6,1571.9 1903.6,1571.7 1904.6,1571.5 1905.6,1571.2 1906.6,1570.7 1907.6,1570.0 1908.6,1569.2 1909.6,1568.2 1910.5,1567.0 1911.5,1565.9 1912.3,1565.1 1912.5,1564.9 1913.1,1564.6 1913.4,1564.5 1913.5,1564.4 1913.8,1564.4 1914.2,1564.5 1914.5,1564.6 1914.5,1564.6 1915.3,1565.1 1915.5,1565.3 1916.5,1566.3 1917.5,1567.5 1918.4,1568.6 1919.4,1569.5 1920.4,1570.3 1921.4,1570.9 1922.4,1571.3 1923.4,1571.6 1924.4,1571.8 1925.4,1571.9 1926.3,1572.0 1927.3,1572.1 1928.3,1572.1 1929.3,1572.1 1930.3,1572.2 1931.3,1572.2 1932.3,1572.2 1933.3,1572.2 1934.2,1572.2 1935.2,1572.2 1936.2,1572.2 1937.2,1572.1 1938.2,1572.1 1939.2,1572.0 1940.2,1571.9 1941.2,1571.7 1942.1,1571.4 1943.1,1571.1 1944.1,1570.6 1945.1,1570.1 1946.1,1569.5 1947.1,1568.9 1947.7,1568.6 1948.1,1568.5 1948.5,1568.4 1948.8,1568.3 1949.1,1568.3 1949.2,1568.3 1949.6,1568.3 1949.9,1568.4 1950.0,1568.4 1950.7,1568.6 1951.0,1568.8 1952.0,1569.4 1953.0,1570.0 1954.0,1570.5 1955.0,1571.0 1956.0,1571.4 1957.0,1571.7 1957.9,1571.9 1958.9,1572.1 1959.9,1572.2 1960.9,1572.2 1961.9,1572.3 1962.9,1572.3 1963.9,1572.4 1964.9,1572.4 1965.8,1572.4 1966.8,1572.4 1967.8,1572.4 1968.8,1572.4"/>
<path d="M356.8 1567.5V1609M507.7 1567.5V1609M623.1 1567.5V1609M720.0 1567.5V1609M806.8 1567.5V1609M887.0 1567.5V1609M958.5 1567.5V1609M1026.2 1567.5V1609M1087.0 1567.5V1609M1148.3 1567.5V1609M1206.2 1567.5V1609M1260.6 1567.5V1609M1312.3 1567.5V1609M1411.7 1567.5V1609M1460.0 1567.5V1609M1505.5 1567.5V1609M1550.5 1567.5V1609M1595.0 1567.5V1609M1637.5 1567.5V1609M1679.4 1567.5V1609M1720.6 1567.5V1609M1759.4 1567.5V1609M1797.8 1567.5V1609M1837.0 1567.5V1609M1875.4 1567.5V1609M1913.8 1567.5V1609M1949.2 1567.5V1609" stroke="#ff00ff" stroke-width="3.8" fill="none"/>
<polyline fill="none" stroke="#535353" stroke-width="11" stroke-linejoin="round" points="240.7,1638.7 241.7,1638.7 242.7,1639.0 243.7,1638.8 244.6,1638.7 245.6,1638.8 246.6,1638.7 247.6,1638.8 248.6,1638.9 249.6,1638.9 250.6,1638.6 251.6,1638.3 252.5,1638.5 253.5,1638.8 254.5,1638.1 255.5,1638.6 256.5,1638.8 257.5,1638.6 258.5,1638.4 259.5,1639.2 260.4,1639.1 261.4,1638.7 262.4,1639.0 263.4,1639.0 264.4,1638.4 265.4,1639.4 266.4,1638.5 267.4,1638.6 268.3,1638.4 269.3,1638.7 270.3,1638.4 271.3,1638.7 272.3,1639.0 273.3,1638.8 274.3,1638.6 275.3,1639.1 276.2,1638.5 277.2,1639.0 278.2,1638.6 279.2,1638.8 280.2,1638.7 281.2,1638.7 282.2,1638.7 283.2,1638.5 284.1,1638.6 285.1,1638.8 286.1,1638.7 287.1,1638.4 288.1,1638.5 289.1,1638.5 290.1,1638.7 291.1,1638.8 292.0,1638.7 293.0,1638.5 294.0,1638.7 295.0,1638.4 296.0,1638.0 297.0,1638.7 298.0,1638.3 299.0,1638.5 299.9,1638.4 300.9,1638.9 301.9,1638.4 302.9,1638.8 303.9,1638.6 304.9,1638.4 305.9,1638.3 306.9,1638.8 307.8,1638.8 308.8,1638.9 309.8,1639.2 310.8,1638.8 311.8,1638.8 312.8,1638.7 313.8,1638.7 314.8,1638.6 315.7,1638.5 316.7,1639.2 317.7,1638.2 318.7,1638.8 319.7,1638.8 320.7,1638.7 321.7,1638.5 322.7,1638.7 323.6,1638.6 324.6,1638.4 325.6,1638.7 326.6,1638.6 327.6,1638.6 328.6,1638.9 329.6,1638.4 330.6,1638.8 331.5,1638.5 332.5,1638.8 333.5,1638.7 334.5,1638.8 335.5,1638.5 336.5,1638.5 337.5,1638.5 338.5,1638.7 339.4,1638.9 340.4,1639.0 341.4,1638.6 342.4,1638.7 343.4,1638.3 344.4,1638.2 345.4,1638.5 346.4,1638.6 347.3,1638.1 348.3,1638.7 349.3,1637.5 350.3,1641.1 351.3,1632.5 352.3,1645.0 353.3,1625.5 354.3,1651.8 355.2,1619.9 356.2,1658.7 357.2,1600.7 358.2,1672.7 359.2,1613.4 360.2,1653.1 361.2,1625.3 362.2,1644.7 363.1,1634.1 364.1,1641.0 365.1,1637.4 366.1,1639.3 367.1,1638.7 368.1,1638.9 369.1,1639.2 370.1,1638.6 371.0,1638.7 372.0,1638.9 373.0,1638.6 374.0,1638.6 375.0,1638.6 376.0,1638.5 377.0,1638.4 378.0,1638.6 378.9,1638.3 379.9,1638.8 380.9,1638.3 381.9,1639.2 382.9,1639.1 383.9,1639.0 384.9,1638.6 385.9,1638.5 386.8,1639.0 387.8,1638.7 388.8,1638.8 389.8,1638.5 390.8,1639.0 391.8,1638.5 392.8,1638.7 393.8,1638.3 394.7,1638.5 395.7,1638.8 396.7,1638.6 397.7,1638.6 398.7,1638.9 399.7,1638.7 400.7,1639.0 401.7,1638.1 402.6,1638.8 403.6,1638.8 404.6,1638.3 405.6,1638.4 406.6,1638.9 407.6,1638.4 408.6,1638.5 409.6,1638.8 410.5,1638.6 411.5,1638.8 412.5,1638.5 413.5,1638.8 414.5,1639.0 415.5,1638.8 416.5,1638.1 417.5,1638.8 418.4,1638.7 419.4,1638.5 420.4,1639.0 421.4,1638.3 422.4,1639.2 423.4,1638.5 424.4,1639.1 425.4,1638.7 426.3,1638.4 427.3,1638.7 428.3,1638.8 429.3,1638.8 430.3,1639.0 431.3,1638.5 432.3,1638.8 433.3,1638.9 434.2,1638.6 435.2,1638.5 436.2,1638.4 437.2,1638.9 438.2,1638.9 439.2,1638.5 440.2,1638.4 441.2,1639.0 442.1,1638.3 443.1,1638.7 444.1,1638.5 445.1,1638.2 446.1,1638.7 447.1,1638.6 448.1,1639.0 449.1,1639.3 450.0,1638.6 451.0,1638.9 452.0,1638.9 453.0,1638.6 454.0,1638.5 455.0,1639.1 456.0,1638.6 457.0,1638.7 457.9,1638.6 458.9,1638.7 459.9,1638.5 460.9,1638.9 461.9,1639.0 462.9,1638.6 463.9,1638.3 464.9,1638.7 465.8,1638.3 466.8,1638.5 467.8,1639.0 468.8,1639.3 469.8,1638.8 470.8,1638.4 471.8,1638.9 472.8,1638.1 473.7,1638.5 474.7,1639.1 475.7,1638.9 476.7,1638.3 477.7,1638.3 478.7,1638.9 479.7,1638.7 480.7,1638.5 481.6,1638.8 482.6,1638.5 483.6,1638.2 484.6,1638.9 485.6,1638.5 486.6,1638.4 487.6,1638.4 488.6,1638.7 489.5,1638.5 490.5,1638.8 491.5,1638.6 492.5,1639.0 493.5,1638.6 494.5,1638.5 495.5,1638.2 496.5,1638.4 497.4,1638.9 498.4,1639.4 499.4,1638.4 500.4,1638.4 501.4,1638.8 502.4,1638.8 503.4,1638.3 504.4,1639.6 505.3,1635.1 506.3,1646.9 507.3,1630.0 508.3,1622.7 509.3,1652.7 510.3,1642.4 511.3,1637.6 512.3,1639.2 513.2,1638.8 514.2,1638.5 515.2,1638.8 516.2,1638.9 517.2,1638.5 518.2,1638.4 519.2,1638.8 520.2,1638.8 521.1,1638.9 522.1,1638.7 523.1,1638.5 524.1,1638.6 525.1,1638.4 526.1,1638.5 527.1,1638.5 528.1,1638.6 529.0,1639.0 530.0,1638.4 531.0,1638.7 532.0,1638.5 533.0,1639.1 534.0,1638.8 535.0,1638.6 536.0,1638.9 536.9,1638.7 537.9,1638.6 538.9,1639.1 539.9,1638.9 540.9,1639.1 541.9,1639.0 542.9,1638.9 543.9,1638.7 544.8,1638.4 545.8,1638.9 546.8,1638.7 547.8,1638.9 548.8,1638.7 549.8,1638.5 550.8,1638.4 551.8,1638.9 552.7,1639.0 553.7,1638.6 554.7,1638.8 555.7,1639.0 556.7,1638.5 557.7,1638.6 558.7,1638.4 559.7,1639.0 560.6,1638.8 561.6,1638.6 562.6,1638.3 563.6,1638.6 564.6,1638.9 565.6,1638.6 566.6,1638.6 567.6,1638.8 568.5,1638.4 569.5,1638.7 570.5,1638.8 571.5,1638.5 572.5,1638.5 573.5,1638.8 574.5,1638.7 575.5,1638.6 576.4,1638.7 577.4,1638.7 578.4,1638.5 579.4,1638.5 580.4,1638.8 581.4,1639.0 582.4,1639.0 583.4,1638.5 584.3,1639.0 585.3,1638.9 586.3,1638.7 587.3,1638.8 588.3,1638.9 589.3,1639.1 590.3,1638.4 591.3,1638.8 592.2,1638.7 593.2,1638.6 594.2,1639.0 595.2,1638.9 596.2,1638.4 597.2,1638.6 598.2,1638.7 599.2,1638.3 600.1,1638.9 601.1,1638.7 602.1,1638.7 603.1,1638.8 604.1,1639.1 605.1,1638.7 606.1,1638.6 607.1,1639.1 608.0,1638.6 609.0,1638.6 610.0,1638.3 611.0,1639.0 612.0,1638.8 613.0,1638.8 614.0,1638.7 615.0,1638.7 615.9,1638.5 616.9,1638.5 617.9,1638.8 618.9,1638.9 619.9,1637.6 620.9,1640.6 621.9,1630.9 622.9,1648.3 623.8,1620.7 624.8,1650.7 625.8,1634.0 626.8,1639.6 627.8,1638.3 628.8,1638.9 629.8,1638.2 630.8,1638.6 631.7,1638.3 632.7,1638.7 633.7,1638.7 634.7,1638.5 635.7,1638.9 636.7,1638.8 637.7,1638.6 638.7,1638.6 639.6,1638.3 640.6,1638.6 641.6,1639.2 642.6,1638.5 643.6,1638.8 644.6,1638.6 645.6,1638.9 646.6,1638.8 647.5,1638.6 648.5,1638.3 649.5,1638.6 650.5,1639.0 651.5,1638.6 652.5,1638.8 653.5,1638.6 654.5,1638.2 655.4,1638.8 656.4,1638.8 657.4,1638.6 658.4,1638.6 659.4,1638.8 660.4,1638.5 661.4,1638.8 662.4,1638.6 663.3,1638.1 664.3,1638.7 665.3,1638.5 666.3,1638.5 667.3,1638.8 668.3,1638.6 669.3,1638.8 670.3,1639.0 671.2,1638.7 672.2,1638.3 673.2,1638.5 674.2,1638.9 675.2,1638.6 676.2,1638.5 677.2,1638.7 678.2,1638.8 679.1,1638.8 680.1,1638.9 681.1,1638.5 682.1,1638.6 683.1,1638.6 684.1,1638.7 685.1,1638.2 686.1,1638.6 687.0,1638.4 688.0,1639.0 689.0,1639.1 690.0,1639.1 691.0,1638.9 692.0,1638.6 693.0,1638.9 694.0,1638.6 694.9,1638.8 695.9,1638.5 696.9,1638.6 697.9,1638.8 698.9,1639.1 699.9,1638.7 700.9,1639.3 701.9,1639.4 702.8,1638.4 703.8,1638.7 704.8,1638.5 705.8,1638.7 706.8,1638.6 707.8,1638.7 708.8,1638.9 709.8,1638.9 710.7,1638.8 711.7,1638.7 712.7,1638.7 713.7,1638.7 714.7,1638.8 715.7,1638.8 716.7,1638.5 717.7,1639.3 718.6,1637.3 719.6,1635.7 720.6,1641.7 721.6,1639.5 722.6,1638.7 723.6,1638.7 724.6,1637.9 725.6,1638.6 726.5,1638.8 727.5,1638.8 728.5,1639.0 729.5,1638.9 730.5,1638.7 731.5,1638.2 732.5,1638.4 733.5,1638.7 734.4,1638.9 735.4,1638.4 736.4,1638.5 737.4,1638.8 738.4,1638.2 739.4,1638.2 740.4,1638.6 741.4,1638.8 742.3,1638.6 743.3,1638.1 744.3,1638.7 745.3,1638.4 746.3,1638.9 747.3,1638.7 748.3,1638.8 749.3,1638.9 750.2,1638.6 751.2,1638.9 752.2,1639.0 753.2,1638.8 754.2,1639.0 755.2,1638.5 756.2,1638.9 757.2,1638.8 758.1,1638.5 759.1,1638.7 760.1,1638.6 761.1,1638.6 762.1,1638.7 763.1,1639.0 764.1,1638.6 765.1,1638.7 766.0,1638.3 767.0,1638.7 768.0,1639.0 769.0,1638.9 770.0,1638.8 771.0,1638.6 772.0,1638.5 773.0,1638.7 773.9,1638.4 774.9,1638.4 775.9,1638.9 776.9,1638.5 777.9,1639.1 778.9,1638.3 779.9,1638.8 780.9,1638.4 781.8,1638.7 782.8,1638.4 783.8,1638.7 784.8,1638.7 785.8,1638.6 786.8,1638.8 787.8,1639.1 788.8,1638.6 789.7,1638.9 790.7,1638.7 791.7,1638.7 792.7,1639.2 793.7,1638.2 794.7,1638.5 795.7,1638.2 796.7,1638.6 797.6,1638.6 798.6,1639.6 799.6,1638.8 800.6,1639.1 801.6,1639.0 802.6,1638.6 803.6,1638.5 804.6,1639.8 805.5,1636.3 806.5,1641.5 807.5,1634.7 808.5,1642.7 809.5,1637.5 810.5,1639.1 811.5,1638.8 812.5,1638.5 813.4,1638.6 814.4,1638.7 815.4,1638.7 816.4,1638.9 817.4,1638.7 818.4,1638.7 819.4,1638.3 820.4,1638.4 821.3,1638.8 822.3,1638.3 823.3,1638.8 824.3,1638.5 825.3,1638.5 826.3,1638.9 827.3,1638.5 828.3,1638.5 829.2,1638.5 830.2,1638.7 831.2,1639.4 832.2,1638.2 833.2,1638.7 834.2,1638.6 835.2,1638.9 836.2,1638.6 837.1,1638.1 838.1,1639.0 839.1,1638.4 840.1,1638.7 841.1,1638.4 842.1,1638.4 843.1,1638.6 844.1,1638.9 845.0,1638.9 846.0,1638.5 847.0,1638.8 848.0,1638.6 849.0,1638.7 850.0,1638.7 851.0,1638.8 852.0,1638.5 852.9,1638.7 853.9,1638.7 854.9,1638.7 855.9,1638.5 856.9,1639.1 857.9,1638.6 858.9,1638.9 859.9,1638.7 860.8,1639.0 861.8,1638.2 862.8,1639.2 863.8,1638.6 864.8,1638.4 865.8,1638.7 866.8,1639.3 867.8,1638.8 868.7,1638.4 869.7,1638.6 870.7,1639.0 871.7,1638.3 872.7,1638.6 873.7,1638.6 874.7,1639.2 875.7,1638.6 876.6,1639.0 877.6,1638.5 878.6,1638.4 879.6,1639.1 880.6,1638.2 881.6,1639.4 882.6,1636.6 883.6,1644.1 884.5,1631.1 885.5,1646.6 886.5,1629.7 887.5,1647.7 888.5,1634.7 889.5,1641.6 890.5,1637.3 891.5,1638.9 892.4,1638.5 893.4,1638.4 894.4,1638.7 895.4,1638.7 896.4,1638.4 897.4,1638.9 898.4,1639.2 899.4,1639.0 900.3,1638.4 901.3,1639.0 902.3,1638.7 903.3,1638.7 904.3,1638.5 905.3,1638.7 906.3,1639.0 907.3,1638.8 908.2,1638.6 909.2,1638.5 910.2,1638.6 911.2,1638.8 912.2,1639.2 913.2,1638.4 914.2,1638.7 915.2,1638.6 916.1,1638.5 917.1,1638.8 918.1,1638.8 919.1,1638.3 920.1,1638.4 921.1,1639.0 922.1,1638.8 923.1,1638.8 924.0,1638.6 925.0,1638.6 926.0,1638.8 927.0,1638.6 928.0,1638.4 929.0,1638.7 930.0,1638.9 931.0,1638.4 931.9,1639.0 932.9,1638.9 933.9,1638.5 934.9,1638.7 935.9,1638.7 936.9,1638.8 937.9,1638.9 938.9,1638.4 939.8,1638.4 940.8,1638.9 941.8,1638.7 942.8,1638.8 943.8,1638.8 944.8,1639.1 945.8,1638.4 946.8,1639.0 947.7,1638.5 948.7,1638.9 949.7,1639.0 950.7,1638.3 951.7,1638.8 952.7,1638.6 953.7,1638.6 954.7,1638.7 955.6,1638.4 956.6,1638.5 957.6,1638.9 958.6,1638.9 959.6,1638.6 960.6,1638.3 961.6,1639.3 962.6,1639.0 963.5,1638.8 964.5,1638.4 965.5,1638.5 966.5,1638.8 967.5,1638.5 968.5,1639.1 969.5,1638.7 970.5,1638.8 971.4,1638.4 972.4,1638.5 973.4,1638.5 974.4,1638.8 975.4,1638.6 976.4,1638.6 977.4,1638.8 978.4,1638.7 979.3,1639.1 980.3,1638.6 981.3,1638.4 982.3,1638.7 983.3,1639.1 984.3,1638.6 985.3,1638.7 986.3,1638.6 987.2,1638.8 988.2,1638.8 989.2,1638.5 990.2,1638.6 991.2,1638.9 992.2,1639.0 993.2,1638.9 994.2,1638.9 995.1,1638.6 996.1,1638.6 997.1,1638.9 998.1,1638.4 999.1,1638.7 1000.1,1638.2 1001.1,1638.6 1002.1,1638.5 1003.0,1638.4 1004.0,1638.8 1005.0,1638.5 1006.0,1638.6 1007.0,1638.6 1008.0,1638.5 1009.0,1639.0 1010.0,1638.6 1010.9,1638.7 1011.9,1638.4 1012.9,1638.6 1013.9,1638.6 1014.9,1638.6 1015.9,1638.5 1016.9,1638.7 1017.9,1639.1 1018.8,1638.7 1019.8,1638.7 1020.8,1638.6 1021.8,1639.3 1022.8,1639.1 1023.8,1638.8 1024.8,1638.9 1025.8,1638.5 1026.7,1638.7 1027.7,1638.7 1028.7,1638.7 1029.7,1638.5 1030.7,1638.5 1031.7,1638.8 1032.7,1638.8 1033.7,1638.2 1034.6,1638.7 1035.6,1639.0 1036.6,1638.5 1037.6,1638.8 1038.6,1638.3 1039.6,1638.9 1040.6,1638.4 1041.6,1638.4 1042.5,1638.6 1043.5,1639.3 1044.5,1638.5 1045.5,1638.4 1046.5,1638.8 1047.5,1638.7 1048.5,1639.1 1049.5,1638.4 1050.4,1638.3 1051.4,1638.6 1052.4,1638.8 1053.4,1638.8 1054.4,1639.0 1055.4,1638.3 1056.4,1638.5 1057.4,1638.7 1058.3,1638.9 1059.3,1638.8 1060.3,1638.6 1061.3,1638.4 1062.3,1638.9 1063.3,1638.9 1064.3,1639.4 1065.3,1638.6 1066.2,1639.1 1067.2,1638.4 1068.2,1638.6 1069.2,1638.5 1070.2,1638.6 1071.2,1638.5 1072.2,1638.6 1073.2,1638.7 1074.1,1638.6 1075.1,1638.9 1076.1,1638.7 1077.1,1638.7 1078.1,1639.1 1079.1,1638.8 1080.1,1638.7 1081.1,1638.7 1082.0,1638.7 1083.0,1638.8 1084.0,1638.5 1085.0,1639.0 1086.0,1639.1 1087.0,1639.0 1088.0,1638.6 1089.0,1638.3 1089.9,1638.6 1090.9,1638.7 1091.9,1638.9 1092.9,1638.6 1093.9,1638.6 1094.9,1639.1 1095.9,1638.5 1096.9,1639.0 1097.8,1638.9 1098.8,1638.4 1099.8,1638.8 1100.8,1638.6 1101.8,1638.5 1102.8,1638.2 1103.8,1638.3 1104.7,1638.8 1105.7,1638.6 1106.7,1638.8 1107.7,1638.4 1108.7,1638.6 1109.7,1638.6 1110.7,1638.3 1111.7,1638.3 1112.6,1638.8 1113.6,1638.7 1114.6,1638.5 1115.6,1638.7 1116.6,1638.9 1117.6,1639.1 1118.6,1638.5 1119.6,1638.8 1120.5,1639.2 1121.5,1638.7 1122.5,1639.1 1123.5,1638.1 1124.5,1639.0 1125.5,1638.7 1126.5,1638.2 1127.5,1638.9 1128.4,1638.9 1129.4,1639.0 1130.4,1639.0 1131.4,1638.7 1132.4,1638.5 1133.4,1638.6 1134.4,1638.7 1135.4,1638.8 1136.3,1638.6 1137.3,1638.7 1138.3,1638.9 1139.3,1638.8 1140.3,1639.3 1141.3,1639.2 1142.3,1638.4 1143.3,1638.6 1144.2,1638.4 1145.2,1638.4 1146.2,1638.8 1147.2,1638.4 1148.2,1638.4 1149.2,1638.6 1150.2,1638.9 1151.2,1638.6 1152.1,1638.6 1153.1,1638.9 1154.1,1638.8 1155.1,1638.8 1156.1,1638.9 1157.1,1638.4 1158.1,1638.7 1159.1,1638.5 1160.0,1638.9 1161.0,1638.9 1162.0,1638.4 1163.0,1639.0 1164.0,1638.4 1165.0,1639.0 1166.0,1638.7 1167.0,1638.5 1167.9,1638.4 1168.9,1638.6 1169.9,1638.7 1170.9,1638.5 1171.9,1638.8 1172.9,1638.3 1173.9,1638.7 1174.9,1638.7 1175.8,1638.2 1176.8,1638.8 1177.8,1638.4 1178.8,1638.1 1179.8,1638.5 1180.8,1638.6 1181.8,1638.9 1182.8,1638.6 1183.7,1639.1 1184.7,1639.0 1185.7,1639.0 1186.7,1639.0 1187.7,1638.8 1188.7,1638.6 1189.7,1638.9 1190.7,1638.9 1191.6,1638.8 1192.6,1638.6 1193.6,1638.3 1194.6,1638.9 1195.6,1638.8 1196.6,1638.4 1197.6,1638.7 1198.6,1638.9 1199.5,1638.7 1200.5,1638.9 1201.5,1638.9 1202.5,1638.1 1203.5,1639.1 1204.5,1637.4 1205.5,1640.7 1206.5,1635.7 1207.4,1641.7 1208.4,1637.9 1209.4,1639.1 1210.4,1638.9 1211.4,1639.1 1212.4,1638.5 1213.4,1638.6 1214.4,1638.4 1215.3,1638.9 1216.3,1638.4 1217.3,1639.0 1218.3,1638.9 1219.3,1638.8 1220.3,1638.2 1221.3,1638.5 1222.3,1638.9 1223.2,1638.3 1224.2,1638.6 1225.2,1638.7 1226.2,1638.9 1227.2,1638.8 1228.2,1638.8 1229.2,1638.6 1230.2,1638.7 1231.1,1638.7 1232.1,1638.9 1233.1,1638.6 1234.1,1638.9 1235.1,1638.3 1236.1,1639.0 1237.1,1638.7 1238.1,1639.0 1239.0,1638.7 1240.0,1638.9 1241.0,1639.1 1242.0,1638.6 1243.0,1638.7 1244.0,1638.7 1245.0,1638.7 1246.0,1638.3 1246.9,1638.6 1247.9,1638.6 1248.9,1638.5 1249.9,1638.6 1250.9,1638.3 1251.9,1639.0 1252.9,1638.8 1253.9,1639.2 1254.8,1638.5 1255.8,1638.4 1256.8,1638.8 1257.8,1638.3 1258.8,1638.7 1259.8,1638.5 1260.8,1638.6 1261.8,1638.8 1262.7,1638.7 1263.7,1639.2 1264.7,1638.8 1265.7,1638.4 1266.7,1638.9 1267.7,1638.4 1268.7,1638.7 1269.7,1638.4 1270.6,1638.5 1271.6,1639.0 1272.6,1638.6 1273.6,1638.5 1274.6,1638.6 1275.6,1638.6 1276.6,1639.0 1277.6,1638.4 1278.5,1638.4 1279.5,1638.8 1280.5,1638.3 1281.5,1638.6 1282.5,1639.0 1283.5,1638.7 1284.5,1638.6 1285.5,1638.5 1286.4,1638.5 1287.4,1638.5 1288.4,1638.7 1289.4,1639.0 1290.4,1638.9 1291.4,1638.5 1292.4,1638.5 1293.4,1638.9 1294.3,1638.2 1295.3,1638.6 1296.3,1638.6 1297.3,1638.4 1298.3,1638.4 1299.3,1638.8 1300.3,1638.3 1301.3,1638.5 1302.2,1638.5 1303.2,1638.7 1304.2,1638.3 1305.2,1639.0 1306.2,1638.6 1307.2,1638.6 1308.2,1638.7 1309.2,1638.0 1310.1,1640.6 1311.1,1636.6 1312.1,1633.7 1313.1,1643.7 1314.1,1640.7 1315.1,1637.8 1316.1,1639.0 1317.1,1638.7 1318.0,1638.5 1319.0,1638.9 1320.0,1638.3 1321.0,1638.8 1322.0,1638.5 1323.0,1638.8 1324.0,1639.0 1325.0,1638.8 1325.9,1638.5 1326.9,1638.7 1327.9,1638.6 1328.9,1638.4 1329.9,1638.4 1330.9,1638.7 1331.9,1638.8 1332.9,1638.2 1333.8,1638.7 1334.8,1638.8 1335.8,1638.7 1336.8,1638.4 1337.8,1638.9 1338.8,1638.4 1339.8,1638.8 1340.8,1639.1 1341.7,1638.2 1342.7,1638.7 1343.7,1638.8 1344.7,1638.7 1345.7,1638.5 1346.7,1638.6 1347.7,1638.3 1348.7,1638.7 1349.6,1638.8 1350.6,1638.5 1351.6,1638.5 1352.6,1638.6 1353.6,1638.7 1354.6,1638.7 1355.6,1638.7 1356.6,1638.7 1357.5,1638.4 1358.5,1638.0 1359.5,1638.8 1360.5,1639.0 1361.5,1638.3 1362.5,1638.5 1363.5,1638.8 1364.5,1638.9 1365.4,1638.8 1366.4,1639.0 1367.4,1638.7 1368.4,1638.8 1369.4,1638.8 1370.4,1638.6 1371.4,1639.0 1372.4,1638.8 1373.3,1638.9 1374.3,1638.6 1375.3,1638.9 1376.3,1638.4 1377.3,1638.8 1378.3,1638.0 1379.3,1638.4 1380.3,1638.9 1381.2,1638.6 1382.2,1638.7 1383.2,1638.3 1384.2,1639.1 1385.2,1638.8 1386.2,1638.7 1387.2,1638.8 1388.2,1638.8 1389.1,1639.0 1390.1,1638.7 1391.1,1638.3 1392.1,1638.6 1393.1,1639.0 1394.1,1638.8 1395.1,1638.6 1396.1,1638.8 1397.0,1638.7 1398.0,1638.8 1399.0,1638.3 1400.0,1638.5 1401.0,1638.8 1402.0,1638.6 1403.0,1638.8 1404.0,1639.2 1404.9,1638.6 1405.9,1638.7 1406.9,1638.5 1407.9,1638.5 1408.9,1638.7 1409.9,1638.3 1410.9,1638.2 1411.9,1639.0 1412.8,1638.6 1413.8,1638.9 1414.8,1638.7 1415.8,1638.7 1416.8,1638.8 1417.8,1638.9 1418.8,1638.4 1419.8,1639.0 1420.7,1638.4 1421.7,1638.7 1422.7,1639.3 1423.7,1638.7 1424.7,1639.1 1425.7,1638.6 1426.7,1638.8 1427.7,1638.7 1428.6,1638.8 1429.6,1638.5 1430.6,1638.5 1431.6,1638.8 1432.6,1638.3 1433.6,1638.5 1434.6,1638.8 1435.6,1638.5 1436.5,1638.5 1437.5,1638.4 1438.5,1638.7 1439.5,1638.6 1440.5,1638.7 1441.5,1638.6 1442.5,1639.1 1443.5,1638.6 1444.4,1638.2 1445.4,1638.7 1446.4,1638.7 1447.4,1638.7 1448.4,1638.3 1449.4,1639.0 1450.4,1638.7 1451.4,1638.7 1452.3,1638.3 1453.3,1638.8 1454.3,1638.7 1455.3,1639.0 1456.3,1638.7 1457.3,1638.1 1458.3,1639.9 1459.3,1636.5 1460.2,1635.7 1461.2,1641.7 1462.2,1639.8 1463.2,1638.1 1464.2,1638.8 1465.2,1638.5 1466.2,1638.5 1467.2,1638.7 1468.1,1638.5 1469.1,1638.7 1470.1,1638.6 1471.1,1638.1 1472.1,1638.7 1473.1,1639.0 1474.1,1638.7 1475.1,1638.8 1476.0,1638.8 1477.0,1638.6 1478.0,1638.4 1479.0,1638.9 1480.0,1638.9 1481.0,1638.8 1482.0,1638.8 1483.0,1638.8 1483.9,1638.7 1484.9,1638.7 1485.9,1638.7 1486.9,1638.8 1487.9,1638.4 1488.9,1638.5 1489.9,1638.8 1490.9,1638.6 1491.8,1638.1 1492.8,1638.7 1493.8,1638.1 1494.8,1639.1 1495.8,1638.8 1496.8,1638.8 1497.8,1638.5 1498.8,1638.4 1499.7,1638.6 1500.7,1638.7 1501.7,1638.5 1502.7,1638.7 1503.7,1638.8 1504.7,1638.8 1505.7,1638.4 1506.7,1638.2 1507.6,1638.7 1508.6,1638.5 1509.6,1638.8 1510.6,1639.1 1511.6,1639.1 1512.6,1638.7 1513.6,1638.9 1514.6,1639.1 1515.5,1638.7 1516.5,1638.7 1517.5,1638.9 1518.5,1638.7 1519.5,1638.6 1520.5,1638.5 1521.5,1638.7 1522.5,1638.5 1523.4,1638.9 1524.4,1638.6 1525.4,1639.0 1526.4,1639.0 1527.4,1638.4 1528.4,1638.9 1529.4,1638.6 1530.4,1639.0 1531.3,1638.8 1532.3,1638.7 1533.3,1638.8 1534.3,1638.5 1535.3,1638.8 1536.3,1638.8 1537.3,1638.6 1538.3,1638.8 1539.2,1638.4 1540.2,1638.8 1541.2,1638.4 1542.2,1638.8 1543.2,1638.8 1544.2,1638.9 1545.2,1638.5 1546.2,1639.4 1547.1,1638.6 1548.1,1638.7 1549.1,1638.5 1550.1,1639.0 1551.1,1638.6 1552.1,1638.9 1553.1,1638.5 1554.1,1638.8 1555.0,1638.6 1556.0,1638.9 1557.0,1638.6 1558.0,1638.5 1559.0,1638.8 1560.0,1638.4 1561.0,1638.5 1562.0,1638.9 1562.9,1638.2 1563.9,1638.9 1564.9,1638.6 1565.9,1638.5 1566.9,1638.7 1567.9,1638.8 1568.9,1638.5 1569.9,1638.6 1570.8,1638.9 1571.8,1638.9 1572.8,1638.7 1573.8,1638.5 1574.8,1638.5 1575.8,1638.5 1576.8,1638.8 1577.8,1638.8 1578.7,1638.8 1579.7,1639.0 1580.7,1638.6 1581.7,1638.6 1582.7,1638.6 1583.7,1639.1 1584.7,1638.2 1585.7,1638.8 1586.6,1638.8 1587.6,1638.7 1588.6,1639.2 1589.6,1639.0 1590.6,1638.9 1591.6,1638.5 1592.6,1638.8 1593.6,1638.6 1594.5,1638.7 1595.5,1638.7 1596.5,1638.6 1597.5,1638.8 1598.5,1639.1 1599.5,1638.9 1600.5,1638.7 1601.5,1638.2 1602.4,1639.0 1603.4,1638.9 1604.4,1638.6 1605.4,1638.6 1606.4,1638.9 1607.4,1638.5 1608.4,1638.9 1609.4,1638.4 1610.3,1638.5 1611.3,1638.7 1612.3,1638.4 1613.3,1638.7 1614.3,1638.8 1615.3,1638.4 1616.3,1638.9 1617.3,1638.6 1618.2,1638.8 1619.2,1638.7 1620.2,1638.6 1621.2,1638.6 1622.2,1638.3 1623.2,1638.5 1624.2,1638.5 1625.2,1639.1 1626.1,1638.9 1627.1,1638.4 1628.1,1638.9 1629.1,1638.8 1630.1,1638.6 1631.1,1638.8 1632.1,1638.9 1633.1,1638.6 1634.0,1638.6 1635.0,1638.7 1636.0,1638.5 1637.0,1638.7 1638.0,1638.7 1639.0,1638.5 1640.0,1638.5 1641.0,1638.8 1641.9,1638.9 1642.9,1638.8 1643.9,1638.5 1644.9,1638.9 1645.9,1638.7 1646.9,1638.8 1647.9,1639.0 1648.9,1638.5 1649.8,1638.7 1650.8,1638.6 1651.8,1638.5 1652.8,1639.2 1653.8,1638.9 1654.8,1638.3 1655.8,1638.8 1656.8,1638.6 1657.7,1639.0 1658.7,1638.7 1659.7,1638.7 1660.7,1638.7 1661.7,1638.8 1662.7,1638.7 1663.7,1638.6 1664.7,1638.7 1665.6,1638.8 1666.6,1638.4 1667.6,1638.7 1668.6,1638.7 1669.6,1638.6 1670.6,1638.9 1671.6,1638.4 1672.6,1638.6 1673.5,1638.5 1674.5,1638.8 1675.5,1638.6 1676.5,1638.7 1677.5,1638.8 1678.5,1638.3 1679.5,1638.8 1680.5,1638.5 1681.4,1638.6 1682.4,1638.7 1683.4,1638.9 1684.4,1638.9 1685.4,1639.1 1686.4,1638.7 1687.4,1638.6 1688.4,1638.6 1689.3,1638.9 1690.3,1639.1 1691.3,1638.8 1692.3,1638.6 1693.3,1638.8 1694.3,1638.8 1695.3,1638.7 1696.3,1638.5 1697.2,1638.1 1698.2,1638.6 1699.2,1638.9 1700.2,1638.7 1701.2,1638.2 1702.2,1638.7 1703.2,1638.3 1704.2,1639.2 1705.1,1638.7 1706.1,1638.4 1707.1,1638.9 1708.1,1638.5 1709.1,1638.8 1710.1,1638.7 1711.1,1638.4 1712.1,1638.9 1713.0,1638.4 1714.0,1639.0 1715.0,1638.7 1716.0,1638.5 1717.0,1638.3 1718.0,1639.1 1719.0,1639.0 1720.0,1638.4 1720.9,1639.1 1721.9,1638.7 1722.9,1638.6 1723.9,1638.7 1724.9,1638.6 1725.9,1639.0 1726.9,1638.7 1727.9,1638.3 1728.8,1639.2 1729.8,1638.9 1730.8,1638.4 1731.8,1638.6 1732.8,1638.5 1733.8,1638.7 1734.8,1638.8 1735.8,1638.8 1736.7,1638.6 1737.7,1638.5 1738.7,1638.9 1739.7,1638.7 1740.7,1639.2 1741.7,1638.5 1742.7,1638.9 1743.7,1638.7 1744.6,1638.5 1745.6,1639.0 1746.6,1638.7 1747.6,1638.5 1748.6,1638.6 1749.6,1638.9 1750.6,1638.4 1751.6,1639.0 1752.5,1638.9 1753.5,1638.6 1754.5,1639.0 1755.5,1639.1 1756.5,1638.8 1757.5,1638.7 1758.5,1639.1 1759.5,1639.0 1760.4,1638.5 1761.4,1638.7 1762.4,1638.6 1763.4,1638.6 1764.4,1638.3 1765.4,1638.9 1766.4,1638.7 1767.4,1638.7 1768.3,1639.0 1769.3,1638.6 1770.3,1638.7 1771.3,1638.8 1772.3,1638.6 1773.3,1638.7 1774.3,1638.9 1775.3,1638.7 1776.2,1639.0 1777.2,1638.5 1778.2,1638.7 1779.2,1638.4 1780.2,1638.7 1781.2,1638.5 1782.2,1639.0 1783.2,1638.9 1784.1,1638.8 1785.1,1639.1 1786.1,1639.0 1787.1,1638.9 1788.1,1638.5 1789.1,1638.4 1790.1,1638.7 1791.1,1638.6 1792.0,1638.5 1793.0,1638.6 1794.0,1638.3 1795.0,1639.1 1796.0,1638.4 1797.0,1638.5 1798.0,1638.8 1799.0,1638.3 1799.9,1638.9 1800.9,1638.9 1801.9,1638.6 1802.9,1638.4 1803.9,1638.6 1804.9,1638.3 1805.9,1639.0 1806.9,1638.7 1807.8,1638.5 1808.8,1638.5 1809.8,1638.8 1810.8,1639.1 1811.8,1638.4 1812.8,1638.6 1813.8,1638.3 1814.8,1638.9 1815.7,1638.7 1816.7,1639.2 1817.7,1638.7 1818.7,1638.6 1819.7,1638.5 1820.7,1638.9 1821.7,1638.3 1822.7,1638.9 1823.6,1638.8 1824.6,1638.6 1825.6,1638.5 1826.6,1638.9 1827.6,1639.1 1828.6,1638.6 1829.6,1638.8 1830.6,1639.1 1831.5,1638.6 1832.5,1638.6 1833.5,1638.4 1834.5,1638.7 1835.5,1638.7 1836.5,1638.6 1837.5,1638.5 1838.5,1638.3 1839.4,1638.4 1840.4,1638.5 1841.4,1638.9 1842.4,1638.6 1843.4,1638.5 1844.4,1638.9 1845.4,1638.8 1846.4,1638.5 1847.3,1638.6 1848.3,1638.9 1849.3,1638.8 1850.3,1638.5 1851.3,1638.8 1852.3,1638.7 1853.3,1639.0 1854.3,1638.5 1855.2,1638.9 1856.2,1638.8 1857.2,1638.5 1858.2,1639.0 1859.2,1638.9 1860.2,1638.4 1861.2,1639.2 1862.2,1638.4 1863.1,1638.5 1864.1,1638.6 1865.1,1638.9 1866.1,1638.8 1867.1,1638.7 1868.1,1639.0 1869.1,1638.8 1870.1,1639.0 1871.0,1639.4 1872.0,1638.7 1873.0,1638.1 1874.0,1638.6 1875.0,1638.4 1876.0,1638.7 1877.0,1638.7 1878.0,1638.4 1878.9,1638.4 1879.9,1638.6 1880.9,1638.7 1881.9,1638.1 1882.9,1638.9 1883.9,1638.7 1884.9,1638.7 1885.9,1638.8 1886.8,1638.5 1887.8,1638.7 1888.8,1639.0 1889.8,1639.0 1890.8,1638.8 1891.8,1638.6 1892.8,1638.5 1893.8,1639.0 1894.7,1638.8 1895.7,1638.6 1896.7,1638.2 1897.7,1638.5 1898.7,1638.2 1899.7,1639.0 1900.7,1638.7 1901.7,1638.5 1902.6,1638.6 1903.6,1639.3 1904.6,1639.0 1905.6,1638.4 1906.6,1638.7 1907.6,1638.4 1908.6,1638.3 1909.6,1638.7 1910.5,1639.3 1911.5,1639.1 1912.5,1638.7 1913.5,1638.6 1914.5,1638.7 1915.5,1639.0 1916.5,1638.3 1917.5,1638.2 1918.4,1639.2 1919.4,1638.8 1920.4,1639.1 1921.4,1638.8 1922.4,1639.1 1923.4,1638.5 1924.4,1638.8 1925.4,1639.1 1926.3,1639.0 1927.3,1638.6 1928.3,1638.9 1929.3,1638.5 1930.3,1638.3 1931.3,1638.8 1932.3,1639.0 1933.3,1638.9 1934.2,1638.4 1935.2,1638.9 1936.2,1638.9 1937.2,1638.6 1938.2,1638.1 1939.2,1639.0 1940.2,1638.9 1941.2,1638.8 1942.1,1638.3 1943.1,1638.3 1944.1,1639.0 1945.1,1638.9 1946.1,1638.8 1947.1,1638.6 1948.1,1638.8 1949.1,1638.6 1950.0,1638.6 1951.0,1638.5 1952.0,1638.8 1953.0,1638.6 1954.0,1638.9 1955.0,1638.9 1956.0,1638.5 1957.0,1639.2 1957.9,1638.4 1958.9,1638.8 1959.9,1639.0 1960.9,1639.0 1961.9,1638.2 1962.9,1638.9 1963.9,1639.0 1964.9,1639.1 1965.8,1638.1 1966.8,1638.5 1967.8,1638.7 1968.8,1638.6"/>
</g>
<g clip-path="url(#cpC)">
<polyline fill="none" stroke="none" marker-start="url(#mk)" marker-mid="url(#mk)" marker-end="url(#mk)" points="240.7,2300.3 241.2,2303.7 241.7,2300.3 242.2,2303.7 242.7,2300.3 243.2,2303.7 243.7,2300.3 244.2,2303.7 244.6,2300.3 245.1,2303.7 245.6,2300.3 246.1,2303.7 246.6,2300.3 247.1,2303.7 247.6,2300.3 248.1,2303.7 248.6,2300.3 249.1,2303.7 249.6,2300.3 250.1,2303.7 250.6,2300.3 251.1,2303.8 251.6,2300.4 252.1,2303.8 252.5,2300.4 253.0,2303.8 253.5,2300.4 254.0,2303.8 254.5,2300.4 255.0,2303.8 255.5,2300.4 256.0,2303.8 256.5,2300.4 257.0,2303.8 257.5,2300.4 258.0,2303.8 258.5,2300.4 259.0,2303.8 259.5,2300.4 260.0,2303.8 260.4,2300.4 260.9,2303.8 261.4,2300.4 261.9,2303.8 262.4,2300.5 262.9,2303.9 263.4,2300.5 263.9,2303.9 264.4,2300.5 264.9,2303.9 265.4,2300.5 265.9,2303.9 266.4,2300.5 266.9,2303.9 267.4,2300.5 267.9,2303.9 268.3,2300.5 268.8,2303.9 269.3,2300.5 269.8,2303.9 270.3,2300.5 270.8,2303.9 271.3,2300.5 271.8,2303.9 272.3,2300.5 272.8,2303.9 273.3,2300.5 273.8,2304.0 274.3,2300.6 274.8,2304.0 275.3,2300.6 275.8,2304.0 276.2,2300.6 276.7,2304.0 277.2,2300.6 277.7,2304.0 278.2,2300.6 278.7,2304.0 279.2,2300.6 279.7,2304.0 280.2,2300.6 280.7,2304.0 281.2,2300.6 281.7,2304.0 282.2,2300.6 282.7,2304.0 283.2,2300.6 283.7,2304.0 284.1,2300.6 284.6,2304.0 285.1,2300.6 285.6,2304.0 286.1,2300.6 286.6,2304.0 287.1,2300.7 287.6,2304.1 288.1,2300.7 288.6,2304.1 289.1,2300.7 289.6,2304.1 290.1,2300.7 290.6,2304.1 291.1,2300.7 291.6,2304.1 292.0,2300.7 292.5,2304.1 293.0,2300.7 293.5,2304.1 294.0,2300.7 294.5,2304.1 295.0,2300.7 295.5,2304.1 296.0,2300.7 296.5,2304.1 297.0,2300.7 297.5,2304.1 298.0,2300.7 298.5,2304.1 299.0,2300.7 299.5,2304.1 299.9,2300.7 300.4,2304.1 300.9,2300.7 301.4,2304.1 301.9,2300.7 302.4,2304.1 302.9,2300.7 303.4,2304.1 303.9,2300.7 304.4,2304.1 304.9,2300.7 305.4,2304.1 305.9,2300.7 306.4,2304.1 306.9,2300.7 307.4,2304.1 307.8,2300.7 308.3,2304.1 308.8,2300.7 309.3,2304.1 309.8,2300.7 310.3,2304.1 310.8,2300.7 311.3,2304.1 311.8,2300.7 312.3,2304.1 312.8,2300.7 313.3,2304.1 313.8,2300.7 314.3,2304.1 314.8,2300.7 315.3,2304.1 315.7,2300.7 316.2,2304.1 316.7,2300.7 317.2,2304.1 317.7,2300.7 318.2,2304.1 318.7,2300.7 319.2,2304.1 319.7,2300.7 320.2,2304.1 320.7,2300.7 321.2,2304.1 321.7,2300.7 322.2,2304.1 322.7,2300.7 323.2,2304.0 323.6,2300.6 324.1,2304.0 324.6,2300.6 325.1,2304.0 325.6,2300.6 326.1,2304.0 326.6,2300.6 327.1,2304.0 327.6,2300.5 328.1,2303.9 328.6,2300.5 329.1,2303.9 329.6,2300.5 330.1,2303.8 330.6,2300.4 331.1,2303.8 331.5,2300.4 332.0,2303.7 332.5,2300.3 333.0,2303.7 333.5,2300.2 334.0,2303.6 334.5,2300.1 335.0,2302.4 335.5,2301.3 336.0,2301.1 336.5,2300.6 337.0,2301.0 337.5,2300.6 338.0,2302.0 338.5,2301.7 339.0,2300.6 339.4,2300.7 339.9,2301.0 340.4,2301.0 340.9,2300.3 341.4,2301.4 341.9,2300.9 342.4,2301.5 342.9,2298.7 343.4,2299.1 343.9,2300.2 344.4,2299.6 344.9,2299.1 345.4,2298.3 345.9,2298.8 346.4,2297.8 346.9,2298.3 347.3,2297.6 347.8,2296.7 348.3,2294.1 348.8,2293.7 349.3,2292.1 349.8,2288.3 350.3,2281.7 350.8,2271.8 351.3,2255.5 351.8,2234.2 352.3,2202.7 352.8,2159.6 353.3,2106.6 353.8,2043.8 354.3,1975.6 354.8,1906.9 355.2,1846.4 355.7,1800.8 356.2,1778.2 356.7,1784.3 357.2,1816.8 357.7,1869.2 358.2,1934.9 358.7,2003.8 359.2,2070.5 359.7,2128.8 360.2,2178.3 360.7,2215.3 361.2,2243.1 361.7,2263.4 362.2,2275.9 362.7,2283.6 363.1,2289.7 363.6,2293.2 364.1,2294.8 364.6,2296.5 365.1,2297.2 365.6,2297.9 366.1,2297.6 366.6,2297.5 367.1,2298.7 367.6,2297.5 368.1,2299.3 368.6,2299.3 369.1,2300.2 369.6,2300.0 370.1,2300.6 370.6,2300.2 371.0,2300.8 371.5,2301.9 372.0,2300.6 372.5,2300.4 373.0,2302.2 373.5,2302.0 374.0,2301.6 374.5,2301.5 375.0,2302.0 375.5,2301.7 376.0,2302.5 376.5,2301.9 377.0,2301.8 377.5,2302.5 378.0,2301.8 378.5,2302.6 378.9,2301.7 379.4,2302.1 379.9,2302.5 380.4,2302.1 380.9,2303.1 381.4,2302.5 381.9,2302.7 382.4,2301.5 382.9,2303.0 383.4,2302.7 383.9,2301.6 384.4,2302.9 384.9,2303.0 385.4,2302.4 385.9,2302.2 386.4,2302.1 386.8,2302.9 387.3,2302.9 387.8,2302.8 388.3,2304.1 388.8,2303.0 389.3,2303.1 389.8,2302.1 390.3,2303.2 390.8,2303.6 391.3,2302.6 391.8,2304.2 392.3,2302.8 392.8,2303.2 393.3,2302.9 393.8,2302.9 394.3,2301.6 394.7,2303.6 395.2,2302.0 395.7,2303.9 396.2,2302.6 396.7,2302.9 397.2,2304.6 397.7,2302.7 398.2,2303.1 398.7,2302.6 399.2,2303.2 399.7,2303.5 400.2,2304.2 400.7,2301.8 401.2,2303.3 401.7,2303.6 402.2,2303.8 402.6,2302.9 403.1,2303.4 403.6,2304.4 404.1,2303.6 404.6,2304.5 405.1,2302.7 405.6,2303.0 406.1,2303.4 406.6,2302.8 407.1,2303.8 407.6,2302.8 408.1,2303.6 408.6,2302.6 409.1,2303.0 409.6,2303.6 410.1,2303.8 410.5,2302.9 411.0,2302.6 411.5,2303.8 412.0,2302.9 412.5,2303.7 413.0,2304.2 413.5,2303.9 414.0,2302.7 414.5,2304.2 415.0,2304.1 415.5,2303.2 416.0,2303.3 416.5,2304.3 417.0,2303.7 417.5,2303.8 418.0,2304.2 418.4,2303.9 418.9,2305.1 419.4,2304.4 419.9,2303.7 420.4,2303.7 420.9,2303.4 421.4,2304.3 421.9,2303.0 422.4,2304.1 422.9,2303.3 423.4,2302.6 423.9,2304.2 424.4,2303.9 424.9,2303.8 425.4,2303.5 425.9,2303.7 426.3,2303.3 426.8,2304.4 427.3,2304.4 427.8,2303.7 428.3,2303.7 428.8,2303.9 429.3,2304.2 429.8,2303.8 430.3,2303.5 430.8,2303.6 431.3,2303.9 431.8,2303.7 432.3,2303.5 432.8,2304.4 433.3,2304.0 433.8,2304.3 434.2,2303.3 434.7,2304.2 435.2,2303.8 435.7,2303.6 436.2,2303.4 436.7,2303.4 437.2,2303.5 437.7,2303.9 438.2,2303.8 438.7,2304.9 439.2,2304.1 439.7,2304.0 440.2,2303.8 440.7,2303.4 441.2,2303.4 441.7,2304.0 442.1,2303.0 442.6,2304.7 443.1,2304.7 443.6,2303.0 444.1,2304.5 444.6,2304.5 445.1,2304.5 445.6,2304.2 446.1,2304.8 446.6,2303.4 447.1,2303.6 447.6,2304.2 448.1,2303.9 448.6,2303.1 449.1,2304.4 449.6,2304.5 450.0,2303.8 450.5,2304.1 451.0,2304.4 451.5,2302.8 452.0,2303.6 452.5,2303.4 453.0,2303.9 453.5,2303.3 454.0,2303.2 454.5,2304.1 455.0,2305.0 455.5,2303.3 456.0,2304.8 456.5,2304.5 457.0,2304.5 457.5,2304.7 457.9,2303.7 458.4,2304.6 458.9,2303.1 459.4,2303.5 459.9,2304.2 460.4,2304.4 460.9,2303.2 461.4,2302.9 461.9,2304.2 462.4,2304.2 462.9,2304.4 463.4,2304.0 463.9,2303.3 464.4,2304.6 464.9,2304.4 465.4,2304.1 465.8,2305.2 466.3,2304.2 466.8,2304.9 467.3,2304.0 467.8,2302.4 468.3,2303.4 468.8,2302.5 469.3,2303.9 469.8,2304.7 470.3,2303.1 470.8,2304.4 471.3,2303.9 471.8,2304.6 472.3,2304.3 472.8,2303.5 473.3,2304.4 473.7,2304.0 474.2,2304.6 474.7,2305.1 475.2,2304.0 475.7,2305.0 476.2,2304.0 476.7,2304.4 477.2,2304.2 477.7,2303.7 478.2,2304.1 478.7,2303.8 479.2,2304.4 479.7,2303.5 480.2,2303.5 480.7,2304.5 481.2,2304.4 481.6,2304.4 482.1,2304.4 482.6,2304.6 483.1,2304.3 483.6,2304.6 484.1,2303.6 484.6,2304.3 485.1,2303.6 485.6,2303.3 486.1,2303.9 486.6,2304.4 487.1,2304.0 487.6,2305.0 488.1,2304.4 488.6,2304.2 489.1,2304.0 489.5,2303.2 490.0,2304.0 490.5,2303.9 491.0,2304.9 491.5,2303.4 492.0,2303.8 492.5,2303.4 493.0,2303.9 493.5,2302.8 494.0,2303.9 494.5,2303.7 495.0,2303.7 495.5,2305.0 496.0,2303.5 496.5,2303.7 497.0,2303.3 497.4,2303.8 497.9,2304.3 498.4,2303.8 498.9,2302.8 499.4,2301.5 499.9,2301.9 500.4,2299.8 500.9,2298.7 501.4,2296.7 501.9,2293.2 502.4,2289.4 502.9,2283.2 503.4,2275.3 503.9,2266.7 504.4,2255.5 504.9,2245.2 505.3,2233.6 505.8,2222.8 506.3,2215.3 506.8,2210.2 507.3,2209.8 507.8,2214.4 508.3,2220.3 508.8,2231.3 509.3,2243.3 509.8,2252.5 510.3,2265.9 510.8,2273.0 511.3,2280.8 511.8,2287.2 512.3,2292.5 512.8,2296.2 513.2,2297.9 513.7,2300.4 514.2,2302.0 514.7,2301.8 515.2,2302.8 515.7,2303.3 516.2,2304.2 516.7,2303.3 517.2,2303.9 517.7,2303.9 518.2,2303.7 518.7,2303.5 519.2,2304.0 519.7,2304.2 520.2,2303.2 520.7,2303.7 521.1,2304.2 521.6,2304.2 522.1,2304.2 522.6,2305.0 523.1,2304.7 523.6,2303.5 524.1,2305.1 524.6,2303.8 525.1,2303.8 525.6,2304.9 526.1,2304.1 526.6,2303.3 527.1,2304.7 527.6,2304.6 528.1,2304.6 528.6,2303.6 529.0,2304.8 529.5,2304.0 530.0,2304.9 530.5,2303.7 531.0,2303.9 531.5,2303.3 532.0,2304.0 532.5,2305.0 533.0,2304.6 533.5,2304.1 534.0,2305.2 534.5,2304.6 535.0,2304.9 535.5,2304.7 536.0,2304.5 536.5,2304.6 536.9,2304.8 537.4,2305.2 537.9,2304.9 538.4,2305.0 538.9,2303.9 539.4,2303.5 539.9,2304.7 540.4,2304.7 540.9,2304.8 541.4,2304.0 541.9,2304.7 542.4,2304.0 542.9,2304.7 543.4,2304.6 543.9,2304.5 544.4,2304.8 544.8,2304.3 545.3,2304.6 545.8,2305.0 546.3,2305.5 546.8,2304.9 547.3,2305.1 547.8,2305.0 548.3,2305.6 548.8,2305.8 549.3,2304.3 549.8,2305.1 550.3,2304.8 550.8,2305.6 551.3,2303.3 551.8,2304.3 552.3,2303.7 552.7,2305.5 553.2,2304.9 553.7,2305.1 554.2,2304.9 554.7,2304.9 555.2,2305.0 555.7,2304.5 556.2,2303.6 556.7,2304.9 557.2,2304.7 557.7,2304.4 558.2,2304.4 558.7,2305.5 559.2,2304.3 559.7,2304.2 560.2,2305.1 560.6,2305.6 561.1,2304.0 561.6,2304.2 562.1,2304.2 562.6,2305.0 563.1,2305.1 563.6,2305.6 564.1,2304.8 564.6,2304.6 565.1,2304.5 565.6,2305.4 566.1,2304.5 566.6,2304.3 567.1,2304.7 567.6,2304.8 568.1,2305.0 568.5,2304.5 569.0,2305.8 569.5,2305.9 570.0,2304.2 570.5,2304.9 571.0,2304.3 571.5,2304.7 572.0,2304.1 572.5,2304.7 573.0,2305.0 573.5,2304.9 574.0,2304.1 574.5,2303.7 575.0,2303.8 575.5,2305.5 576.0,2304.7 576.4,2304.9 576.9,2305.7 577.4,2304.3 577.9,2305.1 578.4,2304.5 578.9,2304.9 579.4,2303.8 579.9,2304.6 580.4,2304.8 580.9,2304.9 581.4,2304.0 581.9,2304.7 582.4,2305.3 582.9,2304.8 583.4,2305.3 583.9,2305.2 584.3,2305.0 584.8,2304.6 585.3,2304.9 585.8,2304.3 586.3,2305.2 586.8,2305.0 587.3,2305.5 587.8,2306.1 588.3,2305.3 588.8,2305.1 589.3,2304.9 589.8,2305.3 590.3,2305.6 590.8,2304.6 591.3,2304.1 591.8,2304.0 592.2,2305.3 592.7,2305.0 593.2,2305.1 593.7,2303.8 594.2,2304.4 594.7,2303.9 595.2,2304.1 595.7,2304.4 596.2,2304.3 596.7,2305.6 597.2,2304.0 597.7,2304.3 598.2,2304.2 598.7,2304.7 599.2,2305.0 599.7,2304.2 600.1,2303.6 600.6,2304.3 601.1,2304.8 601.6,2303.9 602.1,2305.0 602.6,2303.9 603.1,2304.1 603.6,2304.1 604.1,2305.4 604.6,2304.7 605.1,2304.5 605.6,2303.6 606.1,2303.5 606.6,2303.7 607.1,2304.9 607.6,2304.7 608.0,2303.9 608.5,2303.4 609.0,2302.7 609.5,2303.3 610.0,2303.7 610.5,2303.6 611.0,2303.4 611.5,2302.6 612.0,2303.1 612.5,2302.4 613.0,2302.7 613.5,2301.9 614.0,2301.7 614.5,2300.6 615.0,2298.9 615.5,2298.0 615.9,2294.0 616.4,2290.8 616.9,2284.2 617.4,2275.8 617.9,2264.7 618.4,2249.5 618.9,2230.7 619.4,2208.8 619.9,2183.8 620.4,2158.0 620.9,2131.8 621.4,2107.4 621.9,2087.1 622.4,2075.6 622.9,2072.3 623.4,2076.7 623.8,2090.9 624.3,2112.5 624.8,2136.7 625.3,2164.0 625.8,2189.5 626.3,2213.2 626.8,2235.3 627.3,2253.1 627.8,2267.4 628.3,2277.5 628.8,2285.6 629.3,2292.6 629.8,2295.0 630.3,2298.8 630.8,2299.0 631.3,2300.9 631.7,2301.7 632.2,2302.5 632.7,2302.4 633.2,2302.4 633.7,2303.1 634.2,2302.4 634.7,2302.0 635.2,2302.7 635.7,2304.6 636.2,2304.3 636.7,2305.0 637.2,2304.3 637.7,2303.3 638.2,2303.7 638.7,2304.5 639.2,2303.9 639.6,2303.9 640.1,2303.9 640.6,2304.1 641.1,2303.5 641.6,2304.9 642.1,2304.3 642.6,2305.5 643.1,2305.7 643.6,2304.8 644.1,2305.4 644.6,2305.5 645.1,2305.0 645.6,2304.9 646.1,2305.7 646.6,2305.4 647.1,2304.9 647.5,2304.8 648.0,2305.1 648.5,2305.6 649.0,2305.5 649.5,2304.8 650.0,2305.1 650.5,2305.3 651.0,2305.0 651.5,2305.2 652.0,2304.7 652.5,2304.8 653.0,2305.4 653.5,2305.4 654.0,2305.1 654.5,2306.5 655.0,2305.2 655.4,2305.7 655.9,2305.5 656.4,2305.1 656.9,2305.8 657.4,2306.0 657.9,2305.4 658.4,2305.7 658.9,2307.0 659.4,2304.9 659.9,2305.3 660.4,2305.8 660.9,2305.5 661.4,2305.0 661.9,2305.2 662.4,2305.4 662.9,2305.3 663.3,2305.5 663.8,2306.4 664.3,2305.6 664.8,2305.3 665.3,2305.9 665.8,2305.9 666.3,2305.0 666.8,2305.2 667.3,2305.0 667.8,2305.8 668.3,2306.1 668.8,2305.5 669.3,2306.3 669.8,2305.3 670.3,2305.4 670.8,2305.6 671.2,2305.7 671.7,2306.5 672.2,2305.0 672.7,2306.0 673.2,2305.7 673.7,2306.3 674.2,2304.9 674.7,2305.0 675.2,2306.6 675.7,2306.4 676.2,2306.3 676.7,2305.6 677.2,2306.3 677.7,2305.7 678.2,2305.1 678.6,2305.6 679.1,2305.6 679.6,2305.2 680.1,2305.4 680.6,2305.3 681.1,2306.0 681.6,2306.3 682.1,2306.4 682.6,2306.4 683.1,2305.2 683.6,2306.1 684.1,2306.2 684.6,2306.0 685.1,2305.3 685.6,2304.2 686.1,2305.9 686.5,2305.3 687.0,2306.3 687.5,2305.0 688.0,2306.1 688.5,2305.6 689.0,2305.1 689.5,2305.6 690.0,2305.7 690.5,2306.3 691.0,2306.3 691.5,2306.5 692.0,2306.2 692.5,2305.6 693.0,2305.6 693.5,2305.9 694.0,2305.6 694.4,2304.9 694.9,2304.7 695.4,2306.3 695.9,2305.9 696.4,2306.9 696.9,2305.6 697.4,2306.4 697.9,2305.9 698.4,2306.1 698.9,2305.9 699.4,2306.4 699.9,2306.1 700.4,2305.6 700.9,2305.8 701.4,2305.7 701.9,2305.9 702.3,2306.0 702.8,2305.6 703.3,2305.5 703.8,2305.8 704.3,2304.8 704.8,2306.0 705.3,2306.0 705.8,2304.1 706.3,2305.2 706.8,2305.8 707.3,2304.5 707.8,2306.0 708.3,2306.3 708.8,2306.0 709.3,2306.2 709.8,2305.6 710.2,2306.1 710.7,2305.9 711.2,2305.4 711.7,2305.4 712.2,2304.3 712.7,2304.3 713.2,2305.2 713.7,2304.8 714.2,2303.1 714.7,2301.7 715.2,2300.1 715.7,2300.1 716.2,2297.4 716.7,2295.6 717.2,2292.1 717.7,2289.0 718.1,2284.7 718.6,2280.3 719.1,2277.1 719.6,2275.2 720.1,2272.1 720.6,2272.6 721.1,2272.6 721.6,2275.3 722.1,2277.0 722.6,2280.2 723.1,2284.8 723.6,2286.2 724.1,2292.0 724.6,2294.8 725.1,2297.0 725.6,2299.9 726.0,2301.0 726.5,2303.0 727.0,2303.7 727.5,2304.7 728.0,2304.3 728.5,2304.8 729.0,2306.4 729.5,2305.7 730.0,2305.5 730.5,2305.2 731.0,2305.5 731.5,2306.0 732.0,2305.2 732.5,2305.9 733.0,2305.8 733.5,2304.9 733.9,2306.0 734.4,2306.7 734.9,2305.8 735.4,2305.9 735.9,2306.2 736.4,2305.7 736.9,2305.1 737.4,2306.1 737.9,2305.8 738.4,2305.7 738.9,2306.9 739.4,2306.2 739.9,2305.7 740.4,2305.8 740.9,2307.0 741.4,2306.6 741.8,2305.2 742.3,2306.5 742.8,2305.9 743.3,2305.8 743.8,2306.8 744.3,2306.6 744.8,2305.7 745.3,2306.2 745.8,2306.5 746.3,2306.1 746.8,2306.4 747.3,2305.8 747.8,2306.9 748.3,2307.0 748.8,2305.9 749.3,2305.4 749.7,2306.0 750.2,2306.7 750.7,2306.3 751.2,2306.2 751.7,2306.3 752.2,2305.4 752.7,2306.2 753.2,2306.2 753.7,2305.9 754.2,2306.7 754.7,2305.9 755.2,2305.9 755.7,2306.6 756.2,2306.6 756.7,2306.3 757.2,2306.4 757.6,2306.5 758.1,2306.4 758.6,2305.7 759.1,2306.7 759.6,2307.4 760.1,2306.5 760.6,2306.1 761.1,2306.9 761.6,2306.6 762.1,2305.9 762.6,2306.2 763.1,2306.0 763.6,2306.8 764.1,2305.6 764.6,2307.0 765.1,2305.9 765.5,2306.4 766.0,2306.0 766.5,2306.5 767.0,2306.9 767.5,2306.6 768.0,2305.6 768.5,2306.1 769.0,2306.4 769.5,2307.3 770.0,2306.0 770.5,2306.1 771.0,2305.9 771.5,2306.3 772.0,2306.7 772.5,2305.7 773.0,2307.1 773.4,2307.0 773.9,2306.7 774.4,2306.6 774.9,2307.6 775.4,2305.7 775.9,2306.0 776.4,2307.5 776.9,2305.6 777.4,2306.5 777.9,2306.2 778.4,2305.8 778.9,2305.8 779.4,2306.2 779.9,2306.4 780.4,2306.5 780.9,2306.6 781.3,2306.3 781.8,2306.3 782.3,2306.6 782.8,2305.9 783.3,2305.5 783.8,2306.7 784.3,2305.1 784.8,2306.6 785.3,2306.9 785.8,2305.5 786.3,2305.0 786.8,2305.7 787.3,2306.4 787.8,2305.7 788.3,2306.8 788.8,2306.5 789.2,2305.6 789.7,2306.6 790.2,2305.4 790.7,2305.9 791.2,2306.2 791.7,2306.8 792.2,2306.5 792.7,2306.9 793.2,2305.2 793.7,2307.8 794.2,2305.5 794.7,2306.1 795.2,2306.8 795.7,2306.1 796.2,2306.4 796.7,2305.0 797.1,2304.9 797.6,2305.1 798.1,2304.7 798.6,2304.7 799.1,2303.8 799.6,2302.5 800.1,2302.1 800.6,2299.6 801.1,2297.9 801.6,2295.8 802.1,2292.0 802.6,2288.9 803.1,2285.3 803.6,2281.6 804.1,2277.2 804.6,2273.2 805.0,2269.7 805.5,2266.5 806.0,2265.6 806.5,2265.9 807.0,2267.7 807.5,2270.6 808.0,2273.7 808.5,2278.0 809.0,2283.1 809.5,2286.3 810.0,2289.4 810.5,2293.7 811.0,2296.7 811.5,2299.0 812.0,2302.2 812.5,2303.0 812.9,2304.5 813.4,2304.0 813.9,2305.3 814.4,2305.3 814.9,2305.4 815.4,2305.2 815.9,2305.9 816.4,2304.8 816.9,2306.4 817.4,2307.5 817.9,2306.8 818.4,2304.9 818.9,2306.2 819.4,2305.7 819.9,2305.8 820.4,2306.0 820.8,2306.8 821.3,2306.6 821.8,2305.7 822.3,2306.5 822.8,2306.3 823.3,2307.4 823.8,2305.4 824.3,2306.2 824.8,2305.7 825.3,2306.3 825.8,2305.2 826.3,2305.8 826.8,2306.2 827.3,2306.0 827.8,2305.8 828.3,2306.3 828.7,2306.0 829.2,2305.8 829.7,2306.2 830.2,2306.4 830.7,2306.5 831.2,2305.4 831.7,2306.1 832.2,2307.0 832.7,2305.6 833.2,2306.4 833.7,2306.1 834.2,2307.0 834.7,2307.1 835.2,2306.5 835.7,2306.1 836.2,2305.5 836.6,2306.1 837.1,2305.9 837.6,2306.4 838.1,2307.2 838.6,2307.4 839.1,2306.6 839.6,2306.5 840.1,2306.3 840.6,2306.6 841.1,2306.3 841.6,2307.4 842.1,2306.0 842.6,2306.5 843.1,2306.1 843.6,2306.9 844.1,2307.4 844.5,2306.8 845.0,2306.5 845.5,2306.4 846.0,2306.7 846.5,2306.1 847.0,2307.3 847.5,2307.4 848.0,2307.0 848.5,2306.8 849.0,2306.2 849.5,2307.4 850.0,2305.6 850.5,2306.0 851.0,2307.6 851.5,2306.2 852.0,2305.9 852.4,2305.5 852.9,2306.9 853.4,2307.0 853.9,2306.5 854.4,2305.5 854.9,2306.3 855.4,2305.9 855.9,2306.9 856.4,2307.2 856.9,2306.6 857.4,2306.6 857.9,2307.2 858.4,2307.3 858.9,2305.7 859.4,2306.6 859.9,2305.7 860.3,2305.9 860.8,2306.9 861.3,2305.7 861.8,2306.2 862.3,2306.9 862.8,2306.5 863.3,2305.3 863.8,2306.1 864.3,2306.1 864.8,2305.7 865.3,2307.2 865.8,2306.1 866.3,2306.1 866.8,2306.6 867.3,2306.1 867.8,2305.3 868.2,2306.0 868.7,2306.2 869.2,2306.0 869.7,2306.4 870.2,2306.3 870.7,2306.0 871.2,2305.6 871.7,2305.6 872.2,2306.6 872.7,2304.5 873.2,2305.9 873.7,2305.4 874.2,2304.6 874.7,2304.7 875.2,2304.7 875.7,2303.1 876.1,2303.2 876.6,2302.4 877.1,2300.1 877.6,2298.6 878.1,2296.5 878.6,2292.0 879.1,2286.5 879.6,2279.8 880.1,2272.2 880.6,2264.8 881.1,2254.1 881.6,2243.3 882.1,2232.1 882.6,2221.1 883.1,2212.7 883.6,2204.2 884.0,2199.4 884.5,2195.9 885.0,2198.2 885.5,2202.9 886.0,2209.4 886.5,2218.9 887.0,2229.6 887.5,2241.7 888.0,2252.2 888.5,2262.0 889.0,2271.8 889.5,2279.0 890.0,2285.9 890.5,2291.0 891.0,2294.6 891.5,2298.6 891.9,2300.3 892.4,2300.7 892.9,2302.9 893.4,2304.6 893.9,2303.1 894.4,2305.2 894.9,2305.1 895.4,2304.5 895.9,2305.3 896.4,2304.9 896.9,2304.7 897.4,2305.9 897.9,2305.9 898.4,2304.8 898.9,2305.6 899.4,2305.9 899.8,2305.1 900.3,2306.6 900.8,2305.7 901.3,2306.3 901.8,2306.5 902.3,2305.7 902.8,2306.4 903.3,2306.3 903.8,2306.5 904.3,2306.1 904.8,2306.8 905.3,2306.7 905.8,2307.2 906.3,2307.0 906.8,2305.7 907.3,2306.1 907.7,2306.7 908.2,2307.0 908.7,2306.1 909.2,2306.5 909.7,2306.6 910.2,2306.4 910.7,2307.0 911.2,2306.0 911.7,2306.8 912.2,2306.1 912.7,2306.8 913.2,2306.1 913.7,2306.4 914.2,2307.1 914.7,2306.1 915.2,2306.6 915.6,2306.9 916.1,2306.5 916.6,2306.5 917.1,2306.6 917.6,2306.1 918.1,2307.0 918.6,2307.0 919.1,2307.6 919.6,2306.8 920.1,2307.2 920.6,2306.4 921.1,2306.9 921.6,2306.2 922.1,2306.8 922.6,2306.5 923.1,2307.2 923.5,2305.6 924.0,2306.6 924.5,2306.5 925.0,2307.1 925.5,2306.3 926.0,2306.5 926.5,2307.4 927.0,2306.4 927.5,2306.5 928.0,2307.3 928.5,2305.6 929.0,2306.9 929.5,2306.9 930.0,2306.9 930.5,2305.8 931.0,2306.0 931.4,2306.3 931.9,2306.3 932.4,2307.1 932.9,2306.5 933.4,2307.5 933.9,2306.7 934.4,2307.1 934.9,2306.4 935.4,2306.4 935.9,2307.0 936.4,2307.2 936.9,2306.4 937.4,2307.4 937.9,2306.6 938.4,2307.6 938.9,2306.1 939.3,2306.6 939.8,2307.1 940.3,2306.7 940.8,2306.4 941.3,2307.1 941.8,2307.2 942.3,2306.5 942.8,2307.1 943.3,2306.5 943.8,2306.3 944.3,2307.4 944.8,2306.4 945.3,2306.4 945.8,2307.1 946.3,2306.2 946.8,2306.2 947.2,2306.5 947.7,2306.6 948.2,2307.0 948.7,2306.3 949.2,2306.0 949.7,2305.5 950.2,2305.7 950.7,2305.4 951.2,2305.8 951.7,2303.8 952.2,2303.1 952.7,2302.3 953.2,2302.4 953.7,2301.8 954.2,2301.4 954.7,2298.7 955.1,2298.8 955.6,2297.5 956.1,2298.1 956.6,2297.1 957.1,2297.6 957.6,2297.0 958.1,2298.0 958.6,2298.4 959.1,2298.7 959.6,2300.5 960.1,2300.8 960.6,2300.7 961.1,2302.8 961.6,2303.0 962.1,2304.6 962.6,2305.8 963.0,2305.6 963.5,2306.1 964.0,2305.4 964.5,2305.8 965.0,2306.1 965.5,2307.6 966.0,2306.4 966.5,2306.8 967.0,2305.7 967.5,2306.5 968.0,2306.8 968.5,2306.7 969.0,2306.6 969.5,2307.0 970.0,2307.1 970.5,2306.2 970.9,2306.1 971.4,2307.1 971.9,2307.3 972.4,2306.1 972.9,2307.2 973.4,2306.1 973.9,2306.8 974.4,2307.5 974.9,2306.0 975.4,2306.9 975.9,2306.8 976.4,2306.3 976.9,2307.3 977.4,2306.4 977.9,2306.5 978.4,2306.3 978.8,2307.1 979.3,2307.2 979.8,2307.6 980.3,2306.8 980.8,2306.5 981.3,2307.7 981.8,2306.6 982.3,2307.3 982.8,2307.8 983.3,2307.3 983.8,2305.9 984.3,2306.4 984.8,2306.5 985.3,2307.4 985.8,2306.5 986.3,2307.3 986.7,2307.0 987.2,2307.0 987.7,2306.9 988.2,2306.5 988.7,2307.7 989.2,2307.0 989.7,2307.8 990.2,2306.4 990.7,2306.0 991.2,2307.7 991.7,2306.3 992.2,2307.0 992.7,2306.7 993.2,2306.9 993.7,2306.8 994.2,2306.3 994.6,2306.3 995.1,2307.1 995.6,2306.6 996.1,2307.9 996.6,2307.0 997.1,2307.7 997.6,2306.7 998.1,2307.4 998.6,2306.6 999.1,2306.4 999.6,2306.8 1000.1,2306.9 1000.6,2308.4 1001.1,2306.2 1001.6,2306.6 1002.1,2307.4 1002.5,2306.9 1003.0,2307.0 1003.5,2307.4 1004.0,2306.9 1004.5,2306.6 1005.0,2306.2 1005.5,2306.9 1006.0,2307.3 1006.5,2307.1 1007.0,2307.6 1007.5,2306.8 1008.0,2307.1 1008.5,2306.5 1009.0,2305.9 1009.5,2307.3 1010.0,2306.7 1010.4,2307.3 1010.9,2306.6 1011.4,2306.1 1011.9,2306.5 1012.4,2306.8 1012.9,2306.6 1013.4,2306.8 1013.9,2307.3 1014.4,2307.0 1014.9,2307.2 1015.4,2306.9 1015.9,2306.6 1016.4,2306.5 1016.9,2305.8 1017.4,2307.3 1017.9,2307.6 1018.3,2306.5 1018.8,2306.5 1019.3,2306.5 1019.8,2307.2 1020.3,2307.1 1020.8,2306.9 1021.3,2307.0 1021.8,2306.1 1022.3,2306.9 1022.8,2306.9 1023.3,2307.3 1023.8,2306.6 1024.3,2306.7 1024.8,2307.1 1025.3,2308.5 1025.8,2306.7 1026.2,2308.1 1026.7,2306.5 1027.2,2307.1 1027.7,2306.5 1028.2,2307.8 1028.7,2307.1 1029.2,2307.1 1029.7,2307.6 1030.2,2307.7 1030.7,2306.7 1031.2,2307.2 1031.7,2306.8 1032.2,2307.7 1032.7,2305.9 1033.2,2308.2 1033.7,2306.9 1034.1,2305.9 1034.6,2307.2 1035.1,2306.6 1035.6,2307.1 1036.1,2307.1 1036.6,2307.6 1037.1,2306.1 1037.6,2307.3 1038.1,2307.7 1038.6,2306.3 1039.1,2307.5 1039.6,2307.5 1040.1,2306.8 1040.6,2306.0 1041.1,2307.1 1041.6,2306.8 1042.0,2307.9 1042.5,2306.9 1043.0,2307.4 1043.5,2307.3 1044.0,2307.2 1044.5,2306.4 1045.0,2306.7 1045.5,2307.1 1046.0,2307.0 1046.5,2307.0 1047.0,2307.5 1047.5,2307.1 1048.0,2307.5 1048.5,2307.1 1049.0,2307.3 1049.5,2306.8 1049.9,2306.3 1050.4,2307.5 1050.9,2307.5 1051.4,2307.4 1051.9,2306.6 1052.4,2307.7 1052.9,2307.1 1053.4,2307.2 1053.9,2306.7 1054.4,2306.8 1054.9,2306.7 1055.4,2307.3 1055.9,2306.7 1056.4,2307.1 1056.9,2306.8 1057.4,2306.4 1057.8,2307.1 1058.3,2307.2 1058.8,2307.1 1059.3,2305.5 1059.8,2307.6 1060.3,2307.1 1060.8,2306.6 1061.3,2308.1 1061.8,2307.1 1062.3,2307.5 1062.8,2307.1 1063.3,2305.8 1063.8,2307.7 1064.3,2306.5 1064.8,2307.7 1065.3,2307.0 1065.7,2306.6 1066.2,2305.7 1066.7,2306.8 1067.2,2306.5 1067.7,2307.1 1068.2,2306.4 1068.7,2307.4 1069.2,2306.7 1069.7,2306.8 1070.2,2308.1 1070.7,2307.4 1071.2,2306.7 1071.7,2307.2 1072.2,2306.1 1072.7,2306.6 1073.2,2306.9 1073.6,2306.6 1074.1,2306.4 1074.6,2307.3 1075.1,2306.6 1075.6,2306.4 1076.1,2306.5 1076.6,2306.4 1077.1,2307.1 1077.6,2306.7 1078.1,2305.6 1078.6,2306.9 1079.1,2306.5 1079.6,2305.4 1080.1,2304.5 1080.6,2304.3 1081.1,2303.2 1081.5,2302.7 1082.0,2301.2 1082.5,2300.6 1083.0,2297.5 1083.5,2296.4 1084.0,2295.2 1084.5,2293.1 1085.0,2291.6 1085.5,2290.0 1086.0,2290.7 1086.5,2289.1 1087.0,2289.5 1087.5,2289.1 1088.0,2290.1 1088.5,2291.6 1089.0,2294.0 1089.4,2295.4 1089.9,2297.5 1090.4,2298.8 1090.9,2300.4 1091.4,2300.9 1091.9,2301.9 1092.4,2304.0 1092.9,2303.8 1093.4,2305.2 1093.9,2305.1 1094.4,2305.3 1094.9,2306.2 1095.4,2306.0 1095.9,2306.4 1096.4,2307.2 1096.9,2306.7 1097.3,2307.4 1097.8,2306.7 1098.3,2307.1 1098.8,2306.4 1099.3,2307.7 1099.8,2305.9 1100.3,2307.2 1100.8,2307.4 1101.3,2305.7 1101.8,2306.2 1102.3,2306.3 1102.8,2307.0 1103.3,2307.0 1103.8,2306.9 1104.3,2307.4 1104.7,2308.4 1105.2,2306.6 1105.7,2307.3 1106.2,2307.2 1106.7,2307.7 1107.2,2306.0 1107.7,2306.3 1108.2,2306.6 1108.7,2306.6 1109.2,2307.3 1109.7,2306.9 1110.2,2306.1 1110.7,2306.8 1111.2,2306.3 1111.7,2306.8 1112.2,2307.1 1112.6,2306.8 1113.1,2307.9 1113.6,2308.4 1114.1,2307.5 1114.6,2306.4 1115.1,2308.0 1115.6,2308.3 1116.1,2307.1 1116.6,2307.4 1117.1,2307.8 1117.6,2307.3 1118.1,2307.9 1118.6,2307.5 1119.1,2306.9 1119.6,2307.0 1120.1,2307.1 1120.5,2306.9 1121.0,2307.9 1121.5,2307.4 1122.0,2307.1 1122.5,2307.7 1123.0,2307.3 1123.5,2307.8 1124.0,2308.1 1124.5,2307.3 1125.0,2306.9 1125.5,2306.6 1126.0,2308.2 1126.5,2307.5 1127.0,2306.9 1127.5,2307.2 1128.0,2306.6 1128.4,2308.0 1128.9,2307.4 1129.4,2307.1 1129.9,2306.5 1130.4,2308.4 1130.9,2307.3 1131.4,2306.1 1131.9,2306.9 1132.4,2307.2 1132.9,2307.3 1133.4,2306.7 1133.9,2307.9 1134.4,2307.6 1134.9,2307.3 1135.4,2306.9 1135.9,2306.3 1136.3,2307.0 1136.8,2307.1 1137.3,2306.6 1137.8,2307.4 1138.3,2307.6 1138.8,2306.9 1139.3,2306.9 1139.8,2307.0 1140.3,2307.9 1140.8,2307.6 1141.3,2305.8 1141.8,2306.3 1142.3,2307.7 1142.8,2305.9 1143.3,2306.8 1143.8,2305.8 1144.2,2305.9 1144.7,2304.7 1145.2,2304.6 1145.7,2304.5 1146.2,2303.9 1146.7,2303.7 1147.2,2304.3 1147.7,2303.4 1148.2,2304.3 1148.7,2303.4 1149.2,2303.8 1149.7,2304.6 1150.2,2304.8 1150.7,2305.4 1151.2,2305.2 1151.7,2305.5 1152.1,2305.6 1152.6,2305.3 1153.1,2306.2 1153.6,2307.1 1154.1,2306.7 1154.6,2307.0 1155.1,2307.7 1155.6,2306.6 1156.1,2307.3 1156.6,2306.9 1157.1,2307.8 1157.6,2306.5 1158.1,2307.1 1158.6,2307.0 1159.1,2307.1 1159.6,2307.0 1160.0,2308.3 1160.5,2307.2 1161.0,2307.2 1161.5,2306.5 1162.0,2306.6 1162.5,2306.9 1163.0,2306.7 1163.5,2307.6 1164.0,2307.0 1164.5,2307.1 1165.0,2307.3 1165.5,2306.8 1166.0,2306.7 1166.5,2307.0 1167.0,2307.4 1167.5,2307.3 1167.9,2306.9 1168.4,2308.2 1168.9,2307.5 1169.4,2307.7 1169.9,2308.2 1170.4,2306.8 1170.9,2307.8 1171.4,2307.5 1171.9,2307.5 1172.4,2306.5 1172.9,2306.9 1173.4,2307.3 1173.9,2307.3 1174.4,2308.2 1174.9,2307.1 1175.4,2307.5 1175.8,2307.2 1176.3,2306.6 1176.8,2307.1 1177.3,2307.4 1177.8,2308.3 1178.3,2308.0 1178.8,2307.0 1179.3,2306.8 1179.8,2307.3 1180.3,2307.0 1180.8,2308.6 1181.3,2307.8 1181.8,2307.3 1182.3,2307.0 1182.8,2306.7 1183.3,2307.2 1183.7,2305.9 1184.2,2307.1 1184.7,2307.0 1185.2,2308.1 1185.7,2306.3 1186.2,2307.7 1186.7,2307.1 1187.2,2307.6 1187.7,2306.8 1188.2,2307.4 1188.7,2307.6 1189.2,2308.5 1189.7,2306.7 1190.2,2307.1 1190.7,2307.1 1191.2,2306.8 1191.6,2307.0 1192.1,2307.0 1192.6,2306.7 1193.1,2305.9 1193.6,2306.8 1194.1,2305.8 1194.6,2306.3 1195.1,2306.5 1195.6,2304.9 1196.1,2304.9 1196.6,2304.3 1197.1,2303.2 1197.6,2301.8 1198.1,2300.6 1198.6,2299.2 1199.1,2296.3 1199.5,2294.6 1200.0,2292.6 1200.5,2289.4 1201.0,2286.6 1201.5,2285.3 1202.0,2283.1 1202.5,2281.5 1203.0,2279.8 1203.5,2278.8 1204.0,2280.0 1204.5,2280.6 1205.0,2281.7 1205.5,2282.9 1206.0,2285.4 1206.5,2287.3 1207.0,2289.7 1207.4,2292.8 1207.9,2295.3 1208.4,2297.6 1208.9,2299.3 1209.4,2302.0 1209.9,2301.8 1210.4,2304.2 1210.9,2304.2 1211.4,2305.6 1211.9,2305.2 1212.4,2307.3 1212.9,2307.2 1213.4,2305.8 1213.9,2307.5 1214.4,2307.0 1214.9,2307.5 1215.3,2307.1 1215.8,2307.0 1216.3,2306.4 1216.8,2306.9 1217.3,2307.2 1217.8,2306.3 1218.3,2306.7 1218.8,2307.3 1219.3,2307.5 1219.8,2307.1 1220.3,2308.1 1220.8,2307.1 1221.3,2307.7 1221.8,2308.1 1222.3,2307.0 1222.8,2308.0 1223.2,2307.3 1223.7,2306.9 1224.2,2308.3 1224.7,2308.3 1225.2,2307.3 1225.7,2308.0 1226.2,2308.0 1226.7,2307.4 1227.2,2308.6 1227.7,2307.4 1228.2,2307.1 1228.7,2307.5 1229.2,2307.4 1229.7,2307.2 1230.2,2307.3 1230.7,2306.8 1231.1,2307.8 1231.6,2306.7 1232.1,2308.1 1232.6,2307.8 1233.1,2307.3 1233.6,2307.3 1234.1,2307.1 1234.6,2307.5 1235.1,2308.4 1235.6,2307.6 1236.1,2307.2 1236.6,2308.4 1237.1,2307.3 1237.6,2307.3 1238.1,2308.6 1238.6,2307.8 1239.0,2308.1 1239.5,2307.8 1240.0,2307.7 1240.5,2307.8 1241.0,2307.8 1241.5,2308.6 1242.0,2306.8 1242.5,2306.1 1243.0,2307.3 1243.5,2306.6 1244.0,2307.5 1244.5,2306.7 1245.0,2307.4 1245.5,2307.9 1246.0,2307.0 1246.5,2306.9 1246.9,2307.6 1247.4,2306.7 1247.9,2307.0 1248.4,2306.8 1248.9,2306.0 1249.4,2307.0 1249.9,2305.6 1250.4,2306.2 1250.9,2305.4 1251.4,2304.0 1251.9,2303.7 1252.4,2303.4 1252.9,2301.8 1253.4,2302.0 1253.9,2299.1 1254.4,2299.0 1254.8,2296.2 1255.3,2295.8 1255.8,2295.4 1256.3,2293.0 1256.8,2293.5 1257.3,2292.5 1257.8,2292.4 1258.3,2293.1 1258.8,2293.8 1259.3,2294.8 1259.8,2295.8 1260.3,2296.9 1260.8,2297.2 1261.3,2300.5 1261.8,2302.2 1262.3,2302.4 1262.7,2303.0 1263.2,2303.5 1263.7,2304.9 1264.2,2305.5 1264.7,2305.3 1265.2,2306.1 1265.7,2306.9 1266.2,2306.9 1266.7,2306.9 1267.2,2307.1 1267.7,2306.7 1268.2,2307.2 1268.7,2307.3 1269.2,2306.9 1269.7,2307.2 1270.2,2307.8 1270.6,2307.9 1271.1,2306.2 1271.6,2306.6 1272.1,2307.9 1272.6,2307.6 1273.1,2307.6 1273.6,2306.6 1274.1,2307.4 1274.6,2307.7 1275.1,2307.6 1275.6,2307.0 1276.1,2307.1 1276.6,2307.6 1277.1,2307.5 1277.6,2308.1 1278.1,2306.2 1278.5,2307.1 1279.0,2308.1 1279.5,2306.8 1280.0,2307.5 1280.5,2308.2 1281.0,2306.9 1281.5,2307.6 1282.0,2308.4 1282.5,2306.7 1283.0,2306.3 1283.5,2308.0 1284.0,2307.1 1284.5,2307.4 1285.0,2307.4 1285.5,2308.1 1286.0,2307.2 1286.4,2307.9 1286.9,2307.8 1287.4,2307.4 1287.9,2307.9 1288.4,2307.5 1288.9,2307.3 1289.4,2309.0 1289.9,2306.3 1290.4,2306.7 1290.9,2306.8 1291.4,2307.1 1291.9,2307.4 1292.4,2307.1 1292.9,2308.5 1293.4,2307.0 1293.9,2306.6 1294.3,2307.2 1294.8,2306.9 1295.3,2306.9 1295.8,2307.6 1296.3,2307.3 1296.8,2307.7 1297.3,2306.4 1297.8,2307.3 1298.3,2306.9 1298.8,2306.5 1299.3,2305.9 1299.8,2306.5 1300.3,2305.8 1300.8,2306.5 1301.3,2306.0 1301.8,2305.6 1302.2,2306.2 1302.7,2304.6 1303.2,2301.7 1303.7,2301.8 1304.2,2299.9 1304.7,2297.9 1305.2,2295.1 1305.7,2293.0 1306.2,2287.8 1306.7,2285.2 1307.2,2282.5 1307.7,2278.5 1308.2,2275.2 1308.7,2271.0 1309.2,2267.8 1309.7,2266.1 1310.1,2264.0 1310.6,2262.2 1311.1,2263.9 1311.6,2263.9 1312.1,2267.0 1312.6,2269.4 1313.1,2272.9 1313.6,2276.7 1314.1,2279.4 1314.6,2284.1 1315.1,2287.3 1315.6,2290.5 1316.1,2293.7 1316.6,2296.1 1317.1,2298.6 1317.6,2300.6 1318.0,2301.7 1318.5,2303.9 1319.0,2304.3 1319.5,2304.4 1320.0,2305.8 1320.5,2306.2 1321.0,2305.5 1321.5,2306.6 1322.0,2306.4 1322.5,2306.9 1323.0,2306.8 1323.5,2307.1 1324.0,2307.1 1324.5,2305.8 1325.0,2307.1 1325.5,2307.4 1325.9,2307.5 1326.4,2307.8 1326.9,2307.4 1327.4,2307.9 1327.9,2307.7 1328.4,2307.0 1328.9,2306.9 1329.4,2308.0 1329.9,2307.7 1330.4,2306.4 1330.9,2306.8 1331.4,2308.0 1331.9,2307.4 1332.4,2306.4 1332.9,2307.6 1333.4,2307.9 1333.8,2307.7 1334.3,2307.4 1334.8,2307.3 1335.3,2307.1 1335.8,2307.1 1336.3,2307.6 1336.8,2308.8 1337.3,2308.8 1337.8,2307.3 1338.3,2306.6 1338.8,2307.4 1339.3,2307.3 1339.8,2307.3 1340.3,2306.6 1340.8,2307.4 1341.3,2307.1 1341.7,2307.5 1342.2,2306.6 1342.7,2307.5 1343.2,2306.8 1343.7,2307.0 1344.2,2307.1 1344.7,2307.2 1345.2,2307.2 1345.7,2307.2 1346.2,2307.2 1346.7,2307.1 1347.2,2307.2 1347.7,2307.3 1348.2,2308.5 1348.7,2308.0 1349.2,2307.2 1349.6,2306.8 1350.1,2308.1 1350.6,2307.5 1351.1,2307.7 1351.6,2308.1 1352.1,2306.5 1352.6,2307.2 1353.1,2307.6 1353.6,2308.3 1354.1,2307.5 1354.6,2307.6 1355.1,2307.5 1355.6,2307.5 1356.1,2307.6 1356.6,2307.2 1357.1,2307.1 1357.5,2307.3 1358.0,2307.9 1358.5,2308.2 1359.0,2307.6 1359.5,2307.4 1360.0,2308.2 1360.5,2307.8 1361.0,2307.9 1361.5,2307.5 1362.0,2307.3 1362.5,2307.8 1363.0,2307.5 1363.5,2308.2 1364.0,2307.1 1364.5,2307.7 1365.0,2307.6 1365.4,2307.0 1365.9,2307.3 1366.4,2307.0 1366.9,2307.4 1367.4,2307.4 1367.9,2309.0 1368.4,2307.0 1368.9,2307.9 1369.4,2307.3 1369.9,2307.7 1370.4,2307.4 1370.9,2307.1 1371.4,2308.3 1371.9,2308.2 1372.4,2306.6 1372.9,2307.5 1373.3,2307.4 1373.8,2306.7 1374.3,2307.6 1374.8,2307.8 1375.3,2307.6 1375.8,2307.8 1376.3,2308.5 1376.8,2307.3 1377.3,2308.2 1377.8,2308.7 1378.3,2306.0 1378.8,2307.4 1379.3,2308.3 1379.8,2307.7 1380.3,2307.2 1380.8,2308.3 1381.2,2308.0 1381.7,2306.7 1382.2,2308.0 1382.7,2307.4 1383.2,2307.7 1383.7,2306.9 1384.2,2307.8 1384.7,2307.6 1385.2,2307.0 1385.7,2307.4 1386.2,2308.3 1386.7,2308.4 1387.2,2306.7 1387.7,2307.8 1388.2,2307.4 1388.7,2307.3 1389.1,2307.7 1389.6,2308.4 1390.1,2307.8 1390.6,2307.0 1391.1,2307.6 1391.6,2307.8 1392.1,2308.1 1392.6,2307.5 1393.1,2307.6 1393.6,2307.7 1394.1,2307.9 1394.6,2306.5 1395.1,2308.3 1395.6,2307.7 1396.1,2307.5 1396.6,2306.9 1397.0,2307.7 1397.5,2308.6 1398.0,2307.2 1398.5,2306.6 1399.0,2307.7 1399.5,2307.5 1400.0,2307.4 1400.5,2306.6 1401.0,2307.6 1401.5,2307.7 1402.0,2305.0 1402.5,2307.3 1403.0,2307.6 1403.5,2306.5 1404.0,2305.7 1404.5,2306.8 1404.9,2307.7 1405.4,2306.5 1405.9,2307.2 1406.4,2305.9 1406.9,2305.3 1407.4,2304.6 1407.9,2305.5 1408.4,2303.7 1408.9,2303.8 1409.4,2303.7 1409.9,2303.9 1410.4,2303.6 1410.9,2302.7 1411.4,2303.0 1411.9,2304.7 1412.4,2304.0 1412.8,2304.2 1413.3,2304.3 1413.8,2304.9 1414.3,2304.7 1414.8,2306.0 1415.3,2306.2 1415.8,2306.0 1416.3,2306.8 1416.8,2306.4 1417.3,2306.5 1417.8,2307.4 1418.3,2307.0 1418.8,2306.7 1419.3,2308.1 1419.8,2307.2 1420.3,2307.6 1420.7,2308.2 1421.2,2306.7 1421.7,2307.3 1422.2,2308.0 1422.7,2307.3 1423.2,2307.2 1423.7,2307.4 1424.2,2307.3 1424.7,2307.3 1425.2,2307.7 1425.7,2307.5 1426.2,2308.4 1426.7,2307.7 1427.2,2308.4 1427.7,2307.6 1428.2,2308.4 1428.6,2307.4 1429.1,2308.1 1429.6,2307.6 1430.1,2308.4 1430.6,2307.0 1431.1,2307.2 1431.6,2307.7 1432.1,2306.9 1432.6,2308.3 1433.1,2307.4 1433.6,2307.7 1434.1,2308.0 1434.6,2307.8 1435.1,2307.0 1435.6,2306.7 1436.1,2306.5 1436.5,2306.9 1437.0,2307.0 1437.5,2307.0 1438.0,2307.6 1438.5,2306.6 1439.0,2306.5 1439.5,2307.4 1440.0,2308.3 1440.5,2306.8 1441.0,2307.2 1441.5,2307.3 1442.0,2307.9 1442.5,2307.7 1443.0,2307.0 1443.5,2307.7 1444.0,2307.2 1444.4,2307.5 1444.9,2308.0 1445.4,2305.8 1445.9,2306.1 1446.4,2305.9 1446.9,2305.8 1447.4,2306.3 1447.9,2305.9 1448.4,2306.3 1448.9,2305.6 1449.4,2304.2 1449.9,2303.0 1450.4,2302.3 1450.9,2300.9 1451.4,2298.8 1451.9,2297.7 1452.3,2295.1 1452.8,2293.2 1453.3,2291.0 1453.8,2288.5 1454.3,2286.3 1454.8,2284.6 1455.3,2282.7 1455.8,2280.6 1456.3,2281.2 1456.8,2280.7 1457.3,2280.8 1457.8,2281.1 1458.3,2281.5 1458.8,2282.6 1459.3,2284.4 1459.8,2286.1 1460.2,2289.1 1460.7,2290.6 1461.2,2293.7 1461.7,2295.9 1462.2,2297.4 1462.7,2299.1 1463.2,2300.9 1463.7,2302.5 1464.2,2303.1 1464.7,2305.1 1465.2,2304.4 1465.7,2305.1 1466.2,2305.6 1466.7,2306.1 1467.2,2306.6 1467.7,2307.0 1468.1,2306.6 1468.6,2307.8 1469.1,2306.0 1469.6,2307.2 1470.1,2307.1 1470.6,2306.4 1471.1,2306.4 1471.6,2307.3 1472.1,2307.8 1472.6,2307.5 1473.1,2307.2 1473.6,2307.1 1474.1,2307.0 1474.6,2307.1 1475.1,2307.6 1475.6,2307.9 1476.0,2307.6 1476.5,2307.0 1477.0,2307.6 1477.5,2307.9 1478.0,2306.4 1478.5,2307.5 1479.0,2307.1 1479.5,2307.4 1480.0,2306.7 1480.5,2306.8 1481.0,2307.3 1481.5,2307.1 1482.0,2307.1 1482.5,2306.9 1483.0,2307.6 1483.5,2307.9 1483.9,2306.8 1484.4,2307.5 1484.9,2307.1 1485.4,2307.5 1485.9,2307.9 1486.4,2307.5 1486.9,2307.3 1487.4,2306.8 1487.9,2307.9 1488.4,2308.2 1488.9,2306.3 1489.4,2307.6 1489.9,2307.2 1490.4,2306.6 1490.9,2308.2 1491.4,2307.5 1491.8,2308.3 1492.3,2306.7 1492.8,2306.9 1493.3,2306.2 1493.8,2307.0 1494.3,2305.9 1494.8,2306.5 1495.3,2307.0 1495.8,2306.4 1496.3,2306.3 1496.8,2305.4 1497.3,2305.2 1497.8,2304.1 1498.3,2302.6 1498.8,2302.6 1499.3,2301.3 1499.7,2299.7 1500.2,2298.3 1500.7,2298.1 1501.2,2295.2 1501.7,2294.3 1502.2,2293.6 1502.7,2292.6 1503.2,2291.4 1503.7,2289.7 1504.2,2290.7 1504.7,2290.0 1505.2,2289.5 1505.7,2291.4 1506.2,2291.6 1506.7,2291.7 1507.2,2292.5 1507.6,2295.2 1508.1,2296.3 1508.6,2298.2 1509.1,2299.5 1509.6,2300.2 1510.1,2302.0 1510.6,2302.9 1511.1,2303.1 1511.6,2304.8 1512.1,2305.1 1512.6,2305.4 1513.1,2306.1 1513.6,2305.9 1514.1,2306.1 1514.6,2306.7 1515.1,2306.4 1515.5,2307.8 1516.0,2307.2 1516.5,2307.5 1517.0,2308.1 1517.5,2308.0 1518.0,2308.4 1518.5,2306.8 1519.0,2308.2 1519.5,2307.1 1520.0,2307.2 1520.5,2307.4 1521.0,2307.4 1521.5,2307.3 1522.0,2307.5 1522.5,2308.2 1523.0,2306.2 1523.4,2306.6 1523.9,2306.7 1524.4,2307.5 1524.9,2307.4 1525.4,2307.6 1525.9,2308.4 1526.4,2307.4 1526.9,2306.6 1527.4,2307.6 1527.9,2308.4 1528.4,2308.5 1528.9,2307.4 1529.4,2307.5 1529.9,2307.6 1530.4,2307.7 1530.9,2307.3 1531.3,2307.1 1531.8,2308.2 1532.3,2308.2 1532.8,2307.4 1533.3,2307.0 1533.8,2307.0 1534.3,2306.7 1534.8,2306.7 1535.3,2307.1 1535.8,2306.9 1536.3,2307.4 1536.8,2306.9 1537.3,2306.6 1537.8,2306.8 1538.3,2305.5 1538.7,2306.9 1539.2,2306.3 1539.7,2306.9 1540.2,2305.6 1540.7,2305.3 1541.2,2304.4 1541.7,2305.5 1542.2,2303.8 1542.7,2303.6 1543.2,2302.0 1543.7,2301.7 1544.2,2300.0 1544.7,2299.3 1545.2,2298.6 1545.7,2297.6 1546.2,2297.8 1546.6,2297.3 1547.1,2297.2 1547.6,2296.0 1548.1,2296.2 1548.6,2296.8 1549.1,2297.6 1549.6,2297.2 1550.1,2298.5 1550.6,2300.0 1551.1,2300.3 1551.6,2301.1 1552.1,2301.4 1552.6,2302.6 1553.1,2303.9 1553.6,2304.8 1554.1,2303.9 1554.5,2305.5 1555.0,2305.6 1555.5,2305.6 1556.0,2307.4 1556.5,2307.0 1557.0,2306.2 1557.5,2306.4 1558.0,2307.1 1558.5,2306.3 1559.0,2307.1 1559.5,2307.5 1560.0,2306.6 1560.5,2307.4 1561.0,2307.5 1561.5,2307.0 1562.0,2307.5 1562.4,2307.7 1562.9,2307.6 1563.4,2307.0 1563.9,2307.8 1564.4,2307.2 1564.9,2307.5 1565.4,2307.4 1565.9,2307.4 1566.4,2306.3 1566.9,2307.9 1567.4,2307.6 1567.9,2307.5 1568.4,2307.7 1568.9,2307.2 1569.4,2307.3 1569.9,2307.7 1570.3,2306.2 1570.8,2307.0 1571.3,2307.1 1571.8,2307.2 1572.3,2307.1 1572.8,2307.0 1573.3,2307.5 1573.8,2307.8 1574.3,2307.6 1574.8,2307.9 1575.3,2307.6 1575.8,2308.1 1576.3,2308.2 1576.8,2307.1 1577.3,2306.9 1577.8,2307.0 1578.2,2307.1 1578.7,2307.6 1579.2,2307.5 1579.7,2307.3 1580.2,2306.8 1580.7,2306.9 1581.2,2306.9 1581.7,2307.0 1582.2,2305.1 1582.7,2306.7 1583.2,2306.6 1583.7,2305.6 1584.2,2306.4 1584.7,2305.6 1585.2,2305.0 1585.7,2303.1 1586.1,2303.5 1586.6,2302.3 1587.1,2301.3 1587.6,2298.9 1588.1,2298.1 1588.6,2297.5 1589.1,2295.8 1589.6,2296.0 1590.1,2293.6 1590.6,2293.6 1591.1,2292.6 1591.6,2293.4 1592.1,2291.6 1592.6,2292.4 1593.1,2291.6 1593.6,2291.8 1594.0,2293.4 1594.5,2294.9 1595.0,2295.0 1595.5,2297.0 1596.0,2298.0 1596.5,2298.9 1597.0,2300.2 1597.5,2301.3 1598.0,2301.9 1598.5,2303.2 1599.0,2304.2 1599.5,2304.2 1600.0,2303.8 1600.5,2306.0 1601.0,2305.7 1601.5,2306.6 1601.9,2306.1 1602.4,2307.0 1602.9,2306.8 1603.4,2306.9 1603.9,2307.1 1604.4,2307.4 1604.9,2306.3 1605.4,2307.9 1605.9,2307.8 1606.4,2307.5 1606.9,2306.4 1607.4,2307.8 1607.9,2307.4 1608.4,2308.2 1608.9,2307.1 1609.4,2307.3 1609.8,2307.9 1610.3,2306.2 1610.8,2307.2 1611.3,2307.3 1611.8,2306.2 1612.3,2306.9 1612.8,2307.5 1613.3,2307.6 1613.8,2308.3 1614.3,2307.9 1614.8,2306.7 1615.3,2307.9 1615.8,2307.6 1616.3,2307.5 1616.8,2306.8 1617.3,2308.4 1617.7,2308.4 1618.2,2307.6 1618.7,2307.0 1619.2,2306.8 1619.7,2306.8 1620.2,2307.9 1620.7,2306.5 1621.2,2308.0 1621.7,2307.3 1622.2,2307.6 1622.7,2307.8 1623.2,2308.7 1623.7,2307.8 1624.2,2307.2 1624.7,2307.5 1625.2,2307.3 1625.6,2307.2 1626.1,2307.1 1626.6,2306.4 1627.1,2307.0 1627.6,2305.9 1628.1,2307.1 1628.6,2306.1 1629.1,2305.5 1629.6,2306.2 1630.1,2306.0 1630.6,2305.5 1631.1,2304.4 1631.6,2304.3 1632.1,2305.1 1632.6,2305.9 1633.1,2304.7 1633.5,2304.7 1634.0,2304.8 1634.5,2304.1 1635.0,2305.3 1635.5,2304.5 1636.0,2305.0 1636.5,2304.8 1637.0,2304.8 1637.5,2305.2 1638.0,2305.4 1638.5,2305.9 1639.0,2307.1 1639.5,2306.7 1640.0,2306.4 1640.5,2307.0 1641.0,2306.6 1641.4,2307.7 1641.9,2307.6 1642.4,2307.0 1642.9,2307.3 1643.4,2307.4 1643.9,2306.8 1644.4,2306.8 1644.9,2307.4 1645.4,2307.0 1645.9,2307.4 1646.4,2307.9 1646.9,2307.4 1647.4,2307.8 1647.9,2308.4 1648.4,2307.3 1648.9,2308.3 1649.3,2307.0 1649.8,2306.9 1650.3,2307.6 1650.8,2307.4 1651.3,2306.7 1651.8,2308.2 1652.3,2307.9 1652.8,2307.0 1653.3,2307.4 1653.8,2307.4 1654.3,2306.8 1654.8,2307.7 1655.3,2306.8 1655.8,2306.6 1656.3,2308.3 1656.8,2307.1 1657.2,2307.1 1657.7,2307.3 1658.2,2307.1 1658.7,2308.6 1659.2,2307.7 1659.7,2307.9 1660.2,2307.9 1660.7,2308.6 1661.2,2306.2 1661.7,2307.8 1662.2,2307.5 1662.7,2307.4 1663.2,2308.0 1663.7,2307.7 1664.2,2306.3 1664.7,2307.4 1665.1,2307.1 1665.6,2307.7 1666.1,2305.8 1666.6,2307.1 1667.1,2306.7 1667.6,2306.7 1668.1,2306.3 1668.6,2304.6 1669.1,2305.7 1669.6,2304.9 1670.1,2304.0 1670.6,2304.4 1671.1,2303.3 1671.6,2303.6 1672.1,2302.7 1672.6,2300.9 1673.0,2301.4 1673.5,2300.5 1674.0,2300.1 1674.5,2299.7 1675.0,2300.1 1675.5,2299.1 1676.0,2299.9 1676.5,2299.0 1677.0,2300.4 1677.5,2300.0 1678.0,2300.5 1678.5,2301.7 1679.0,2301.7 1679.5,2303.5 1680.0,2302.9 1680.5,2304.9 1680.9,2305.0 1681.4,2305.1 1681.9,2305.8 1682.4,2306.0 1682.9,2307.4 1683.4,2306.7 1683.9,2306.3 1684.4,2307.0 1684.9,2306.8 1685.4,2307.0 1685.9,2306.8 1686.4,2306.9 1686.9,2307.7 1687.4,2307.3 1687.9,2307.8 1688.4,2307.2 1688.8,2307.3 1689.3,2307.1 1689.8,2308.1 1690.3,2308.3 1690.8,2307.4 1691.3,2307.9 1691.8,2306.6 1692.3,2306.7 1692.8,2307.8 1693.3,2306.5 1693.8,2308.9 1694.3,2308.0 1694.8,2308.4 1695.3,2307.4 1695.8,2306.7 1696.3,2307.0 1696.7,2307.0 1697.2,2307.9 1697.7,2306.9 1698.2,2307.0 1698.7,2308.3 1699.2,2306.8 1699.7,2307.1 1700.2,2308.1 1700.7,2308.8 1701.2,2306.5 1701.7,2306.1 1702.2,2307.0 1702.7,2307.5 1703.2,2307.3 1703.7,2307.0 1704.2,2306.6 1704.6,2307.8 1705.1,2307.0 1705.6,2306.9 1706.1,2307.2 1706.6,2307.9 1707.1,2307.1 1707.6,2308.3 1708.1,2306.6 1708.6,2306.9 1709.1,2305.2 1709.6,2305.7 1710.1,2305.6 1710.6,2304.8 1711.1,2304.2 1711.6,2303.7 1712.1,2302.7 1712.5,2302.1 1713.0,2301.5 1713.5,2300.6 1714.0,2298.7 1714.5,2298.0 1715.0,2296.5 1715.5,2296.2 1716.0,2295.6 1716.5,2293.8 1717.0,2293.0 1717.5,2292.0 1718.0,2292.0 1718.5,2291.5 1719.0,2291.0 1719.5,2292.7 1720.0,2293.9 1720.4,2293.8 1720.9,2294.4 1721.4,2295.8 1721.9,2297.6 1722.4,2297.6 1722.9,2299.4 1723.4,2300.3 1723.9,2300.0 1724.4,2302.0 1724.9,2303.4 1725.4,2304.1 1725.9,2304.5 1726.4,2304.4 1726.9,2305.7 1727.4,2306.1 1727.9,2306.6 1728.3,2307.5 1728.8,2306.8 1729.3,2307.5 1729.8,2307.3 1730.3,2308.6 1730.8,2307.5 1731.3,2308.7 1731.8,2306.7 1732.3,2306.6 1732.8,2307.6 1733.3,2307.3 1733.8,2308.1 1734.3,2307.8 1734.8,2307.9 1735.3,2307.0 1735.8,2307.4 1736.2,2307.9 1736.7,2307.1 1737.2,2307.5 1737.7,2308.1 1738.2,2307.4 1738.7,2307.6 1739.2,2308.2 1739.7,2307.7 1740.2,2306.7 1740.7,2307.6 1741.2,2307.5 1741.7,2307.7 1742.2,2308.8 1742.7,2308.1 1743.2,2307.6 1743.7,2307.1 1744.1,2308.0 1744.6,2307.6 1745.1,2308.2 1745.6,2307.6 1746.1,2308.0 1746.6,2307.0 1747.1,2307.3 1747.6,2307.3 1748.1,2306.8 1748.6,2307.4 1749.1,2306.9 1749.6,2306.8 1750.1,2306.5 1750.6,2306.7 1751.1,2305.7 1751.6,2307.0 1752.0,2306.6 1752.5,2306.5 1753.0,2306.7 1753.5,2306.0 1754.0,2305.5 1754.5,2306.3 1755.0,2305.3 1755.5,2305.5 1756.0,2304.2 1756.5,2305.1 1757.0,2305.4 1757.5,2305.8 1758.0,2305.9 1758.5,2306.2 1759.0,2305.5 1759.5,2305.7 1759.9,2306.2 1760.4,2305.9 1760.9,2306.2 1761.4,2306.6 1761.9,2305.6 1762.4,2306.0 1762.9,2307.2 1763.4,2306.7 1763.9,2307.6 1764.4,2307.0 1764.9,2306.7 1765.4,2307.7 1765.9,2307.2 1766.4,2307.6 1766.9,2307.1 1767.4,2307.0 1767.8,2307.3 1768.3,2307.0 1768.8,2307.4 1769.3,2306.9 1769.8,2307.7 1770.3,2307.9 1770.8,2307.7 1771.3,2306.8 1771.8,2308.2 1772.3,2306.5 1772.8,2307.6 1773.3,2307.5 1773.8,2307.9 1774.3,2307.1 1774.8,2307.2 1775.3,2308.1 1775.7,2308.1 1776.2,2306.9 1776.7,2307.3 1777.2,2307.0 1777.7,2306.0 1778.2,2308.1 1778.7,2307.1 1779.2,2307.5 1779.7,2307.6 1780.2,2306.7 1780.7,2307.9 1781.2,2307.0 1781.7,2306.6 1782.2,2307.6 1782.7,2307.5 1783.2,2307.1 1783.6,2307.3 1784.1,2308.2 1784.6,2307.6 1785.1,2307.2 1785.6,2306.9 1786.1,2308.0 1786.6,2306.6 1787.1,2305.7 1787.6,2307.2 1788.1,2306.0 1788.6,2304.8 1789.1,2304.8 1789.6,2304.4 1790.1,2303.5 1790.6,2303.7 1791.1,2303.1 1791.5,2303.6 1792.0,2301.9 1792.5,2300.8 1793.0,2300.2 1793.5,2299.5 1794.0,2299.1 1794.5,2298.5 1795.0,2296.0 1795.5,2295.7 1796.0,2296.0 1796.5,2296.8 1797.0,2295.4 1797.5,2296.4 1798.0,2295.8 1798.5,2296.2 1799.0,2296.9 1799.4,2298.6 1799.9,2298.3 1800.4,2299.4 1800.9,2300.4 1801.4,2301.6 1801.9,2302.0 1802.4,2303.2 1802.9,2304.4 1803.4,2304.5 1803.9,2304.5 1804.4,2305.1 1804.9,2305.8 1805.4,2305.8 1805.9,2305.7 1806.4,2306.0 1806.9,2306.4 1807.3,2305.8 1807.8,2308.6 1808.3,2307.6 1808.8,2306.9 1809.3,2306.8 1809.8,2308.0 1810.3,2306.5 1810.8,2306.8 1811.3,2307.9 1811.8,2307.3 1812.3,2307.8 1812.8,2307.5 1813.3,2307.4 1813.8,2307.1 1814.3,2307.7 1814.8,2307.6 1815.2,2307.6 1815.7,2307.2 1816.2,2308.1 1816.7,2307.5 1817.2,2307.8 1817.7,2306.8 1818.2,2306.5 1818.7,2307.8 1819.2,2307.1 1819.7,2307.0 1820.2,2307.6 1820.7,2308.2 1821.2,2307.3 1821.7,2307.2 1822.2,2307.6 1822.7,2307.7 1823.1,2307.4 1823.6,2306.3 1824.1,2307.7 1824.6,2306.8 1825.1,2308.3 1825.6,2306.6 1826.1,2307.0 1826.6,2306.7 1827.1,2306.6 1827.6,2307.7 1828.1,2305.9 1828.6,2306.3 1829.1,2305.4 1829.6,2304.8 1830.1,2305.0 1830.6,2304.3 1831.0,2303.5 1831.5,2302.6 1832.0,2302.9 1832.5,2304.0 1833.0,2301.6 1833.5,2301.7 1834.0,2300.7 1834.5,2302.7 1835.0,2299.8 1835.5,2300.3 1836.0,2299.6 1836.5,2301.2 1837.0,2301.2 1837.5,2301.7 1838.0,2301.9 1838.5,2303.2 1838.9,2303.6 1839.4,2304.0 1839.9,2302.3 1840.4,2303.8 1840.9,2304.8 1841.4,2305.7 1841.9,2304.0 1842.4,2306.8 1842.9,2306.4 1843.4,2307.3 1843.9,2306.0 1844.4,2306.4 1844.9,2306.4 1845.4,2306.7 1845.9,2306.8 1846.4,2306.3 1846.8,2308.0 1847.3,2307.7 1847.8,2306.9 1848.3,2306.3 1848.8,2308.1 1849.3,2306.2 1849.8,2306.9 1850.3,2306.8 1850.8,2307.1 1851.3,2307.7 1851.8,2308.0 1852.3,2307.7 1852.8,2306.9 1853.3,2308.2 1853.8,2308.2 1854.3,2308.0 1854.7,2308.8 1855.2,2306.9 1855.7,2307.1 1856.2,2307.1 1856.7,2307.2 1857.2,2307.9 1857.7,2307.6 1858.2,2307.3 1858.7,2308.2 1859.2,2307.5 1859.7,2307.2 1860.2,2307.2 1860.7,2306.8 1861.2,2307.4 1861.7,2307.1 1862.2,2307.5 1862.6,2307.7 1863.1,2307.8 1863.6,2307.3 1864.1,2308.6 1864.6,2306.9 1865.1,2307.9 1865.6,2307.6 1866.1,2307.7 1866.6,2307.2 1867.1,2307.1 1867.6,2307.9 1868.1,2306.6 1868.6,2307.6 1869.1,2306.7 1869.6,2306.5 1870.1,2307.6 1870.5,2307.2 1871.0,2308.6 1871.5,2306.6 1872.0,2307.6 1872.5,2307.6 1873.0,2307.6 1873.5,2307.3 1874.0,2306.7 1874.5,2308.0 1875.0,2308.0 1875.5,2307.8 1876.0,2307.7 1876.5,2308.2 1877.0,2308.1 1877.5,2307.9 1878.0,2307.2 1878.4,2308.1 1878.9,2307.1 1879.4,2307.8 1879.9,2307.0 1880.4,2307.5 1880.9,2308.0 1881.4,2307.4 1881.9,2308.1 1882.4,2307.3 1882.9,2308.5 1883.4,2307.5 1883.9,2309.0 1884.4,2307.9 1884.9,2307.5 1885.4,2306.9 1885.9,2307.3 1886.3,2308.6 1886.8,2306.8 1887.3,2306.7 1887.8,2307.7 1888.3,2308.2 1888.8,2307.3 1889.3,2307.0 1889.8,2307.4 1890.3,2307.4 1890.8,2308.1 1891.3,2308.6 1891.8,2307.4 1892.3,2307.1 1892.8,2306.8 1893.3,2306.5 1893.8,2307.5 1894.2,2306.6 1894.7,2307.9 1895.2,2307.3 1895.7,2307.1 1896.2,2308.2 1896.7,2306.5 1897.2,2307.9 1897.7,2307.5 1898.2,2307.5 1898.7,2307.3 1899.2,2306.7 1899.7,2307.6 1900.2,2307.8 1900.7,2305.9 1901.2,2307.0 1901.7,2306.7 1902.1,2306.4 1902.6,2306.6 1903.1,2306.0 1903.6,2305.6 1904.1,2306.2 1904.6,2304.6 1905.1,2304.5 1905.6,2304.1 1906.1,2303.4 1906.6,2303.1 1907.1,2303.7 1907.6,2301.9 1908.1,2303.3 1908.6,2300.7 1909.1,2299.8 1909.6,2300.5 1910.0,2300.0 1910.5,2301.3 1911.0,2300.8 1911.5,2300.1 1912.0,2300.8 1912.5,2301.0 1913.0,2303.0 1913.5,2302.0 1914.0,2302.5 1914.5,2303.2 1915.0,2303.5 1915.5,2303.8 1916.0,2303.8 1916.5,2304.8 1917.0,2305.3 1917.5,2304.8 1917.9,2305.9 1918.4,2305.4 1918.9,2305.5 1919.4,2306.6 1919.9,2307.1 1920.4,2307.4 1920.9,2306.7 1921.4,2306.3 1921.9,2306.7 1922.4,2307.1 1922.9,2307.2 1923.4,2307.6 1923.9,2307.3 1924.4,2308.0 1924.9,2307.1 1925.4,2307.7 1925.8,2307.8 1926.3,2307.7 1926.8,2307.7 1927.3,2306.8 1927.8,2307.9 1928.3,2307.2 1928.8,2307.4 1929.3,2306.9 1929.8,2307.7 1930.3,2307.2 1930.8,2307.1 1931.3,2307.8 1931.8,2307.0 1932.3,2307.6 1932.8,2307.5 1933.3,2307.7 1933.7,2307.4 1934.2,2306.7 1934.7,2307.4 1935.2,2307.5 1935.7,2308.3 1936.2,2308.3 1936.7,2307.7 1937.2,2307.6 1937.7,2305.6 1938.2,2306.6 1938.7,2306.1 1939.2,2306.9 1939.7,2306.7 1940.2,2306.5 1940.7,2306.3 1941.2,2305.9 1941.6,2305.4 1942.1,2304.9 1942.6,2305.4 1943.1,2304.7 1943.6,2305.1 1944.1,2304.1 1944.6,2304.0 1945.1,2303.6 1945.6,2304.3 1946.1,2303.4 1946.6,2302.6 1947.1,2303.5 1947.6,2303.7 1948.1,2304.2 1948.6,2304.2 1949.1,2305.4 1949.5,2305.1 1950.0,2305.7 1950.5,2306.2 1951.0,2306.2 1951.5,2306.4 1952.0,2305.9 1952.5,2306.6 1953.0,2306.5 1953.5,2307.1 1954.0,2306.5 1954.5,2307.3 1955.0,2306.8 1955.5,2307.6 1956.0,2307.9 1956.5,2308.0 1957.0,2307.1 1957.4,2308.1 1957.9,2306.5 1958.4,2307.6 1958.9,2306.7 1959.4,2307.5 1959.9,2306.8 1960.4,2307.5 1960.9,2307.1 1961.4,2308.2 1961.9,2308.7 1962.4,2308.0 1962.9,2308.1 1963.4,2307.8 1963.9,2307.5 1964.4,2307.4 1964.9,2306.9 1965.3,2307.1 1965.8,2308.0 1966.3,2307.3 1966.8,2307.8 1967.3,2307.1 1967.8,2308.8 1968.3,2308.3 1968.8,2307.5"/>
<polyline fill="none" stroke="#ff4040" stroke-width="11.0" stroke-linejoin="round" points="240.7,2300.6 241.7,2300.6 242.7,2300.6 243.7,2300.6 244.6,2300.6 245.6,2300.6 246.6,2300.6 247.6,2300.7 248.6,2300.7 249.6,2300.7 250.6,2300.7 251.6,2300.7 252.5,2300.7 253.5,2300.7 254.5,2300.7 255.5,2300.7 256.5,2300.7 257.5,2300.8 258.5,2300.8 259.5,2300.8 260.4,2300.8 261.4,2300.8 262.4,2300.8 263.4,2300.8 264.4,2300.8 265.4,2300.8 266.4,2300.8 267.4,2300.9 268.3,2300.9 269.3,2300.9 270.3,2300.9 271.3,2300.9 272.3,2300.9 273.3,2300.9 274.3,2300.9 275.3,2300.9 276.2,2300.9 277.2,2301.0 278.2,2301.0 279.2,2301.0 280.2,2301.0 281.2,2301.0 282.2,2301.0 283.2,2301.0 284.1,2301.0 285.1,2301.0 286.1,2301.0 287.1,2301.0 288.1,2301.1 289.1,2301.1 290.1,2301.1 291.1,2301.1 292.0,2301.1 293.0,2301.1 294.0,2301.1 295.0,2301.1 296.0,2301.1 297.0,2301.1 298.0,2301.1 299.0,2301.2 299.9,2301.2 300.9,2301.2 301.9,2301.2 302.9,2301.2 303.9,2301.2 304.9,2301.2 305.9,2301.2 306.9,2301.2 307.8,2301.2 308.8,2301.2 309.8,2301.3 310.8,2301.3 311.8,2301.3 312.8,2301.3 313.8,2301.3 314.8,2301.3 315.7,2301.3 316.7,2301.3 317.7,2301.3 318.7,2301.3 319.7,2301.3 320.7,2301.3 321.7,2301.3 322.7,2301.3 323.6,2301.3 324.6,2301.3 325.6,2301.3 326.6,2301.4 327.6,2301.4 328.6,2301.4 329.6,2301.4 330.6,2301.4 331.5,2301.4 332.5,2301.3 333.5,2301.3 334.5,2301.3 335.5,2301.4 336.5,2301.4 337.5,2301.4 338.5,2301.4 339.4,2301.5 340.4,2301.5 341.4,2301.5 342.4,2301.5 343.4,2301.4 344.4,2301.4 345.4,2301.3 346.4,2301.2 347.3,2301.0 348.3,2300.7 349.3,2300.3 350.3,2299.7 351.3,2298.6 352.3,2296.7 353.3,2292.5 354.3,2266.6 354.9,2181.0 355.2,2087.6 355.6,1947.7 356.0,1824.9 356.2,1781.3 356.4,1772.4 356.8,1825.0 357.1,1947.8 357.2,1984.2 357.9,2181.2 358.2,2239.4 359.2,2289.8 360.2,2296.3 361.2,2298.7 362.2,2300.1 363.1,2300.9 364.1,2301.5 365.1,2301.9 366.1,2302.2 367.1,2302.5 368.1,2302.7 369.1,2302.8 370.1,2303.0 371.0,2303.1 372.0,2303.2 373.0,2303.3 374.0,2303.4 375.0,2303.5 376.0,2303.5 377.0,2303.5 378.0,2303.6 378.9,2303.6 379.9,2303.6 380.9,2303.6 381.9,2303.7 382.9,2303.7 383.9,2303.7 384.9,2303.7 385.9,2303.7 386.8,2303.8 387.8,2303.8 388.8,2303.8 389.8,2303.8 390.8,2303.8 391.8,2303.8 392.8,2303.8 393.8,2303.9 394.7,2303.9 395.7,2303.9 396.7,2303.9 397.7,2303.9 398.7,2303.9 399.7,2303.9 400.7,2303.9 401.7,2303.9 402.6,2304.0 403.6,2304.0 404.6,2304.0 405.6,2304.0 406.6,2304.0 407.6,2304.0 408.6,2304.0 409.6,2304.0 410.5,2304.0 411.5,2304.0 412.5,2304.0 413.5,2304.1 414.5,2304.1 415.5,2304.1 416.5,2304.1 417.5,2304.1 418.4,2304.1 419.4,2304.1 420.4,2304.1 421.4,2304.1 422.4,2304.1 423.4,2304.1 424.4,2304.2 425.4,2304.2 426.3,2304.2 427.3,2304.2 428.3,2304.2 429.3,2304.2 430.3,2304.2 431.3,2304.2 432.3,2304.2 433.3,2304.2 434.2,2304.2 435.2,2304.2 436.2,2304.3 437.2,2304.3 438.2,2304.3 439.2,2304.3 440.2,2304.3 441.2,2304.3 442.1,2304.3 443.1,2304.3 444.1,2304.3 445.1,2304.3 446.1,2304.3 447.1,2304.3 448.1,2304.3 449.1,2304.4 450.0,2304.4 451.0,2304.4 452.0,2304.4 453.0,2304.4 454.0,2304.4 455.0,2304.4 456.0,2304.4 457.0,2304.4 457.9,2304.4 458.9,2304.4 459.9,2304.4 460.9,2304.4 461.9,2304.5 462.9,2304.5 463.9,2304.5 464.9,2304.5 465.8,2304.5 466.8,2304.5 467.8,2304.5 468.8,2304.5 469.8,2304.5 470.8,2304.5 471.8,2304.5 472.8,2304.5 473.7,2304.5 474.7,2304.5 475.7,2304.6 476.7,2304.6 477.7,2304.6 478.7,2304.6 479.7,2304.6 480.7,2304.6 481.6,2304.6 482.6,2304.6 483.6,2304.6 484.6,2304.6 485.6,2304.6 486.6,2304.6 487.6,2304.6 488.6,2304.6 489.5,2304.6 490.5,2304.6 491.5,2304.6 492.5,2304.6 493.5,2304.6 494.5,2304.6 495.5,2304.5 496.5,2304.5 497.4,2304.5 498.4,2304.4 499.4,2304.3 500.4,2304.2 501.4,2304.0 502.4,2303.6 503.4,2302.9 504.4,2299.7 505.3,2281.7 505.6,2270.3 506.3,2235.1 506.4,2232.5 506.8,2216.5 507.1,2210.2 507.3,2212.0 507.5,2216.5 507.9,2232.6 508.3,2256.1 508.6,2270.3 509.3,2292.1 510.3,2301.7 511.3,2303.3 512.3,2303.9 513.2,2304.2 514.2,2304.3 515.2,2304.5 516.2,2304.6 517.2,2304.6 518.2,2304.7 519.2,2304.7 520.2,2304.8 521.1,2304.8 522.1,2304.8 523.1,2304.8 524.1,2304.9 525.1,2304.9 526.1,2304.9 527.1,2304.9 528.1,2304.9 529.0,2304.9 530.0,2305.0 531.0,2305.0 532.0,2305.0 533.0,2305.0 534.0,2305.0 535.0,2305.0 536.0,2305.0 536.9,2305.0 537.9,2305.0 538.9,2305.1 539.9,2305.1 540.9,2305.1 541.9,2305.1 542.9,2305.1 543.9,2305.1 544.8,2305.1 545.8,2305.1 546.8,2305.1 547.8,2305.1 548.8,2305.1 549.8,2305.1 550.8,2305.2 551.8,2305.2 552.7,2305.2 553.7,2305.2 554.7,2305.2 555.7,2305.2 556.7,2305.2 557.7,2305.2 558.7,2305.2 559.7,2305.2 560.6,2305.2 561.6,2305.2 562.6,2305.2 563.6,2305.3 564.6,2305.3 565.6,2305.3 566.6,2305.3 567.6,2305.3 568.5,2305.3 569.5,2305.3 570.5,2305.3 571.5,2305.3 572.5,2305.3 573.5,2305.3 574.5,2305.3 575.5,2305.3 576.4,2305.3 577.4,2305.3 578.4,2305.4 579.4,2305.4 580.4,2305.4 581.4,2305.4 582.4,2305.4 583.4,2305.4 584.3,2305.4 585.3,2305.4 586.3,2305.4 587.3,2305.4 588.3,2305.4 589.3,2305.4 590.3,2305.4 591.3,2305.4 592.2,2305.4 593.2,2305.4 594.2,2305.4 595.2,2305.4 596.2,2305.4 597.2,2305.4 598.2,2305.4 599.2,2305.4 600.1,2305.4 601.1,2305.4 602.1,2305.4 603.1,2305.4 604.1,2305.4 605.1,2305.3 606.1,2305.3 607.1,2305.3 608.0,2305.2 609.0,2305.2 610.0,2305.1 611.0,2305.0 612.0,2304.9 613.0,2304.8 614.0,2304.6 615.0,2304.3 615.9,2303.9 616.9,2303.3 617.9,2302.2 618.9,2299.8 619.9,2288.6 620.9,2241.5 621.3,2200.6 621.9,2139.8 622.1,2118.5 622.4,2087.1 622.8,2075.2 622.9,2075.4 623.2,2087.1 623.5,2118.5 623.8,2151.0 624.3,2200.6 624.8,2248.9 625.8,2290.7 626.8,2300.3 627.8,2302.5 628.8,2303.4 629.8,2304.1 630.8,2304.5 631.7,2304.7 632.7,2305.0 633.7,2305.1 634.7,2305.2 635.7,2305.3 636.7,2305.4 637.7,2305.5 638.7,2305.5 639.6,2305.6 640.6,2305.6 641.6,2305.7 642.6,2305.7 643.6,2305.7 644.6,2305.7 645.6,2305.8 646.6,2305.8 647.5,2305.8 648.5,2305.8 649.5,2305.8 650.5,2305.9 651.5,2305.9 652.5,2305.9 653.5,2305.9 654.5,2305.9 655.4,2305.9 656.4,2305.9 657.4,2306.0 658.4,2306.0 659.4,2306.0 660.4,2306.0 661.4,2306.0 662.4,2306.0 663.3,2306.0 664.3,2306.0 665.3,2306.0 666.3,2306.1 667.3,2306.1 668.3,2306.1 669.3,2306.1 670.3,2306.1 671.2,2306.1 672.2,2306.1 673.2,2306.1 674.2,2306.1 675.2,2306.1 676.2,2306.1 677.2,2306.2 678.2,2306.2 679.1,2306.2 680.1,2306.2 681.1,2306.2 682.1,2306.2 683.1,2306.2 684.1,2306.2 685.1,2306.2 686.1,2306.2 687.0,2306.2 688.0,2306.2 689.0,2306.3 690.0,2306.3 691.0,2306.3 692.0,2306.3 693.0,2306.3 694.0,2306.3 694.9,2306.3 695.9,2306.3 696.9,2306.3 697.9,2306.3 698.9,2306.3 699.9,2306.3 700.9,2306.3 701.9,2306.3 702.8,2306.3 703.8,2306.3 704.8,2306.3 705.8,2306.3 706.8,2306.3 707.8,2306.3 708.8,2306.3 709.8,2306.3 710.7,2306.3 711.7,2306.3 712.7,2306.2 713.7,2306.2 714.7,2306.1 715.7,2305.9 716.7,2305.3 717.7,2303.0 718.6,2295.4 719.1,2288.8 719.6,2281.4 719.9,2278.0 720.2,2274.1 720.6,2272.6 721.0,2274.1 721.4,2278.0 721.6,2281.4 722.1,2288.8 722.6,2295.4 723.6,2303.1 724.6,2305.4 725.6,2306.0 726.5,2306.1 727.5,2306.3 728.5,2306.3 729.5,2306.4 730.5,2306.4 731.5,2306.5 732.5,2306.5 733.5,2306.5 734.4,2306.6 735.4,2306.6 736.4,2306.6 737.4,2306.6 738.4,2306.6 739.4,2306.6 740.4,2306.6 741.4,2306.6 742.3,2306.6 743.3,2306.6 744.3,2306.6 745.3,2306.6 746.3,2306.6 747.3,2306.6 748.3,2306.7 749.3,2306.7 750.2,2306.7 751.2,2306.7 752.2,2306.7 753.2,2306.7 754.2,2306.7 755.2,2306.7 756.2,2306.7 757.2,2306.7 758.1,2306.7 759.1,2306.7 760.1,2306.7 761.1,2306.7 762.1,2306.7 763.1,2306.7 764.1,2306.7 765.1,2306.7 766.0,2306.7 767.0,2306.7 768.0,2306.7 769.0,2306.7 770.0,2306.7 771.0,2306.7 772.0,2306.7 773.0,2306.7 773.9,2306.7 774.9,2306.7 775.9,2306.7 776.9,2306.7 777.9,2306.7 778.9,2306.7 779.9,2306.7 780.9,2306.7 781.8,2306.7 782.8,2306.7 783.8,2306.7 784.8,2306.7 785.8,2306.7 786.8,2306.7 787.8,2306.7 788.8,2306.7 789.7,2306.7 790.7,2306.7 791.7,2306.7 792.7,2306.7 793.7,2306.6 794.7,2306.6 795.7,2306.6 796.7,2306.6 797.6,2306.5 798.6,2306.4 799.6,2306.3 800.6,2306.1 801.6,2305.7 802.6,2304.2 803.6,2298.7 804.6,2286.1 804.7,2283.7 805.4,2271.9 805.5,2270.6 805.8,2267.9 806.2,2266.4 806.5,2267.7 806.6,2267.9 806.9,2271.9 807.5,2281.2 807.7,2283.7 808.5,2295.7 809.5,2303.1 810.5,2305.5 811.5,2306.1 812.5,2306.3 813.4,2306.4 814.4,2306.5 815.4,2306.6 816.4,2306.6 817.4,2306.7 818.4,2306.7 819.4,2306.7 820.4,2306.7 821.3,2306.8 822.3,2306.8 823.3,2306.8 824.3,2306.8 825.3,2306.8 826.3,2306.8 827.3,2306.8 828.3,2306.8 829.2,2306.8 830.2,2306.8 831.2,2306.8 832.2,2306.8 833.2,2306.8 834.2,2306.8 835.2,2306.8 836.2,2306.8 837.1,2306.9 838.1,2306.9 839.1,2306.9 840.1,2306.9 841.1,2306.9 842.1,2306.9 843.1,2306.9 844.1,2306.9 845.0,2306.9 846.0,2306.9 847.0,2306.9 848.0,2306.9 849.0,2306.9 850.0,2306.9 851.0,2306.9 852.0,2306.9 852.9,2306.9 853.9,2306.9 854.9,2306.9 855.9,2306.9 856.9,2306.9 857.9,2306.9 858.9,2306.8 859.9,2306.8 860.8,2306.8 861.8,2306.8 862.8,2306.8 863.8,2306.8 864.8,2306.8 865.8,2306.8 866.8,2306.8 867.8,2306.7 868.7,2306.7 869.7,2306.7 870.7,2306.6 871.7,2306.6 872.7,2306.5 873.7,2306.4 874.7,2306.3 875.7,2306.2 876.6,2306.0 877.6,2305.7 878.6,2305.2 879.6,2304.1 880.6,2300.7 881.6,2289.2 882.6,2261.5 883.1,2239.5 883.6,2220.9 883.8,2210.1 884.2,2200.4 884.5,2196.9 884.6,2196.8 885.0,2200.4 885.3,2210.1 885.5,2217.1 886.1,2239.5 886.5,2257.7 887.5,2287.3 888.5,2300.1 889.5,2304.0 890.5,2305.1 891.5,2305.6 892.4,2306.0 893.4,2306.2 894.4,2306.3 895.4,2306.5 896.4,2306.6 897.4,2306.6 898.4,2306.7 899.4,2306.7 900.3,2306.8 901.3,2306.8 902.3,2306.8 903.3,2306.9 904.3,2306.9 905.3,2306.9 906.3,2306.9 907.3,2306.9 908.2,2307.0 909.2,2307.0 910.2,2307.0 911.2,2307.0 912.2,2307.0 913.2,2307.0 914.2,2307.0 915.2,2307.0 916.1,2307.0 917.1,2307.0 918.1,2307.0 919.1,2307.0 920.1,2307.1 921.1,2307.1 922.1,2307.1 923.1,2307.1 924.0,2307.1 925.0,2307.1 926.0,2307.1 927.0,2307.1 928.0,2307.1 929.0,2307.1 930.0,2307.1 931.0,2307.1 931.9,2307.1 932.9,2307.1 933.9,2307.1 934.9,2307.1 935.9,2307.1 936.9,2307.1 937.9,2307.1 938.9,2307.1 939.8,2307.1 940.8,2307.1 941.8,2307.1 942.8,2307.1 943.8,2307.1 944.8,2307.1 945.8,2307.1 946.8,2307.1 947.7,2307.1 948.7,2307.1 949.7,2307.0 950.7,2307.0 951.7,2306.9 952.7,2306.7 953.7,2305.8 954.7,2303.7 955.5,2300.7 955.6,2300.3 956.3,2298.2 956.6,2297.4 956.7,2297.4 957.0,2297.1 957.4,2297.4 957.6,2297.8 957.8,2298.2 958.5,2300.7 958.6,2301.0 959.6,2304.3 960.6,2306.1 961.6,2306.8 962.6,2307.0 963.5,2307.1 964.5,2307.1 965.5,2307.1 966.5,2307.1 967.5,2307.2 968.5,2307.2 969.5,2307.2 970.5,2307.2 971.4,2307.2 972.4,2307.2 973.4,2307.2 974.4,2307.2 975.4,2307.2 976.4,2307.2 977.4,2307.2 978.4,2307.2 979.3,2307.2 980.3,2307.2 981.3,2307.2 982.3,2307.3 983.3,2307.3 984.3,2307.3 985.3,2307.3 986.3,2307.3 987.2,2307.3 988.2,2307.3 989.2,2307.3 990.2,2307.3 991.2,2307.3 992.2,2307.3 993.2,2307.3 994.2,2307.3 995.1,2307.3 996.1,2307.3 997.1,2307.3 998.1,2307.3 999.1,2307.3 1000.1,2307.3 1001.1,2307.3 1002.1,2307.3 1003.0,2307.3 1004.0,2307.3 1005.0,2307.3 1006.0,2307.3 1007.0,2307.3 1008.0,2307.3 1009.0,2307.3 1010.0,2307.3 1010.9,2307.3 1011.9,2307.3 1012.9,2307.3 1013.9,2307.3 1014.9,2307.3 1015.9,2307.3 1016.9,2307.3 1017.9,2307.4 1018.8,2307.4 1019.8,2307.4 1020.8,2307.4 1021.8,2307.4 1022.8,2307.4 1023.8,2307.4 1024.8,2307.4 1025.8,2307.4 1026.7,2307.4 1027.7,2307.4 1028.7,2307.4 1029.7,2307.4 1030.7,2307.4 1031.7,2307.4 1032.7,2307.4 1033.7,2307.4 1034.6,2307.4 1035.6,2307.4 1036.6,2307.4 1037.6,2307.4 1038.6,2307.4 1039.6,2307.4 1040.6,2307.4 1041.6,2307.4 1042.5,2307.4 1043.5,2307.4 1044.5,2307.4 1045.5,2307.4 1046.5,2307.4 1047.5,2307.4 1048.5,2307.4 1049.5,2307.4 1050.4,2307.4 1051.4,2307.4 1052.4,2307.4 1053.4,2307.4 1054.4,2307.4 1055.4,2307.4 1056.4,2307.4 1057.4,2307.4 1058.3,2307.4 1059.3,2307.4 1060.3,2307.4 1061.3,2307.4 1062.3,2307.4 1063.3,2307.4 1064.3,2307.4 1065.3,2307.4 1066.2,2307.4 1067.2,2307.4 1068.2,2307.4 1069.2,2307.4 1070.2,2307.4 1071.2,2307.4 1072.2,2307.4 1073.2,2307.4 1074.1,2307.4 1075.1,2307.4 1076.1,2307.4 1077.1,2307.3 1078.1,2307.3 1079.1,2307.3 1080.1,2307.2 1081.1,2307.0 1082.0,2306.5 1083.0,2305.1 1084.0,2301.9 1085.0,2296.7 1085.3,2294.9 1086.0,2291.2 1086.0,2291.0 1086.4,2289.8 1086.8,2289.4 1087.0,2289.5 1087.1,2289.8 1087.5,2291.0 1088.0,2293.2 1088.3,2294.9 1089.0,2299.0 1089.9,2303.5 1090.9,2305.9 1091.9,2306.8 1092.9,2307.1 1093.9,2307.3 1094.9,2307.3 1095.9,2307.4 1096.9,2307.4 1097.8,2307.4 1098.8,2307.5 1099.8,2307.5 1100.8,2307.5 1101.8,2307.5 1102.8,2307.5 1103.8,2307.5 1104.8,2307.5 1105.7,2307.5 1106.7,2307.5 1107.7,2307.5 1108.7,2307.5 1109.7,2307.6 1110.7,2307.6 1111.7,2307.6 1112.6,2307.6 1113.6,2307.6 1114.6,2307.6 1115.6,2307.6 1116.6,2307.6 1117.6,2307.6 1118.6,2307.6 1119.6,2307.6 1120.5,2307.6 1121.5,2307.6 1122.5,2307.6 1123.5,2307.6 1124.5,2307.6 1125.5,2307.6 1126.5,2307.6 1127.5,2307.6 1128.4,2307.6 1129.4,2307.6 1130.4,2307.6 1131.4,2307.6 1132.4,2307.6 1133.4,2307.6 1134.4,2307.6 1135.4,2307.6 1136.3,2307.6 1137.3,2307.6 1138.3,2307.6 1139.3,2307.6 1140.3,2307.6 1141.3,2307.6 1142.3,2307.5 1143.3,2307.3 1144.2,2306.9 1145.2,2306.1 1146.2,2305.0 1147.0,2304.2 1147.2,2304.0 1147.3,2304.0 1147.7,2303.9 1148.1,2304.0 1148.2,2304.0 1148.4,2304.2 1149.2,2305.0 1150.2,2306.1 1151.2,2306.9 1152.1,2307.4 1153.1,2307.5 1154.1,2307.6 1155.1,2307.6 1156.1,2307.6 1157.1,2307.7 1158.1,2307.7 1159.1,2307.7 1160.0,2307.7 1161.0,2307.7 1162.0,2307.7 1163.0,2307.7 1164.0,2307.7 1165.0,2307.7 1166.0,2307.7 1167.0,2307.7 1167.9,2307.7 1168.9,2307.7 1169.9,2307.7 1170.9,2307.7 1171.9,2307.7 1172.9,2307.7 1173.9,2307.7 1174.9,2307.7 1175.8,2307.7 1176.8,2307.7 1177.8,2307.7 1178.8,2307.7 1179.8,2307.7 1180.8,2307.7 1181.8,2307.7 1182.8,2307.7 1183.7,2307.7 1184.7,2307.7 1185.7,2307.7 1186.7,2307.7 1187.7,2307.7 1188.7,2307.7 1189.7,2307.6 1190.7,2307.6 1191.6,2307.6 1192.6,2307.6 1193.6,2307.5 1194.6,2307.5 1195.6,2307.4 1196.6,2307.3 1197.6,2307.0 1198.6,2306.3 1199.5,2304.3 1200.5,2300.0 1201.5,2292.9 1202.2,2287.0 1202.5,2284.6 1203.0,2281.6 1203.3,2280.0 1203.5,2279.6 1203.7,2279.4 1204.1,2280.0 1204.4,2281.6 1204.5,2281.9 1205.2,2287.0 1205.5,2289.5 1206.5,2297.5 1207.4,2303.0 1208.4,2305.7 1209.4,2306.8 1210.4,2307.2 1211.4,2307.4 1212.4,2307.5 1213.4,2307.5 1214.4,2307.6 1215.3,2307.6 1216.3,2307.7 1217.3,2307.7 1218.3,2307.7 1219.3,2307.7 1220.3,2307.7 1221.3,2307.8 1222.3,2307.8 1223.2,2307.8 1224.2,2307.8 1225.2,2307.8 1226.2,2307.8 1227.2,2307.8 1228.2,2307.8 1229.2,2307.8 1230.2,2307.8 1231.1,2307.8 1232.1,2307.8 1233.1,2307.8 1234.1,2307.8 1235.1,2307.8 1236.1,2307.8 1237.1,2307.8 1238.1,2307.8 1239.0,2307.8 1240.0,2307.8 1241.0,2307.8 1242.0,2307.8 1243.0,2307.8 1244.0,2307.8 1245.0,2307.8 1246.0,2307.7 1246.9,2307.7 1247.9,2307.7 1248.9,2307.7 1249.9,2307.6 1250.9,2307.5 1251.9,2307.2 1252.9,2306.5 1253.9,2304.9 1254.8,2301.9 1255.8,2297.8 1256.0,2297.0 1256.8,2294.4 1256.8,2294.3 1257.1,2293.6 1257.5,2293.4 1257.8,2293.5 1257.9,2293.6 1258.3,2294.4 1258.8,2296.2 1259.0,2297.0 1259.8,2300.3 1260.8,2303.8 1261.8,2306.0 1262.7,2307.0 1263.7,2307.4 1264.7,2307.6 1265.7,2307.6 1266.7,2307.7 1267.7,2307.7 1268.7,2307.7 1269.7,2307.7 1270.6,2307.8 1271.6,2307.8 1272.6,2307.8 1273.6,2307.8 1274.6,2307.8 1275.6,2307.8 1276.6,2307.8 1277.6,2307.8 1278.5,2307.8 1279.5,2307.8 1280.5,2307.8 1281.5,2307.8 1282.5,2307.8 1283.5,2307.8 1284.5,2307.8 1285.5,2307.8 1286.4,2307.8 1287.4,2307.8 1288.4,2307.8 1289.4,2307.7 1290.4,2307.7 1291.4,2307.7 1292.4,2307.7 1293.4,2307.7 1294.3,2307.7 1295.3,2307.7 1296.3,2307.6 1297.3,2307.6 1298.3,2307.5 1299.3,2307.5 1300.3,2307.4 1301.3,2307.3 1302.2,2307.2 1303.2,2307.0 1304.2,2306.6 1305.2,2305.6 1306.2,2303.0 1307.2,2297.5 1308.2,2288.0 1309.2,2275.8 1309.3,2274.0 1310.0,2266.4 1310.1,2265.7 1310.4,2264.2 1310.8,2263.4 1311.1,2264.1 1311.2,2264.2 1311.5,2266.4 1312.1,2272.2 1312.3,2274.0 1313.1,2284.4 1314.1,2295.0 1315.1,2301.7 1316.1,2305.0 1317.1,2306.4 1318.0,2306.9 1319.0,2307.2 1320.0,2307.3 1321.0,2307.4 1322.0,2307.5 1323.0,2307.5 1324.0,2307.6 1325.0,2307.6 1325.9,2307.6 1326.9,2307.7 1327.9,2307.7 1328.9,2307.7 1329.9,2307.7 1330.9,2307.7 1331.9,2307.8 1332.9,2307.8 1333.8,2307.8 1334.8,2307.8 1335.8,2307.8 1336.8,2307.8 1337.8,2307.8 1338.8,2307.8 1339.8,2307.8 1340.8,2307.8 1341.7,2307.8 1342.7,2307.8 1343.7,2307.8 1344.7,2307.8 1345.7,2307.8 1346.7,2307.8 1347.7,2307.8 1348.7,2307.8 1349.6,2307.8 1350.6,2307.8 1351.6,2307.8 1352.6,2307.8 1353.6,2307.8 1354.6,2307.8 1355.6,2307.8 1356.6,2307.8 1357.5,2307.8 1358.5,2307.8 1359.5,2307.8 1360.5,2307.8 1361.5,2307.8 1362.5,2307.8 1363.5,2307.8 1364.5,2307.8 1365.4,2307.8 1366.4,2307.8 1367.4,2307.8 1368.4,2307.8 1369.4,2307.8 1370.4,2307.8 1371.4,2307.8 1372.4,2307.8 1373.3,2307.8 1374.3,2307.8 1375.3,2307.8 1376.3,2307.8 1377.3,2307.8 1378.3,2307.8 1379.3,2307.8 1380.3,2307.8 1381.2,2307.8 1382.2,2307.8 1383.2,2307.8 1384.2,2307.8 1385.2,2307.8 1386.2,2307.8 1387.2,2307.8 1388.2,2307.8 1389.1,2307.8 1390.1,2307.8 1391.1,2307.8 1392.1,2307.8 1393.1,2307.8 1394.1,2307.8 1395.1,2307.8 1396.1,2307.8 1397.0,2307.8 1398.0,2307.8 1399.0,2307.8 1400.0,2307.8 1401.0,2307.8 1402.0,2307.8 1403.0,2307.8 1404.0,2307.7 1404.9,2307.6 1405.9,2307.4 1406.9,2307.0 1407.9,2306.2 1408.9,2305.2 1409.3,2304.7 1409.9,2304.2 1410.1,2304.1 1410.5,2303.9 1410.8,2303.8 1410.9,2303.8 1411.2,2303.9 1411.6,2304.1 1411.9,2304.3 1412.3,2304.7 1412.8,2305.3 1413.8,2306.3 1414.8,2307.0 1415.8,2307.4 1416.8,2307.6 1417.8,2307.7 1418.8,2307.7 1419.8,2307.8 1420.7,2307.8 1421.7,2307.8 1422.7,2307.8 1423.7,2307.8 1424.7,2307.8 1425.7,2307.8 1426.7,2307.8 1427.7,2307.8 1428.6,2307.8 1429.6,2307.8 1430.6,2307.8 1431.6,2307.8 1432.6,2307.8 1433.6,2307.8 1434.6,2307.8 1435.6,2307.8 1436.5,2307.8 1437.5,2307.7 1438.5,2307.7 1439.5,2307.7 1440.5,2307.7 1441.5,2307.7 1442.5,2307.7 1443.5,2307.6 1444.4,2307.6 1445.4,2307.6 1446.4,2307.5 1447.4,2307.5 1448.4,2307.4 1449.4,2307.2 1450.4,2306.8 1451.4,2305.9 1452.3,2303.9 1453.3,2300.1 1454.3,2294.1 1455.3,2287.1 1455.5,2285.7 1456.2,2281.6 1456.3,2281.4 1456.6,2280.5 1457.0,2280.0 1457.3,2280.3 1457.4,2280.5 1457.7,2281.6 1458.3,2284.5 1458.5,2285.7 1459.3,2291.3 1460.2,2297.9 1461.2,2302.6 1462.2,2305.3 1463.2,2306.5 1464.2,2307.1 1465.2,2307.3 1466.2,2307.4 1467.2,2307.5 1468.1,2307.5 1469.1,2307.6 1470.1,2307.6 1471.1,2307.6 1472.1,2307.7 1473.1,2307.7 1474.1,2307.7 1475.1,2307.7 1476.0,2307.7 1477.0,2307.7 1478.0,2307.7 1479.0,2307.7 1480.0,2307.7 1481.0,2307.7 1482.0,2307.7 1483.0,2307.7 1483.9,2307.7 1484.9,2307.7 1485.9,2307.7 1486.9,2307.7 1487.9,2307.7 1488.9,2307.7 1489.9,2307.7 1490.9,2307.7 1491.8,2307.7 1492.8,2307.6 1493.8,2307.6 1494.8,2307.6 1495.8,2307.5 1496.8,2307.4 1497.8,2307.2 1498.8,2306.6 1499.7,2305.5 1500.7,2303.2 1501.7,2299.7 1502.7,2295.4 1503.1,2293.7 1503.7,2291.7 1503.8,2291.3 1504.2,2290.6 1504.6,2290.3 1504.7,2290.3 1505.0,2290.6 1505.3,2291.3 1505.7,2292.3 1506.1,2293.7 1506.7,2296.3 1507.6,2300.5 1508.6,2303.8 1509.6,2305.8 1510.6,2306.8 1511.6,2307.2 1512.6,2307.4 1513.6,2307.5 1514.6,2307.6 1515.5,2307.6 1516.5,2307.6 1517.5,2307.7 1518.5,2307.7 1519.5,2307.7 1520.5,2307.7 1521.5,2307.7 1522.5,2307.7 1523.4,2307.7 1524.4,2307.7 1525.4,2307.7 1526.4,2307.7 1527.4,2307.7 1528.4,2307.7 1529.4,2307.7 1530.4,2307.7 1531.3,2307.7 1532.3,2307.7 1533.3,2307.7 1534.3,2307.7 1535.3,2307.7 1536.3,2307.7 1537.3,2307.7 1538.3,2307.6 1539.2,2307.6 1540.2,2307.5 1541.2,2307.3 1542.2,2306.8 1543.2,2305.8 1544.2,2304.0 1545.2,2301.6 1546.2,2298.9 1546.2,2298.8 1546.9,2297.3 1547.1,2297.1 1547.3,2296.9 1547.7,2296.7 1548.1,2296.9 1548.1,2296.9 1548.4,2297.3 1549.1,2298.7 1549.2,2298.8 1550.1,2301.3 1551.1,2303.8 1552.1,2305.6 1553.1,2306.7 1554.1,2307.2 1555.0,2307.5 1556.0,2307.6 1557.0,2307.6 1558.0,2307.7 1559.0,2307.7 1560.0,2307.7 1561.0,2307.7 1562.0,2307.7 1562.9,2307.7 1563.9,2307.7 1564.9,2307.7 1565.9,2307.7 1566.9,2307.7 1567.9,2307.8 1568.9,2307.8 1569.9,2307.7 1570.8,2307.7 1571.8,2307.7 1572.8,2307.7 1573.8,2307.7 1574.8,2307.7 1575.8,2307.7 1576.8,2307.7 1577.8,2307.7 1578.7,2307.7 1579.7,2307.7 1580.7,2307.6 1581.7,2307.6 1582.7,2307.6 1583.7,2307.5 1584.7,2307.3 1585.7,2307.0 1586.6,2306.4 1587.6,2305.0 1588.6,2302.7 1589.6,2299.4 1590.6,2295.6 1590.8,2294.7 1591.6,2292.6 1592.0,2292.0 1592.3,2291.8 1592.6,2291.9 1592.7,2292.0 1593.1,2292.6 1593.6,2293.9 1593.8,2294.7 1594.5,2297.5 1595.5,2301.1 1596.5,2304.0 1597.5,2305.8 1598.5,2306.8 1599.5,2307.2 1600.5,2307.4 1601.5,2307.5 1602.4,2307.6 1603.4,2307.6 1604.4,2307.7 1605.4,2307.7 1606.4,2307.7 1607.4,2307.7 1608.4,2307.7 1609.4,2307.7 1610.3,2307.7 1611.3,2307.7 1612.3,2307.8 1613.3,2307.8 1614.3,2307.8 1615.3,2307.8 1616.3,2307.8 1617.3,2307.8 1618.2,2307.8 1619.2,2307.8 1620.2,2307.8 1621.2,2307.8 1622.2,2307.8 1623.2,2307.8 1624.2,2307.7 1625.2,2307.7 1626.1,2307.7 1627.1,2307.6 1628.1,2307.5 1629.1,2307.2 1630.1,2306.8 1631.1,2306.2 1632.1,2305.5 1632.3,2305.3 1633.1,2304.9 1633.4,2304.8 1633.8,2304.8 1634.0,2304.8 1634.2,2304.8 1634.5,2304.9 1635.0,2305.2 1635.3,2305.3 1636.0,2305.8 1637.0,2306.5 1638.0,2307.0 1639.0,2307.4 1640.0,2307.6 1641.0,2307.7 1641.9,2307.7 1642.9,2307.7 1643.9,2307.8 1644.9,2307.8 1645.9,2307.8 1646.9,2307.8 1647.9,2307.8 1648.9,2307.8 1649.8,2307.8 1650.8,2307.8 1651.8,2307.8 1652.8,2307.8 1653.8,2307.8 1654.8,2307.8 1655.8,2307.8 1656.8,2307.8 1657.7,2307.8 1658.7,2307.8 1659.7,2307.8 1660.7,2307.7 1661.7,2307.7 1662.7,2307.7 1663.7,2307.7 1664.7,2307.7 1665.6,2307.7 1666.6,2307.6 1667.6,2307.6 1668.6,2307.4 1669.6,2307.0 1670.6,2306.4 1671.6,2305.2 1672.6,2303.6 1673.5,2301.8 1673.9,2301.1 1674.5,2300.3 1674.7,2300.2 1675.0,2299.9 1675.4,2299.8 1675.5,2299.8 1675.8,2299.9 1676.2,2300.2 1676.5,2300.6 1676.9,2301.1 1677.5,2302.2 1678.5,2304.0 1679.5,2305.5 1680.5,2306.5 1681.4,2307.1 1682.4,2307.4 1683.4,2307.6 1684.4,2307.6 1685.4,2307.7 1686.4,2307.7 1687.4,2307.7 1688.4,2307.7 1689.3,2307.7 1690.3,2307.7 1691.3,2307.7 1692.3,2307.7 1693.3,2307.7 1694.3,2307.7 1695.3,2307.7 1696.3,2307.7 1697.2,2307.7 1698.2,2307.7 1699.2,2307.7 1700.2,2307.7 1701.2,2307.7 1702.2,2307.7 1703.2,2307.7 1704.2,2307.7 1705.1,2307.6 1706.1,2307.6 1707.1,2307.6 1708.1,2307.6 1709.1,2307.5 1710.1,2307.4 1711.1,2307.2 1712.1,2306.7 1713.0,2305.7 1714.0,2304.0 1715.0,2301.4 1716.0,2298.0 1717.0,2294.5 1717.0,2294.4 1717.8,2292.5 1718.0,2292.2 1718.2,2292.0 1718.5,2291.8 1718.9,2292.0 1719.0,2292.1 1719.3,2292.5 1720.0,2294.2 1720.0,2294.4 1720.9,2297.6 1721.9,2301.1 1722.9,2303.8 1723.9,2305.6 1724.9,2306.6 1725.9,2307.1 1726.9,2307.4 1727.9,2307.5 1728.8,2307.6 1729.8,2307.6 1730.8,2307.6 1731.8,2307.6 1732.8,2307.7 1733.8,2307.7 1734.8,2307.7 1735.8,2307.7 1736.7,2307.7 1737.7,2307.7 1738.7,2307.7 1739.7,2307.7 1740.7,2307.7 1741.7,2307.7 1742.7,2307.7 1743.7,2307.7 1744.6,2307.7 1745.6,2307.7 1746.6,2307.7 1747.6,2307.7 1748.6,2307.7 1749.6,2307.6 1750.6,2307.5 1751.6,2307.3 1752.5,2307.0 1753.5,2306.5 1754.5,2306.1 1754.8,2305.9 1755.5,2305.7 1755.6,2305.7 1755.9,2305.6 1756.3,2305.6 1756.5,2305.6 1756.7,2305.6 1757.0,2305.7 1757.5,2305.8 1757.8,2305.9 1758.5,2306.2 1759.5,2306.7 1760.4,2307.1 1761.4,2307.4 1762.4,2307.6 1763.4,2307.7 1764.4,2307.7 1765.4,2307.7 1766.4,2307.7 1767.4,2307.7 1768.3,2307.7 1769.3,2307.8 1770.3,2307.8 1771.3,2307.8 1772.3,2307.8 1773.3,2307.8 1774.3,2307.7 1775.3,2307.7 1776.2,2307.7 1777.2,2307.7 1778.2,2307.7 1779.2,2307.7 1780.2,2307.7 1781.2,2307.7 1782.2,2307.7 1783.2,2307.7 1784.1,2307.7 1785.1,2307.6 1786.1,2307.6 1787.1,2307.6 1788.1,2307.5 1789.1,2307.4 1790.1,2307.1 1791.1,2306.5 1792.0,2305.4 1793.0,2303.7 1794.0,2301.4 1795.0,2298.9 1795.5,2297.7 1796.0,2296.8 1796.2,2296.4 1796.6,2296.0 1797.0,2295.9 1797.3,2296.0 1797.7,2296.4 1798.0,2296.8 1798.5,2297.7 1799.0,2298.9 1799.9,2301.4 1800.9,2303.7 1801.9,2305.4 1802.9,2306.5 1803.9,2307.1 1804.9,2307.3 1805.9,2307.5 1806.9,2307.6 1807.8,2307.6 1808.8,2307.6 1809.8,2307.7 1810.8,2307.7 1811.8,2307.7 1812.8,2307.7 1813.8,2307.7 1814.8,2307.7 1815.7,2307.7 1816.7,2307.7 1817.7,2307.7 1818.7,2307.7 1819.7,2307.7 1820.7,2307.7 1821.7,2307.7 1822.7,2307.7 1823.6,2307.7 1824.6,2307.7 1825.6,2307.6 1826.6,2307.6 1827.6,2307.5 1828.6,2307.3 1829.6,2306.9 1830.6,2306.2 1831.5,2305.2 1832.5,2303.8 1833.5,2302.3 1833.9,2301.8 1834.5,2301.2 1834.7,2301.1 1835.0,2300.9 1835.4,2300.8 1835.5,2300.8 1835.8,2300.9 1836.1,2301.1 1836.5,2301.4 1836.9,2301.8 1837.5,2302.6 1838.5,2304.1 1839.4,2305.4 1840.4,2306.4 1841.4,2307.0 1842.4,2307.4 1843.4,2307.5 1844.4,2307.6 1845.4,2307.7 1846.4,2307.7 1847.3,2307.7 1848.3,2307.7 1849.3,2307.7 1850.3,2307.7 1851.3,2307.7 1852.3,2307.7 1853.3,2307.8 1854.3,2307.8 1855.2,2307.8 1856.2,2307.8 1857.2,2307.8 1858.2,2307.8 1859.2,2307.8 1860.2,2307.8 1861.2,2307.8 1862.2,2307.8 1863.1,2307.8 1864.1,2307.8 1865.1,2307.8 1866.1,2307.8 1867.1,2307.8 1868.1,2307.8 1869.1,2307.8 1870.1,2307.8 1871.0,2307.8 1872.0,2307.8 1873.0,2307.8 1874.0,2307.8 1875.0,2307.8 1876.0,2307.8 1877.0,2307.8 1878.0,2307.8 1878.9,2307.8 1879.9,2307.8 1880.9,2307.8 1881.9,2307.8 1882.9,2307.8 1883.9,2307.8 1884.9,2307.8 1885.9,2307.8 1886.8,2307.8 1887.8,2307.8 1888.8,2307.8 1889.8,2307.8 1890.8,2307.8 1891.8,2307.8 1892.8,2307.8 1893.8,2307.7 1894.7,2307.7 1895.7,2307.7 1896.7,2307.7 1897.7,2307.7 1898.7,2307.7 1899.7,2307.7 1900.7,2307.7 1901.7,2307.6 1902.6,2307.5 1903.6,2307.3 1904.6,2307.0 1905.6,2306.4 1906.6,2305.4 1907.6,2304.1 1908.6,2302.7 1909.3,2301.7 1909.6,2301.5 1910.0,2301.1 1910.4,2300.9 1910.5,2300.8 1910.8,2300.8 1911.2,2300.9 1911.5,2301.0 1912.3,2301.7 1912.5,2302.1 1913.5,2303.4 1914.5,2304.8 1915.5,2305.9 1916.5,2306.7 1917.5,2307.2 1918.4,2307.4 1919.4,2307.6 1920.4,2307.6 1921.4,2307.7 1922.4,2307.7 1923.4,2307.7 1924.4,2307.7 1925.4,2307.7 1926.3,2307.7 1927.3,2307.7 1928.3,2307.7 1929.3,2307.7 1930.3,2307.7 1931.3,2307.7 1932.3,2307.7 1933.3,2307.7 1934.2,2307.7 1935.2,2307.7 1936.2,2307.7 1937.2,2307.7 1938.2,2307.6 1939.2,2307.5 1940.2,2307.3 1941.2,2306.9 1942.1,2306.4 1943.1,2305.7 1944.1,2305.0 1944.7,2304.6 1945.1,2304.4 1945.4,2304.2 1945.8,2304.1 1946.1,2304.1 1946.2,2304.1 1946.6,2304.1 1946.9,2304.2 1947.1,2304.3 1947.7,2304.6 1948.1,2304.8 1949.1,2305.6 1950.0,2306.3 1951.0,2306.8 1952.0,2307.2 1953.0,2307.5 1954.0,2307.6 1955.0,2307.7 1956.0,2307.7 1957.0,2307.7 1957.9,2307.7 1958.9,2307.7 1959.9,2307.7 1960.9,2307.8 1961.9,2307.8 1962.9,2307.8 1963.9,2307.8 1964.9,2307.8 1965.8,2307.8 1966.8,2307.8 1967.8,2307.8 1968.8,2307.8"/>
<path d="M357.0 2298V2338M508.3 2298V2338M623.5 2298V2338M720.6 2298V2338M806.8 2298V2338M884.6 2298V2338M958.5 2298V2338M1023.0 2298V2338M1087.0 2298V2338M1148.3 2298V2338M1203.0 2298V2338M1257.5 2298V2338M1312.3 2298V2338M1411.7 2298V2338M1457.0 2298V2338M1505.5 2298V2338M1547.0 2298V2338M1592.3 2298V2338M1633.8 2298V2338M1675.4 2298V2338M1717.8 2298V2338M1756.3 2298V2338M1797.8 2298V2338M1837.0 2298V2338M1872.3 2298V2338M1910.8 2298V2338M1946.2 2298V2338" stroke="#ff00ff" stroke-width="3.8" fill="none"/>
<polyline fill="none" stroke="#535353" stroke-width="9.5" stroke-linejoin="round" points="240.7,2414.2 241.7,2413.8 242.7,2414.0 243.7,2413.7 244.6,2413.6 245.6,2414.1 246.6,2413.9 247.6,2413.9 248.6,2414.0 249.6,2413.7 250.6,2413.6 251.6,2413.8 252.5,2413.3 253.5,2413.7 254.5,2414.0 255.5,2413.7 256.5,2414.2 257.5,2413.6 258.5,2413.5 259.5,2413.9 260.4,2413.7 261.4,2413.9 262.4,2413.5 263.4,2413.9 264.4,2413.7 265.4,2413.8 266.4,2414.0 267.4,2413.5 268.3,2413.7 269.3,2414.0 270.3,2414.0 271.3,2413.9 272.3,2413.4 273.3,2413.8 274.3,2413.6 275.3,2413.6 276.2,2413.3 277.2,2413.2 278.2,2414.0 279.2,2413.9 280.2,2413.3 281.2,2413.6 282.2,2413.7 283.2,2413.6 284.1,2413.8 285.1,2413.6 286.1,2413.4 287.1,2413.6 288.1,2413.8 289.1,2413.5 290.1,2413.9 291.1,2414.0 292.0,2413.9 293.0,2413.8 294.0,2413.7 295.0,2413.8 296.0,2413.5 297.0,2413.1 298.0,2413.5 299.0,2414.1 299.9,2414.0 300.9,2413.4 301.9,2413.6 302.9,2413.5 303.9,2413.4 304.9,2413.6 305.9,2413.9 306.9,2413.7 307.8,2413.6 308.8,2413.2 309.8,2414.3 310.8,2413.4 311.8,2413.7 312.8,2413.9 313.8,2413.7 314.8,2413.9 315.7,2413.1 316.7,2413.5 317.7,2413.5 318.7,2413.4 319.7,2413.3 320.7,2413.9 321.7,2413.4 322.7,2414.0 323.6,2413.9 324.6,2413.6 325.6,2413.4 326.6,2413.6 327.6,2413.5 328.6,2413.5 329.6,2413.5 330.6,2413.7 331.5,2413.6 332.5,2413.7 333.5,2413.7 334.5,2414.0 335.5,2414.2 336.5,2413.7 337.5,2413.7 338.5,2413.7 339.4,2413.9 340.4,2413.9 341.4,2413.7 342.4,2413.7 343.4,2413.8 344.4,2414.0 345.4,2413.6 346.4,2413.8 347.3,2413.2 348.3,2413.5 349.3,2413.8 350.3,2413.8 351.3,2411.0 352.3,2424.2 353.3,2384.9 354.3,2458.3 355.2,2364.1 356.2,2333.7 357.2,2495.7 358.2,2440.2 359.2,2406.4 360.2,2416.5 361.2,2413.4 362.2,2414.0 363.1,2414.1 364.1,2413.9 365.1,2413.8 366.1,2413.4 367.1,2414.0 368.1,2413.6 369.1,2413.9 370.1,2414.0 371.0,2413.3 372.0,2414.2 373.0,2413.7 374.0,2414.0 375.0,2413.9 376.0,2414.2 377.0,2414.0 378.0,2414.1 378.9,2413.9 379.9,2413.5 380.9,2413.7 381.9,2413.9 382.9,2413.9 383.9,2413.7 384.9,2413.5 385.9,2413.4 386.8,2413.7 387.8,2414.5 388.8,2413.7 389.8,2413.6 390.8,2413.9 391.8,2413.9 392.8,2413.7 393.8,2413.2 394.7,2413.5 395.7,2413.5 396.7,2413.9 397.7,2413.5 398.7,2413.6 399.7,2413.4 400.7,2413.6 401.7,2414.3 402.6,2413.9 403.6,2413.8 404.6,2413.5 405.6,2413.4 406.6,2414.0 407.6,2413.7 408.6,2413.9 409.6,2413.8 410.5,2413.7 411.5,2413.1 412.5,2413.9 413.5,2414.1 414.5,2413.7 415.5,2413.7 416.5,2413.8 417.5,2413.6 418.4,2413.2 419.4,2413.6 420.4,2413.7 421.4,2414.0 422.4,2413.5 423.4,2413.6 424.4,2413.7 425.4,2413.8 426.3,2414.2 427.3,2413.9 428.3,2413.9 429.3,2413.4 430.3,2414.1 431.3,2413.3 432.3,2414.0 433.3,2413.9 434.2,2413.7 435.2,2413.4 436.2,2413.8 437.2,2413.6 438.2,2414.0 439.2,2413.0 440.2,2413.7 441.2,2413.1 442.1,2413.7 443.1,2413.6 444.1,2413.9 445.1,2413.4 446.1,2413.5 447.1,2413.2 448.1,2413.6 449.1,2413.7 450.0,2413.6 451.0,2413.5 452.0,2413.7 453.0,2413.8 454.0,2413.8 455.0,2413.2 456.0,2413.6 457.0,2413.5 457.9,2413.0 458.9,2413.9 459.9,2413.8 460.9,2413.4 461.9,2413.8 462.9,2413.8 463.9,2413.6 464.9,2413.8 465.8,2413.7 466.8,2413.5 467.8,2414.0 468.8,2413.3 469.8,2414.2 470.8,2413.8 471.8,2413.6 472.8,2413.8 473.7,2413.5 474.7,2413.6 475.7,2414.2 476.7,2413.8 477.7,2413.7 478.7,2413.7 479.7,2413.9 480.7,2413.9 481.6,2413.6 482.6,2414.0 483.6,2413.7 484.6,2413.7 485.6,2413.9 486.6,2413.5 487.6,2413.3 488.6,2413.7 489.5,2413.9 490.5,2413.6 491.5,2413.9 492.5,2414.0 493.5,2413.6 494.5,2413.7 495.5,2413.7 496.5,2413.9 497.4,2413.8 498.4,2413.8 499.4,2414.0 500.4,2413.9 501.4,2413.5 502.4,2414.6 503.4,2410.1 504.4,2419.6 505.3,2404.0 506.3,2395.7 507.3,2431.7 508.3,2421.3 509.3,2410.8 510.3,2414.8 511.3,2413.5 512.3,2413.8 513.2,2414.0 514.2,2413.6 515.2,2413.6 516.2,2414.1 517.2,2413.9 518.2,2413.3 519.2,2413.7 520.2,2413.5 521.1,2413.6 522.1,2413.7 523.1,2413.3 524.1,2413.5 525.1,2414.2 526.1,2413.7 527.1,2413.6 528.1,2414.0 529.0,2413.4 530.0,2413.7 531.0,2414.0 532.0,2413.7 533.0,2413.8 534.0,2413.7 535.0,2413.8 536.0,2413.9 536.9,2413.7 537.9,2413.7 538.9,2413.8 539.9,2413.2 540.9,2413.9 541.9,2414.2 542.9,2413.9 543.9,2413.8 544.8,2413.6 545.8,2413.8 546.8,2414.2 547.8,2414.1 548.8,2413.5 549.8,2414.1 550.8,2413.5 551.8,2413.6 552.7,2413.7 553.7,2413.9 554.7,2413.7 555.7,2414.0 556.7,2413.8 557.7,2414.1 558.7,2413.4 559.7,2413.7 560.6,2413.9 561.6,2414.1 562.6,2413.2 563.6,2413.7 564.6,2413.2 565.6,2413.8 566.6,2413.6 567.6,2413.8 568.5,2414.0 569.5,2413.9 570.5,2413.7 571.5,2413.9 572.5,2414.5 573.5,2413.6 574.5,2413.9 575.5,2413.6 576.4,2413.9 577.4,2413.5 578.4,2413.9 579.4,2413.4 580.4,2413.8 581.4,2414.3 582.4,2413.4 583.4,2413.6 584.3,2414.0 585.3,2413.5 586.3,2413.1 587.3,2413.3 588.3,2413.8 589.3,2414.0 590.3,2413.7 591.3,2413.7 592.2,2414.0 593.2,2413.7 594.2,2414.1 595.2,2414.1 596.2,2413.6 597.2,2414.0 598.2,2413.9 599.2,2413.7 600.1,2413.7 601.1,2414.0 602.1,2413.4 603.1,2413.3 604.1,2414.0 605.1,2414.2 606.1,2413.8 607.1,2414.0 608.0,2413.3 609.0,2413.4 610.0,2413.6 611.0,2413.6 612.0,2413.8 613.0,2413.6 614.0,2413.7 615.0,2413.7 615.9,2413.8 616.9,2414.3 617.9,2412.3 618.9,2419.8 619.9,2396.6 620.9,2437.1 621.9,2375.7 622.9,2443.7 623.8,2394.0 624.8,2419.2 625.8,2411.8 626.8,2414.0 627.8,2413.3 628.8,2413.2 629.8,2413.6 630.8,2413.7 631.7,2413.1 632.7,2414.0 633.7,2413.5 634.7,2413.8 635.7,2414.0 636.7,2414.1 637.7,2413.6 638.7,2414.0 639.6,2413.9 640.6,2413.7 641.6,2413.8 642.6,2413.5 643.6,2413.8 644.6,2413.5 645.6,2413.7 646.6,2413.7 647.5,2414.0 648.5,2413.7 649.5,2413.6 650.5,2413.6 651.5,2414.4 652.5,2413.6 653.5,2413.8 654.5,2413.3 655.4,2413.7 656.4,2413.4 657.4,2413.6 658.4,2413.9 659.4,2414.1 660.4,2413.8 661.4,2413.9 662.4,2413.8 663.3,2413.6 664.3,2413.7 665.3,2414.0 666.3,2413.8 667.3,2413.6 668.3,2413.6 669.3,2413.8 670.3,2413.6 671.2,2413.9 672.2,2413.4 673.2,2413.9 674.2,2413.5 675.2,2413.7 676.2,2414.2 677.2,2414.0 678.2,2413.6 679.1,2413.6 680.1,2413.9 681.1,2414.0 682.1,2413.7 683.1,2413.9 684.1,2413.6 685.1,2413.0 686.1,2414.0 687.0,2413.6 688.0,2413.9 689.0,2413.7 690.0,2413.6 691.0,2413.5 692.0,2413.9 693.0,2413.9 694.0,2414.0 694.9,2413.9 695.9,2413.8 696.9,2413.6 697.9,2413.7 698.9,2413.8 699.9,2413.1 700.9,2413.4 701.9,2413.7 702.8,2413.9 703.8,2414.1 704.8,2414.1 705.8,2413.5 706.8,2413.7 707.8,2413.6 708.8,2413.5 709.8,2413.6 710.7,2413.7 711.7,2413.9 712.7,2413.3 713.7,2413.7 714.7,2413.4 715.7,2414.3 716.7,2413.4 717.7,2415.9 718.6,2410.6 719.6,2408.7 720.6,2418.7 721.6,2416.0 722.6,2412.7 723.6,2414.0 724.6,2413.4 725.6,2414.1 726.5,2413.7 727.5,2413.7 728.5,2413.4 729.5,2414.0 730.5,2413.4 731.5,2413.5 732.5,2413.6 733.5,2413.7 734.4,2413.3 735.4,2413.5 736.4,2413.9 737.4,2413.7 738.4,2413.7 739.4,2414.0 740.4,2413.8 741.4,2414.0 742.3,2413.7 743.3,2413.5 744.3,2414.1 745.3,2413.3 746.3,2413.4 747.3,2413.4 748.3,2414.3 749.3,2413.7 750.2,2414.0 751.2,2413.3 752.2,2413.4 753.2,2413.8 754.2,2413.6 755.2,2413.7 756.2,2413.9 757.2,2413.7 758.1,2413.7 759.1,2413.8 760.1,2413.7 761.1,2413.8 762.1,2414.0 763.1,2413.5 764.1,2413.8 765.1,2413.9 766.0,2413.7 767.0,2413.7 768.0,2414.2 769.0,2414.0 770.0,2414.3 771.0,2414.2 772.0,2413.6 773.0,2413.5 773.9,2413.6 774.9,2413.9 775.9,2412.9 776.9,2413.7 777.9,2414.0 778.9,2413.7 779.9,2413.8 780.9,2413.7 781.8,2413.3 782.8,2414.0 783.8,2413.6 784.8,2413.8 785.8,2413.7 786.8,2414.2 787.8,2413.8 788.8,2413.8 789.7,2413.7 790.7,2413.5 791.7,2413.8 792.7,2414.0 793.7,2413.7 794.7,2413.2 795.7,2413.5 796.7,2414.2 797.6,2413.6 798.6,2413.8 799.6,2413.2 800.6,2413.6 801.6,2413.3 802.6,2414.4 803.6,2412.3 804.6,2416.4 805.5,2410.3 806.5,2407.7 807.5,2419.7 808.5,2415.5 809.5,2413.2 810.5,2414.4 811.5,2413.6 812.5,2413.8 813.4,2413.7 814.4,2413.7 815.4,2413.8 816.4,2413.7 817.4,2413.7 818.4,2413.9 819.4,2413.4 820.4,2413.5 821.3,2413.6 822.3,2413.4 823.3,2413.8 824.3,2413.6 825.3,2413.5 826.3,2413.4 827.3,2413.5 828.3,2413.8 829.2,2413.4 830.2,2413.9 831.2,2413.9 832.2,2413.8 833.2,2413.3 834.2,2413.5 835.2,2414.0 836.2,2413.6 837.1,2413.5 838.1,2413.5 839.1,2413.8 840.1,2413.3 841.1,2414.0 842.1,2413.8 843.1,2413.5 844.1,2413.9 845.0,2413.0 846.0,2413.4 847.0,2413.8 848.0,2414.1 849.0,2413.4 850.0,2413.4 851.0,2413.7 852.0,2413.7 852.9,2413.5 853.9,2413.5 854.9,2414.1 855.9,2413.5 856.9,2413.3 857.9,2413.6 858.9,2414.0 859.9,2413.9 860.8,2413.7 861.8,2413.4 862.8,2413.7 863.8,2414.4 864.8,2413.9 865.8,2414.0 866.8,2413.3 867.8,2413.6 868.7,2413.6 869.7,2414.1 870.7,2413.6 871.7,2413.7 872.7,2413.6 873.7,2413.0 874.7,2414.0 875.7,2413.2 876.6,2413.6 877.6,2413.3 878.6,2413.5 879.6,2413.9 880.6,2412.3 881.6,2418.8 882.6,2405.5 883.6,2430.3 884.5,2393.7 885.5,2433.7 886.5,2403.3 887.5,2418.8 888.5,2413.0 889.5,2413.8 890.5,2413.7 891.5,2413.5 892.4,2413.8 893.4,2413.3 894.4,2413.9 895.4,2413.8 896.4,2413.8 897.4,2413.7 898.4,2413.8 899.4,2413.5 900.3,2413.7 901.3,2413.9 902.3,2413.8 903.3,2413.5 904.3,2413.8 905.3,2413.4 906.3,2413.5 907.3,2413.5 908.2,2413.6 909.2,2413.7 910.2,2413.9 911.2,2414.0 912.2,2413.8 913.2,2413.5 914.2,2413.9 915.2,2414.0 916.1,2413.5 917.1,2413.4 918.1,2413.7 919.1,2414.2 920.1,2413.6 921.1,2413.7 922.1,2413.9 923.1,2413.4 924.0,2413.4 925.0,2413.7 926.0,2413.9 927.0,2413.6 928.0,2413.5 929.0,2413.3 930.0,2414.1 931.0,2413.4 931.9,2414.0 932.9,2413.5 933.9,2414.0 934.9,2414.1 935.9,2413.5 936.9,2413.8 937.9,2413.9 938.9,2414.0 939.8,2413.6 940.8,2414.0 941.8,2413.7 942.8,2413.4 943.8,2414.0 944.8,2414.0 945.8,2413.7 946.8,2413.7 947.7,2413.9 948.7,2414.1 949.7,2413.4 950.7,2414.0 951.7,2414.2 952.7,2413.5 953.7,2413.8 954.7,2413.7 955.6,2413.8 956.6,2414.0 957.6,2413.3 958.6,2413.6 959.6,2413.4 960.6,2413.6 961.6,2414.2 962.6,2413.4 963.5,2413.6 964.5,2413.5 965.5,2413.8 966.5,2413.6 967.5,2413.5 968.5,2413.5 969.5,2413.7 970.5,2413.4 971.4,2413.1 972.4,2414.0 973.4,2413.7 974.4,2413.5 975.4,2413.7 976.4,2413.9 977.4,2413.5 978.4,2413.7 979.3,2413.6 980.3,2414.0 981.3,2413.1 982.3,2413.3 983.3,2414.1 984.3,2413.4 985.3,2413.5 986.3,2413.4 987.2,2413.1 988.2,2413.7 989.2,2413.9 990.2,2413.8 991.2,2413.4 992.2,2413.6 993.2,2414.1 994.2,2413.7 995.1,2413.5 996.1,2413.9 997.1,2413.6 998.1,2413.2 999.1,2413.5 1000.1,2413.9 1001.1,2413.7 1002.1,2413.7 1003.0,2413.9 1004.0,2413.5 1005.0,2413.3 1006.0,2413.7 1007.0,2413.5 1008.0,2413.7 1009.0,2413.5 1010.0,2413.5 1010.9,2413.3 1011.9,2413.8 1012.9,2414.2 1013.9,2413.4 1014.9,2414.0 1015.9,2413.9 1016.9,2413.5 1017.9,2413.4 1018.8,2413.8 1019.8,2413.6 1020.8,2413.6 1021.8,2413.6 1022.8,2414.2 1023.8,2413.3 1024.8,2413.8 1025.8,2414.2 1026.7,2413.7 1027.7,2414.2 1028.7,2413.7 1029.7,2413.7 1030.7,2413.9 1031.7,2413.5 1032.7,2413.7 1033.7,2413.8 1034.6,2413.5 1035.6,2413.8 1036.6,2414.0 1037.6,2413.4 1038.6,2413.7 1039.6,2413.8 1040.6,2413.5 1041.6,2414.0 1042.5,2414.0 1043.5,2413.6 1044.5,2413.8 1045.5,2413.5 1046.5,2413.7 1047.5,2413.8 1048.5,2413.7 1049.5,2413.7 1050.4,2413.6 1051.4,2414.0 1052.4,2413.9 1053.4,2413.6 1054.4,2413.8 1055.4,2414.4 1056.4,2413.6 1057.4,2414.1 1058.3,2414.4 1059.3,2413.7 1060.3,2413.9 1061.3,2413.2 1062.3,2414.1 1063.3,2413.9 1064.3,2413.9 1065.3,2413.8 1066.2,2414.0 1067.2,2414.0 1068.2,2413.9 1069.2,2413.6 1070.2,2413.7 1071.2,2413.7 1072.2,2413.7 1073.2,2413.5 1074.1,2413.4 1075.1,2413.7 1076.1,2413.5 1077.1,2413.6 1078.1,2413.4 1079.1,2413.4 1080.1,2413.5 1081.1,2413.9 1082.0,2413.6 1083.0,2415.4 1084.0,2411.2 1085.0,2409.7 1086.0,2417.7 1087.0,2415.6 1088.0,2413.0 1089.0,2414.1 1089.9,2413.3 1090.9,2413.9 1091.9,2413.7 1092.9,2413.3 1093.9,2413.5 1094.9,2413.9 1095.9,2413.9 1096.9,2413.7 1097.8,2414.0 1098.8,2413.9 1099.8,2413.3 1100.8,2413.4 1101.8,2413.8 1102.8,2413.5 1103.8,2413.6 1104.7,2413.8 1105.7,2413.6 1106.7,2413.5 1107.7,2413.4 1108.7,2414.2 1109.7,2413.4 1110.7,2413.6 1111.7,2414.0 1112.6,2413.7 1113.6,2413.5 1114.6,2413.4 1115.6,2414.0 1116.6,2413.9 1117.6,2413.2 1118.6,2413.4 1119.6,2413.9 1120.5,2414.1 1121.5,2413.6 1122.5,2413.9 1123.5,2413.3 1124.5,2413.3 1125.5,2413.4 1126.5,2413.8 1127.5,2413.8 1128.4,2413.9 1129.4,2413.3 1130.4,2414.1 1131.4,2413.6 1132.4,2414.4 1133.4,2413.8 1134.4,2413.2 1135.4,2413.7 1136.3,2413.5 1137.3,2414.1 1138.3,2413.8 1139.3,2414.0 1140.3,2413.5 1141.3,2413.5 1142.3,2413.7 1143.3,2413.7 1144.2,2413.5 1145.2,2413.8 1146.2,2414.0 1147.2,2413.6 1148.2,2413.6 1149.2,2413.6 1150.2,2413.8 1151.2,2413.7 1152.1,2413.8 1153.1,2414.0 1154.1,2413.6 1155.1,2413.6 1156.1,2413.6 1157.1,2414.1 1158.1,2413.7 1159.1,2413.7 1160.0,2413.6 1161.0,2413.9 1162.0,2413.8 1163.0,2413.4 1164.0,2413.9 1165.0,2413.8 1166.0,2414.0 1167.0,2413.8 1167.9,2413.7 1168.9,2413.4 1169.9,2414.0 1170.9,2414.0 1171.9,2413.5 1172.9,2413.7 1173.9,2413.8 1174.9,2413.7 1175.8,2413.8 1176.8,2413.6 1177.8,2413.5 1178.8,2414.0 1179.8,2413.3 1180.8,2413.9 1181.8,2413.5 1182.8,2413.7 1183.7,2413.5 1184.7,2413.7 1185.7,2413.5 1186.7,2413.8 1187.7,2413.3 1188.7,2413.4 1189.7,2413.7 1190.7,2413.9 1191.6,2413.5 1192.6,2414.2 1193.6,2413.6 1194.6,2413.9 1195.6,2413.2 1196.6,2413.4 1197.6,2413.5 1198.6,2413.3 1199.5,2413.7 1200.5,2412.3 1201.5,2415.2 1202.5,2410.5 1203.5,2407.7 1204.5,2419.7 1205.5,2415.9 1206.5,2413.1 1207.4,2414.5 1208.4,2413.3 1209.4,2413.4 1210.4,2413.5 1211.4,2414.1 1212.4,2413.4 1213.4,2413.4 1214.4,2413.3 1215.3,2413.8 1216.3,2413.9 1217.3,2413.5 1218.3,2414.0 1219.3,2413.7 1220.3,2413.5 1221.3,2413.8 1222.3,2414.0 1223.2,2414.0 1224.2,2413.8 1225.2,2414.0 1226.2,2413.7 1227.2,2413.8 1228.2,2414.2 1229.2,2413.7 1230.2,2413.5 1231.1,2413.4 1232.1,2413.6 1233.1,2413.2 1234.1,2413.5 1235.1,2413.4 1236.1,2413.7 1237.1,2413.4 1238.1,2413.7 1239.0,2413.7 1240.0,2413.9 1241.0,2414.0 1242.0,2414.1 1243.0,2413.6 1244.0,2413.3 1245.0,2413.9 1246.0,2413.8 1246.9,2413.6 1247.9,2413.9 1248.9,2414.2 1249.9,2413.8 1250.9,2413.6 1251.9,2413.7 1252.9,2413.5 1253.9,2414.1 1254.8,2414.0 1255.8,2411.9 1256.8,2416.0 1257.8,2410.7 1258.8,2416.7 1259.8,2412.8 1260.8,2414.4 1261.8,2413.1 1262.7,2413.9 1263.7,2413.9 1264.7,2414.2 1265.7,2413.8 1266.7,2413.9 1267.7,2413.7 1268.7,2413.9 1269.7,2414.1 1270.6,2413.9 1271.6,2413.6 1272.6,2413.7 1273.6,2414.2 1274.6,2413.4 1275.6,2413.6 1276.6,2413.5 1277.6,2414.0 1278.5,2413.5 1279.5,2413.6 1280.5,2413.7 1281.5,2413.8 1282.5,2413.9 1283.5,2413.4 1284.5,2413.4 1285.5,2413.3 1286.4,2414.0 1287.4,2413.6 1288.4,2413.8 1289.4,2413.7 1290.4,2413.3 1291.4,2413.3 1292.4,2413.4 1293.4,2414.2 1294.3,2413.6 1295.3,2413.8 1296.3,2413.4 1297.3,2414.4 1298.3,2413.7 1299.3,2413.3 1300.3,2413.6 1301.3,2413.8 1302.2,2414.0 1303.2,2413.6 1304.2,2413.9 1305.2,2413.5 1306.2,2414.4 1307.2,2411.0 1308.2,2418.0 1309.2,2408.8 1310.1,2405.7 1311.1,2420.7 1312.1,2416.8 1313.1,2413.0 1314.1,2414.1 1315.1,2413.3 1316.1,2414.0 1317.1,2413.3 1318.0,2414.0 1319.0,2413.8 1320.0,2413.6 1321.0,2413.5 1322.0,2413.7 1323.0,2413.6 1324.0,2413.3 1325.0,2414.0 1325.9,2413.3 1326.9,2413.7 1327.9,2413.6 1328.9,2414.1 1329.9,2413.3 1330.9,2414.0 1331.9,2413.8 1332.9,2413.0 1333.8,2413.3 1334.8,2413.5 1335.8,2413.4 1336.8,2413.8 1337.8,2413.8 1338.8,2414.0 1339.8,2413.5 1340.8,2413.8 1341.7,2413.6 1342.7,2413.8 1343.7,2413.7 1344.7,2413.7 1345.7,2413.6 1346.7,2413.8 1347.7,2413.7 1348.7,2413.5 1349.6,2413.2 1350.6,2414.0 1351.6,2413.9 1352.6,2413.7 1353.6,2414.0 1354.6,2413.7 1355.6,2413.7 1356.6,2413.6 1357.5,2414.0 1358.5,2414.2 1359.5,2413.7 1360.5,2413.5 1361.5,2414.0 1362.5,2413.9 1363.5,2413.9 1364.5,2413.3 1365.4,2413.8 1366.4,2413.8 1367.4,2413.6 1368.4,2413.8 1369.4,2413.7 1370.4,2413.8 1371.4,2413.7 1372.4,2413.6 1373.3,2414.1 1374.3,2413.7 1375.3,2413.9 1376.3,2413.9 1377.3,2413.5 1378.3,2413.7 1379.3,2413.5 1380.3,2413.7 1381.2,2413.4 1382.2,2413.9 1383.2,2413.7 1384.2,2413.4 1385.2,2413.8 1386.2,2413.5 1387.2,2413.3 1388.2,2413.8 1389.1,2413.7 1390.1,2413.5 1391.1,2413.9 1392.1,2413.8 1393.1,2413.8 1394.1,2414.0 1395.1,2413.8 1396.1,2414.0 1397.0,2413.8 1398.0,2413.8 1399.0,2413.0 1400.0,2413.6 1401.0,2414.2 1402.0,2413.6 1403.0,2413.7 1404.0,2413.6 1404.9,2413.3 1405.9,2413.9 1406.9,2414.2 1407.9,2414.1 1408.9,2413.7 1409.9,2413.5 1410.9,2413.6 1411.9,2413.8 1412.8,2413.6 1413.8,2413.9 1414.8,2413.8 1415.8,2413.4 1416.8,2413.4 1417.8,2413.9 1418.8,2413.9 1419.8,2413.7 1420.7,2414.1 1421.7,2413.7 1422.7,2413.6 1423.7,2413.7 1424.7,2413.8 1425.7,2413.1 1426.7,2413.7 1427.7,2413.7 1428.6,2413.5 1429.6,2413.5 1430.6,2414.0 1431.6,2413.6 1432.6,2413.6 1433.6,2413.9 1434.6,2413.4 1435.6,2414.3 1436.5,2413.5 1437.5,2413.5 1438.5,2413.3 1439.5,2413.6 1440.5,2413.5 1441.5,2413.6 1442.5,2413.4 1443.5,2413.1 1444.4,2414.0 1445.4,2413.9 1446.4,2413.9 1447.4,2413.8 1448.4,2413.9 1449.4,2413.5 1450.4,2414.5 1451.4,2413.2 1452.3,2414.2 1453.3,2411.8 1454.3,2417.2 1455.3,2408.7 1456.3,2418.7 1457.3,2411.9 1458.3,2414.7 1459.3,2413.6 1460.2,2413.5 1461.2,2413.9 1462.2,2413.5 1463.2,2413.3 1464.2,2413.9 1465.2,2413.8 1466.2,2413.6 1467.2,2413.5 1468.1,2413.9 1469.1,2413.6 1470.1,2413.5 1471.1,2413.8 1472.1,2413.8 1473.1,2413.4 1474.1,2414.0 1475.1,2413.3 1476.0,2413.5 1477.0,2413.8 1478.0,2413.7 1479.0,2413.9 1480.0,2413.8 1481.0,2413.1 1482.0,2414.0 1483.0,2413.6 1483.9,2413.7 1484.9,2413.5 1485.9,2413.4 1486.9,2413.9 1487.9,2413.8 1488.9,2413.8 1489.9,2413.5 1490.9,2414.1 1491.8,2413.8 1492.8,2413.9 1493.8,2413.7 1494.8,2413.8 1495.8,2414.0 1496.8,2413.9 1497.8,2414.1 1498.8,2413.3 1499.7,2414.9 1500.7,2411.2 1501.7,2416.3 1502.7,2409.7 1503.7,2417.7 1504.7,2412.7 1505.7,2414.2 1506.7,2413.4 1507.6,2413.3 1508.6,2413.6 1509.6,2413.7 1510.6,2413.8 1511.6,2413.5 1512.6,2413.4 1513.6,2413.2 1514.6,2413.7 1515.5,2413.6 1516.5,2413.9 1517.5,2413.3 1518.5,2414.0 1519.5,2413.7 1520.5,2413.6 1521.5,2413.7 1522.5,2413.9 1523.4,2413.9 1524.4,2413.2 1525.4,2413.6 1526.4,2413.8 1527.4,2413.8 1528.4,2413.8 1529.4,2413.5 1530.4,2413.8 1531.3,2413.7 1532.3,2413.7 1533.3,2414.0 1534.3,2413.7 1535.3,2413.8 1536.3,2414.1 1537.3,2414.0 1538.3,2413.4 1539.2,2413.4 1540.2,2413.2 1541.2,2414.0 1542.2,2413.6 1543.2,2413.8 1544.2,2413.0 1545.2,2414.6 1546.2,2411.2 1547.1,2410.7 1548.1,2416.7 1549.1,2414.5 1550.1,2413.3 1551.1,2413.9 1552.1,2413.6 1553.1,2413.7 1554.1,2414.0 1555.0,2414.1 1556.0,2413.8 1557.0,2414.1 1558.0,2413.3 1559.0,2413.7 1560.0,2413.7 1561.0,2413.6 1562.0,2413.8 1562.9,2414.2 1563.9,2413.8 1564.9,2414.0 1565.9,2414.1 1566.9,2414.0 1567.9,2413.7 1568.9,2413.6 1569.9,2414.0 1570.8,2413.9 1571.8,2413.6 1572.8,2414.1 1573.8,2413.5 1574.8,2413.4 1575.8,2413.7 1576.8,2413.4 1577.8,2413.7 1578.7,2413.7 1579.7,2413.6 1580.7,2413.7 1581.7,2413.4 1582.7,2413.2 1583.7,2413.8 1584.7,2414.2 1585.7,2413.1 1586.6,2415.6 1587.6,2410.6 1588.6,2409.7 1589.6,2417.7 1590.6,2415.2 1591.6,2413.0 1592.6,2413.9 1593.6,2413.8 1594.5,2413.7 1595.5,2413.3 1596.5,2413.6 1597.5,2413.5 1598.5,2413.8 1599.5,2413.9 1600.5,2413.4 1601.5,2413.8 1602.4,2413.5 1603.4,2413.6 1604.4,2413.8 1605.4,2414.0 1606.4,2413.8 1607.4,2413.9 1608.4,2413.6 1609.4,2413.7 1610.3,2413.9 1611.3,2413.8 1612.3,2413.8 1613.3,2413.8 1614.3,2414.1 1615.3,2414.1 1616.3,2414.1 1617.3,2413.8 1618.2,2413.5 1619.2,2413.4 1620.2,2413.8 1621.2,2413.5 1622.2,2413.2 1623.2,2413.6 1624.2,2414.3 1625.2,2413.7 1626.1,2413.8 1627.1,2413.7 1628.1,2413.8 1629.1,2413.4 1630.1,2413.8 1631.1,2413.9 1632.1,2413.8 1633.1,2413.8 1634.0,2413.7 1635.0,2413.9 1636.0,2413.4 1637.0,2413.2 1638.0,2413.6 1639.0,2413.7 1640.0,2413.9 1641.0,2413.5 1641.9,2413.8 1642.9,2413.7 1643.9,2413.9 1644.9,2413.6 1645.9,2413.9 1646.9,2413.9 1647.9,2413.6 1648.9,2413.7 1649.8,2413.6 1650.8,2413.5 1651.8,2413.6 1652.8,2413.5 1653.8,2413.9 1654.8,2413.8 1655.8,2413.7 1656.8,2413.7 1657.7,2413.7 1658.7,2414.1 1659.7,2413.9 1660.7,2413.6 1661.7,2413.9 1662.7,2413.3 1663.7,2413.6 1664.7,2413.5 1665.6,2413.8 1666.6,2413.6 1667.6,2413.5 1668.6,2413.5 1669.6,2413.4 1670.6,2413.4 1671.6,2413.5 1672.6,2413.8 1673.5,2413.8 1674.5,2413.9 1675.5,2414.1 1676.5,2413.9 1677.5,2413.3 1678.5,2413.6 1679.5,2414.1 1680.5,2413.7 1681.4,2413.8 1682.4,2413.8 1683.4,2413.4 1684.4,2413.8 1685.4,2413.7 1686.4,2413.5 1687.4,2413.8 1688.4,2414.1 1689.3,2413.7 1690.3,2413.4 1691.3,2413.7 1692.3,2413.5 1693.3,2413.1 1694.3,2413.6 1695.3,2413.8 1696.3,2413.5 1697.2,2413.7 1698.2,2413.7 1699.2,2413.6 1700.2,2413.6 1701.2,2413.6 1702.2,2413.6 1703.2,2413.7 1704.2,2413.8 1705.1,2413.6 1706.1,2413.5 1707.1,2413.8 1708.1,2413.5 1709.1,2414.2 1710.1,2413.6 1711.1,2414.2 1712.1,2413.7 1713.0,2414.0 1714.0,2413.3 1715.0,2415.3 1716.0,2411.3 1717.0,2409.7 1718.0,2417.7 1719.0,2414.9 1720.0,2413.3 1720.9,2413.4 1721.9,2414.1 1722.9,2413.9 1723.9,2413.6 1724.9,2414.1 1725.9,2414.2 1726.9,2414.0 1727.9,2413.1 1728.8,2413.2 1729.8,2413.9 1730.8,2413.4 1731.8,2413.8 1732.8,2413.6 1733.8,2413.8 1734.8,2413.6 1735.8,2413.7 1736.7,2413.3 1737.7,2413.7 1738.7,2413.5 1739.7,2413.9 1740.7,2413.5 1741.7,2413.8 1742.7,2413.8 1743.7,2413.7 1744.6,2413.5 1745.6,2413.7 1746.6,2413.7 1747.6,2413.9 1748.6,2413.5 1749.6,2413.4 1750.6,2413.9 1751.6,2413.7 1752.5,2414.0 1753.5,2414.0 1754.5,2413.2 1755.5,2413.7 1756.5,2413.7 1757.5,2413.7 1758.5,2413.9 1759.5,2414.2 1760.4,2413.6 1761.4,2413.7 1762.4,2413.8 1763.4,2413.9 1764.4,2413.7 1765.4,2413.9 1766.4,2414.0 1767.4,2413.6 1768.3,2414.0 1769.3,2413.5 1770.3,2414.0 1771.3,2413.5 1772.3,2413.5 1773.3,2413.3 1774.3,2413.6 1775.3,2413.7 1776.2,2413.6 1777.2,2413.6 1778.2,2413.6 1779.2,2413.6 1780.2,2413.6 1781.2,2413.7 1782.2,2413.5 1783.2,2413.7 1784.1,2413.4 1785.1,2413.3 1786.1,2413.9 1787.1,2413.5 1788.1,2413.7 1789.1,2413.4 1790.1,2413.3 1791.1,2413.3 1792.0,2413.6 1793.0,2413.4 1794.0,2414.4 1795.0,2411.6 1796.0,2410.7 1797.0,2416.7 1798.0,2414.8 1799.0,2413.3 1799.9,2413.9 1800.9,2413.5 1801.9,2413.9 1802.9,2413.3 1803.9,2413.5 1804.9,2413.8 1805.9,2414.1 1806.9,2413.5 1807.8,2414.1 1808.8,2414.0 1809.8,2413.5 1810.8,2413.8 1811.8,2413.9 1812.8,2413.4 1813.8,2414.0 1814.8,2413.3 1815.7,2414.0 1816.7,2414.0 1817.7,2414.1 1818.7,2413.9 1819.7,2413.7 1820.7,2413.3 1821.7,2414.1 1822.7,2413.8 1823.6,2413.9 1824.6,2413.5 1825.6,2413.1 1826.6,2413.8 1827.6,2413.5 1828.6,2413.7 1829.6,2413.8 1830.6,2413.4 1831.5,2413.8 1832.5,2413.5 1833.5,2413.5 1834.5,2413.9 1835.5,2413.3 1836.5,2413.5 1837.5,2413.6 1838.5,2413.9 1839.4,2413.7 1840.4,2413.8 1841.4,2413.4 1842.4,2413.3 1843.4,2413.6 1844.4,2414.1 1845.4,2413.8 1846.4,2413.6 1847.3,2413.5 1848.3,2414.0 1849.3,2413.8 1850.3,2413.3 1851.3,2413.2 1852.3,2414.2 1853.3,2413.7 1854.3,2413.7 1855.2,2413.8 1856.2,2413.7 1857.2,2413.6 1858.2,2413.7 1859.2,2413.2 1860.2,2413.6 1861.2,2413.6 1862.2,2413.9 1863.1,2413.9 1864.1,2413.6 1865.1,2413.6 1866.1,2413.7 1867.1,2414.2 1868.1,2413.9 1869.1,2413.5 1870.1,2414.0 1871.0,2413.4 1872.0,2414.0 1873.0,2413.7 1874.0,2413.4 1875.0,2413.6 1876.0,2413.6 1877.0,2413.9 1878.0,2414.0 1878.9,2413.2 1879.9,2413.6 1880.9,2413.9 1881.9,2413.8 1882.9,2413.8 1883.9,2413.8 1884.9,2413.9 1885.9,2414.0 1886.8,2413.6 1887.8,2413.1 1888.8,2413.8 1889.8,2413.5 1890.8,2413.3 1891.8,2413.7 1892.8,2413.5 1893.8,2413.7 1894.7,2413.2 1895.7,2413.8 1896.7,2413.7 1897.7,2413.7 1898.7,2413.5 1899.7,2413.5 1900.7,2413.9 1901.7,2413.8 1902.6,2413.6 1903.6,2413.4 1904.6,2413.8 1905.6,2413.5 1906.6,2413.9 1907.6,2413.5 1908.6,2413.7 1909.6,2413.8 1910.5,2413.5 1911.5,2413.8 1912.5,2413.3 1913.5,2414.0 1914.5,2413.6 1915.5,2413.6 1916.5,2413.6 1917.5,2413.6 1918.4,2413.5 1919.4,2413.7 1920.4,2413.5 1921.4,2413.6 1922.4,2413.7 1923.4,2413.6 1924.4,2413.5 1925.4,2413.9 1926.3,2414.1 1927.3,2413.5 1928.3,2413.9 1929.3,2413.5 1930.3,2413.6 1931.3,2413.4 1932.3,2413.5 1933.3,2413.5 1934.2,2413.6 1935.2,2413.6 1936.2,2414.2 1937.2,2413.5 1938.2,2413.8 1939.2,2413.9 1940.2,2413.2 1941.2,2413.3 1942.1,2413.9 1943.1,2413.4 1944.1,2413.6 1945.1,2413.0 1946.1,2413.4 1947.1,2413.6 1948.1,2413.9 1949.1,2414.2 1950.0,2413.5 1951.0,2414.0 1952.0,2413.7 1953.0,2413.6 1954.0,2413.6 1955.0,2413.6 1956.0,2413.3 1957.0,2413.7 1957.9,2413.4 1958.9,2413.8 1959.9,2414.3 1960.9,2413.4 1961.9,2414.1 1962.9,2413.4 1963.9,2413.6 1964.9,2413.9 1965.8,2413.8 1966.8,2414.0 1967.8,2414.0 1968.8,2413.6"/>
</g>
<g font-family="'Liberation Sans', Arial, sans-serif" fill="#000">
<text transform="translate(240.7 2650.6) scale(1.0 1)" font-size="74.5" text-anchor="middle">5</text>
<text transform="translate(487.6 2650.6) scale(0.95 1)" font-size="74.5" text-anchor="middle">10</text>
<text transform="translate(734.4 2650.6) scale(0.95 1)" font-size="74.5" text-anchor="middle">15</text>
<text transform="translate(981.3 2650.6) scale(0.95 1)" font-size="74.5" text-anchor="middle">20</text>
<text transform="translate(1228.2 2650.6) scale(0.95 1)" font-size="74.5" text-anchor="middle">25</text>
<text transform="translate(1475.1 2650.6) scale(0.95 1)" font-size="74.5" text-anchor="middle">30</text>
<text transform="translate(1721.9 2650.6) scale(0.95 1)" font-size="74.5" text-anchor="middle">35</text>
<text transform="translate(1968.8 2650.6) scale(0.95 1)" font-size="74.5" text-anchor="middle">40</text>
<text x="1897.5" y="159.7" font-size="92.5" text-anchor="middle">A</text>
<text x="1899.0" y="1029.2" font-size="92.5" text-anchor="middle">B</text>
<text x="1896.2" y="1840.3" font-size="92.5" text-anchor="middle">C</text>
<text transform="translate(127.4 472.4) rotate(-90)" font-size="84" font-weight="bold" text-anchor="middle" textLength="536" lengthAdjust="spacingAndGlyphs">Intensity (a.u.)</text>
<text transform="translate(127.4 1263) rotate(-90)" font-size="84" font-weight="bold" text-anchor="middle" textLength="536" lengthAdjust="spacingAndGlyphs">Intensity (a.u.)</text>
<text transform="translate(127.4 2093.8) rotate(-90)" font-size="84" font-weight="bold" text-anchor="middle" textLength="536" lengthAdjust="spacingAndGlyphs">Intensity (a.u.)</text>
<text x="868" y="2798.2" font-size="88" font-weight="bold" text-anchor="start">2</text>
<text transform="translate(943.1 2798.2) scale(1.22 1)" font-family="'Liberation Serif', 'DejaVu Serif', serif" font-size="93" text-anchor="middle">θ</text>
<text x="994.5" y="2798.2" font-size="88" font-weight="bold" text-anchor="start">(degree)</text>
</g>
</svg>
</body></html>
